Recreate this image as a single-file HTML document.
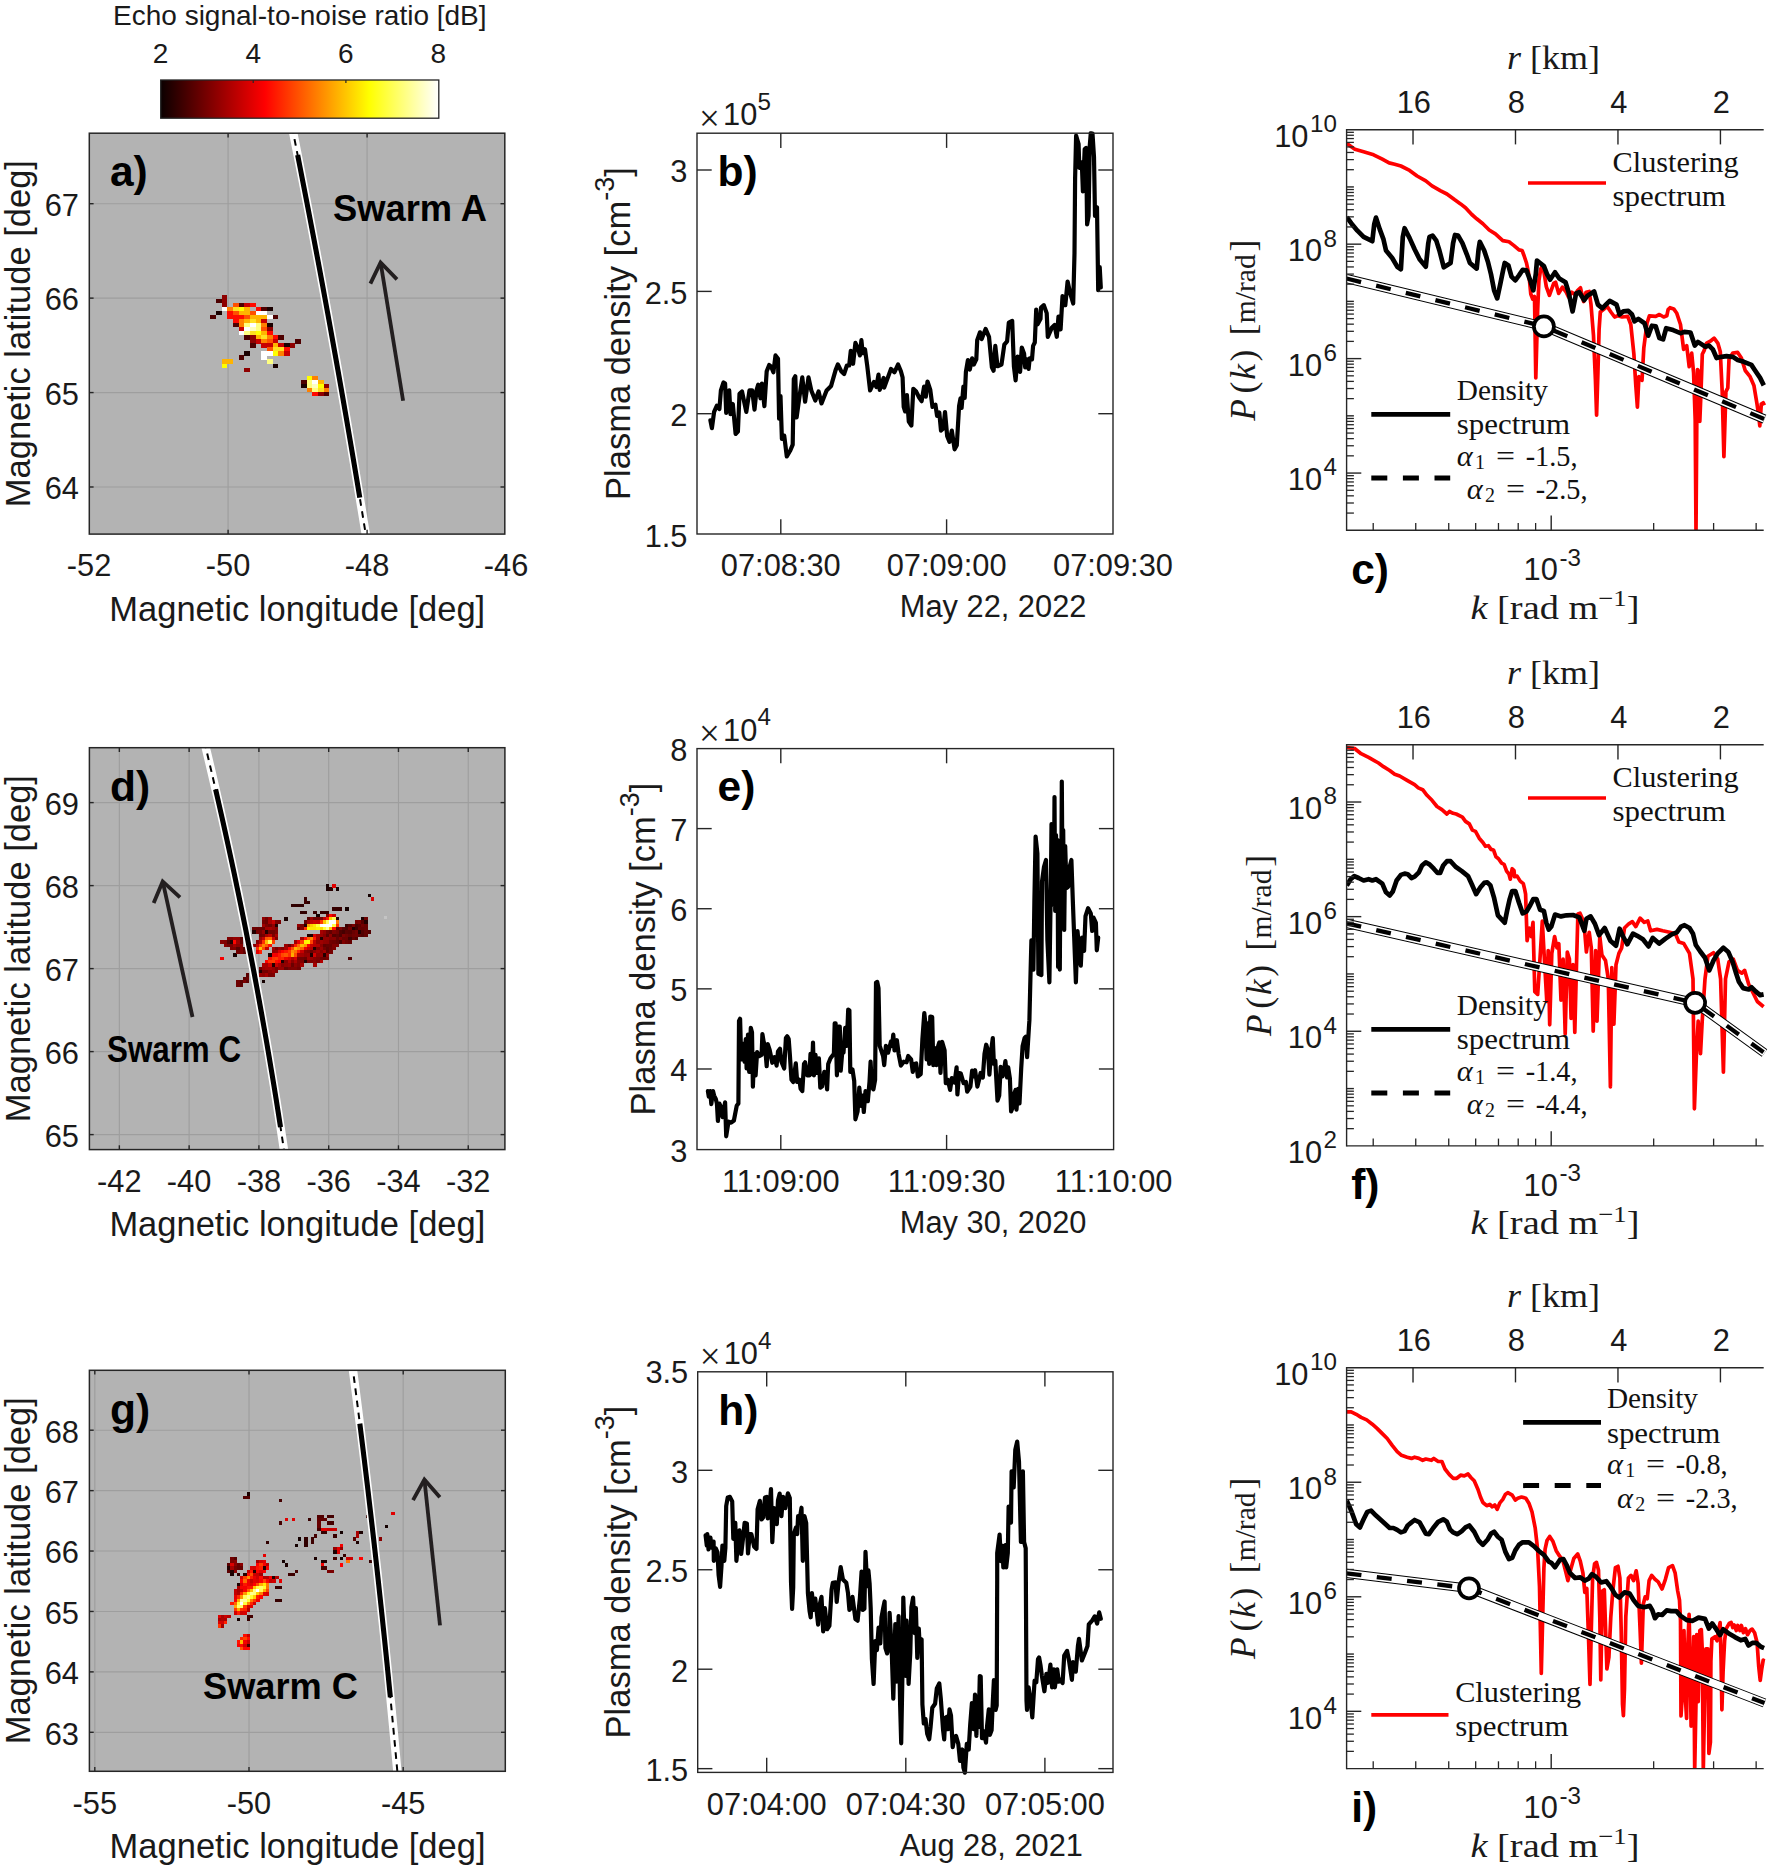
<!DOCTYPE html><html><head><meta charset="utf-8"><title>Figure</title><style>html,body{margin:0;padding:0;background:#fff}svg{display:block}</style></head><body>
<svg width="1770" height="1871" viewBox="0 0 1770 1871">
<rect width="1770" height="1871" fill="#fff"/>
<defs><linearGradient id="hot" x1="0" x2="1" y1="0" y2="0"><stop offset="0" stop-color="#0b0000"/><stop offset="0.375" stop-color="#ff0000"/><stop offset="0.75" stop-color="#ffff00"/><stop offset="1" stop-color="#ffffff"/></linearGradient></defs>
<rect x="160.7" y="80" width="278.1" height="38.2" fill="url(#hot)" stroke="#262626" stroke-width="1.3"/>
<text x="160.5" y="62.8" font-size="28" text-anchor="middle" font-family='"Liberation Sans", Arial, sans-serif' font-weight="normal" font-style="normal" fill="#1a1a1a" >2</text>
<text x="253.2" y="62.8" font-size="28" text-anchor="middle" font-family='"Liberation Sans", Arial, sans-serif' font-weight="normal" font-style="normal" fill="#1a1a1a" >4</text>
<line x1="253.2" y1="80" x2="253.2" y2="83" stroke="#262626" stroke-width="1.2" />
<text x="345.9" y="62.8" font-size="28" text-anchor="middle" font-family='"Liberation Sans", Arial, sans-serif' font-weight="normal" font-style="normal" fill="#1a1a1a" >6</text>
<line x1="345.9" y1="80" x2="345.9" y2="83" stroke="#262626" stroke-width="1.2" />
<text x="438.3" y="62.8" font-size="28" text-anchor="middle" font-family='"Liberation Sans", Arial, sans-serif' font-weight="normal" font-style="normal" fill="#1a1a1a" >8</text>
<text x="299.8" y="24.6" font-size="28" text-anchor="middle" font-family='"Liberation Sans", Arial, sans-serif' font-weight="normal" font-style="normal" fill="#1a1a1a" >Echo signal-to-noise ratio [dB]</text>
<rect x="89.3" y="133.2" width="415.5" height="400.9" fill="#b3b3b3"/>
<line x1="228.1" y1="133.2" x2="228.1" y2="534.1" stroke="#9e9e9e" stroke-width="1.15" />
<line x1="367.1" y1="133.2" x2="367.1" y2="534.1" stroke="#9e9e9e" stroke-width="1.15" />
<line x1="89.3" y1="486.99" x2="504.8" y2="486.99" stroke="#9e9e9e" stroke-width="1.15" />
<line x1="89.3" y1="392.56" x2="504.8" y2="392.56" stroke="#9e9e9e" stroke-width="1.15" />
<line x1="89.3" y1="298.13" x2="504.8" y2="298.13" stroke="#9e9e9e" stroke-width="1.15" />
<line x1="89.3" y1="203.7" x2="504.8" y2="203.7" stroke="#9e9e9e" stroke-width="1.15" />
<g shape-rendering="crispEdges">
<rect x="221.61" y="295.12" width="5.81" height="4.17" fill="#8f0000"/>
<rect x="215.95" y="299.15" width="5.81" height="4.17" fill="#4d0000"/>
<rect x="221.61" y="299.15" width="5.81" height="4.17" fill="#8f0000"/>
<rect x="221.61" y="303.17" width="5.81" height="4.17" fill="#8f0000"/>
<rect x="232.94" y="303.17" width="5.81" height="4.17" fill="#ff5000"/>
<rect x="238.6" y="303.17" width="5.81" height="4.17" fill="#4d0000"/>
<rect x="244.26" y="303.17" width="5.81" height="4.17" fill="#c80000"/>
<rect x="249.92" y="303.17" width="5.81" height="4.17" fill="#ff0a00"/>
<rect x="221.61" y="307.19" width="5.81" height="4.17" fill="#ffffff"/>
<rect x="227.27" y="307.19" width="5.81" height="4.17" fill="#ff8000"/>
<rect x="232.94" y="307.19" width="5.81" height="4.17" fill="#ffe020"/>
<rect x="238.6" y="307.19" width="5.81" height="4.17" fill="#ffff00"/>
<rect x="244.26" y="307.19" width="5.81" height="4.17" fill="#ffb400"/>
<rect x="255.59" y="307.19" width="5.81" height="4.17" fill="#ff0a00"/>
<rect x="261.25" y="307.19" width="5.81" height="4.17" fill="#4d0000"/>
<rect x="266.91" y="307.19" width="5.81" height="4.17" fill="#1a0000"/>
<rect x="215.95" y="311.21" width="5.81" height="4.17" fill="#1a0000"/>
<rect x="227.27" y="311.21" width="5.81" height="4.17" fill="#ff0a00"/>
<rect x="232.94" y="311.21" width="5.81" height="4.17" fill="#ff5000"/>
<rect x="238.6" y="311.21" width="5.81" height="4.17" fill="#ffb400"/>
<rect x="244.26" y="311.21" width="5.81" height="4.17" fill="#ffb400"/>
<rect x="249.92" y="311.21" width="5.81" height="4.17" fill="#ff5000"/>
<rect x="255.59" y="311.21" width="5.81" height="4.17" fill="#ffffff"/>
<rect x="261.25" y="311.21" width="5.81" height="4.17" fill="#ffffff"/>
<rect x="210.28" y="315.23" width="5.81" height="4.17" fill="#4d0000"/>
<rect x="227.27" y="315.23" width="5.81" height="4.17" fill="#ff0a00"/>
<rect x="232.94" y="315.23" width="5.81" height="4.17" fill="#ff0a00"/>
<rect x="238.6" y="315.23" width="5.81" height="4.17" fill="#ff0a00"/>
<rect x="244.26" y="315.23" width="5.81" height="4.17" fill="#ff5000"/>
<rect x="249.92" y="315.23" width="5.81" height="4.17" fill="#ffb400"/>
<rect x="255.59" y="315.23" width="5.81" height="4.17" fill="#ffb400"/>
<rect x="261.25" y="315.23" width="5.81" height="4.17" fill="#ffb400"/>
<rect x="266.91" y="315.23" width="5.81" height="4.17" fill="#ffffff"/>
<rect x="272.58" y="315.23" width="5.81" height="4.17" fill="#4d0000"/>
<rect x="232.94" y="319.26" width="5.81" height="4.17" fill="#ff0a00"/>
<rect x="238.6" y="319.26" width="5.81" height="4.17" fill="#ff8000"/>
<rect x="244.26" y="319.26" width="5.81" height="4.17" fill="#ffb400"/>
<rect x="249.92" y="319.26" width="5.81" height="4.17" fill="#ffe020"/>
<rect x="255.59" y="319.26" width="5.81" height="4.17" fill="#ffb400"/>
<rect x="261.25" y="319.26" width="5.81" height="4.17" fill="#c80000"/>
<rect x="232.94" y="323.28" width="5.81" height="4.17" fill="#4d0000"/>
<rect x="238.6" y="323.28" width="5.81" height="4.17" fill="#ff8000"/>
<rect x="244.26" y="323.28" width="5.81" height="4.17" fill="#ffff80"/>
<rect x="249.92" y="323.28" width="5.81" height="4.17" fill="#ffffff"/>
<rect x="255.59" y="323.28" width="5.81" height="4.17" fill="#ffff80"/>
<rect x="261.25" y="323.28" width="5.81" height="4.17" fill="#ff8000"/>
<rect x="266.91" y="323.28" width="5.81" height="4.17" fill="#1a0000"/>
<rect x="238.6" y="327.3" width="5.81" height="4.17" fill="#c80000"/>
<rect x="244.26" y="327.3" width="5.81" height="4.17" fill="#ffffff"/>
<rect x="249.92" y="327.3" width="5.81" height="4.17" fill="#ffffc0"/>
<rect x="255.59" y="327.3" width="5.81" height="4.17" fill="#ffff80"/>
<rect x="261.25" y="327.3" width="5.81" height="4.17" fill="#ff5000"/>
<rect x="266.91" y="327.3" width="5.81" height="4.17" fill="#8f0000"/>
<rect x="238.6" y="331.32" width="5.81" height="4.17" fill="#ffffff"/>
<rect x="244.26" y="331.32" width="5.81" height="4.17" fill="#ffff80"/>
<rect x="249.92" y="331.32" width="5.81" height="4.17" fill="#ffe020"/>
<rect x="255.59" y="331.32" width="5.81" height="4.17" fill="#ffff00"/>
<rect x="261.25" y="331.32" width="5.81" height="4.17" fill="#ffb400"/>
<rect x="266.91" y="331.32" width="5.81" height="4.17" fill="#ff0a00"/>
<rect x="244.26" y="335.34" width="5.81" height="4.17" fill="#4d0000"/>
<rect x="249.92" y="335.34" width="5.81" height="4.17" fill="#8f0000"/>
<rect x="255.59" y="335.34" width="5.81" height="4.17" fill="#ffb400"/>
<rect x="261.25" y="335.34" width="5.81" height="4.17" fill="#ffe020"/>
<rect x="266.91" y="335.34" width="5.81" height="4.17" fill="#ff8000"/>
<rect x="272.58" y="335.34" width="5.81" height="4.17" fill="#ff0a00"/>
<rect x="278.24" y="335.34" width="5.81" height="4.17" fill="#4d0000"/>
<rect x="249.92" y="339.37" width="5.81" height="4.17" fill="#8f0000"/>
<rect x="255.59" y="339.37" width="5.81" height="4.17" fill="#c80000"/>
<rect x="261.25" y="339.37" width="5.81" height="4.17" fill="#ff8000"/>
<rect x="266.91" y="339.37" width="5.81" height="4.17" fill="#ff5000"/>
<rect x="272.58" y="339.37" width="5.81" height="4.17" fill="#c80000"/>
<rect x="295.23" y="339.37" width="5.81" height="4.17" fill="#4d0000"/>
<rect x="249.92" y="343.39" width="5.81" height="4.17" fill="#4d0000"/>
<rect x="261.25" y="343.39" width="5.81" height="4.17" fill="#c80000"/>
<rect x="266.91" y="343.39" width="5.81" height="4.17" fill="#c80000"/>
<rect x="272.58" y="343.39" width="5.81" height="4.17" fill="#ffb400"/>
<rect x="278.24" y="343.39" width="5.81" height="4.17" fill="#c80000"/>
<rect x="283.9" y="343.39" width="5.81" height="4.17" fill="#1a0000"/>
<rect x="289.57" y="343.39" width="5.81" height="4.17" fill="#8f0000"/>
<rect x="266.91" y="347.41" width="5.81" height="4.17" fill="#ff5000"/>
<rect x="272.58" y="347.41" width="5.81" height="4.17" fill="#ffe020"/>
<rect x="278.24" y="347.41" width="5.81" height="4.17" fill="#ffe020"/>
<rect x="283.9" y="347.41" width="5.81" height="4.17" fill="#ff0a00"/>
<rect x="244.26" y="351.43" width="5.81" height="4.17" fill="#1a0000"/>
<rect x="261.25" y="351.43" width="5.81" height="4.17" fill="#ffffff"/>
<rect x="266.91" y="351.43" width="5.81" height="4.17" fill="#ffffff"/>
<rect x="272.58" y="351.43" width="5.81" height="4.17" fill="#ffff00"/>
<rect x="278.24" y="351.43" width="5.81" height="4.17" fill="#ff8000"/>
<rect x="283.9" y="351.43" width="5.81" height="4.17" fill="#c80000"/>
<rect x="238.6" y="355.45" width="5.81" height="4.17" fill="#4d0000"/>
<rect x="261.25" y="355.45" width="5.81" height="4.17" fill="#ffffff"/>
<rect x="221.61" y="359.48" width="5.81" height="4.17" fill="#ffb400"/>
<rect x="227.27" y="359.48" width="5.81" height="4.17" fill="#ffb400"/>
<rect x="266.91" y="359.48" width="5.81" height="4.17" fill="#ffff80"/>
<rect x="221.61" y="363.5" width="5.81" height="4.17" fill="#ffff00"/>
<rect x="272.58" y="363.5" width="5.81" height="4.17" fill="#1a0000"/>
<rect x="244.26" y="367.52" width="5.81" height="4.17" fill="#8f0000"/>
<rect x="306.56" y="375.56" width="5.81" height="4.17" fill="#ffff00"/>
<rect x="312.22" y="375.56" width="5.81" height="4.17" fill="#ff8000"/>
<rect x="300.89" y="379.59" width="5.81" height="4.17" fill="#4d0000"/>
<rect x="306.56" y="379.59" width="5.81" height="4.17" fill="#ffff80"/>
<rect x="312.22" y="379.59" width="5.81" height="4.17" fill="#ffffff"/>
<rect x="317.88" y="379.59" width="5.81" height="4.17" fill="#ffb400"/>
<rect x="300.89" y="383.61" width="5.81" height="4.17" fill="#1a0000"/>
<rect x="306.56" y="383.61" width="5.81" height="4.17" fill="#ffff80"/>
<rect x="312.22" y="383.61" width="5.81" height="4.17" fill="#ffffc0"/>
<rect x="317.88" y="383.61" width="5.81" height="4.17" fill="#ffff00"/>
<rect x="323.55" y="383.61" width="5.81" height="4.17" fill="#8f0000"/>
<rect x="306.56" y="387.63" width="5.81" height="4.17" fill="#ff8000"/>
<rect x="312.22" y="387.63" width="5.81" height="4.17" fill="#ffff80"/>
<rect x="317.88" y="387.63" width="5.81" height="4.17" fill="#ffe020"/>
<rect x="323.55" y="387.63" width="5.81" height="4.17" fill="#ff8000"/>
<rect x="312.22" y="391.65" width="5.81" height="4.17" fill="#ff0a00"/>
<rect x="317.88" y="391.65" width="5.81" height="4.17" fill="#8f0000"/>
<rect x="323.55" y="391.65" width="5.81" height="4.17" fill="#4d0000"/>
</g>
<clipPath id="clipa"><rect x="89.3" y="133.2" width="415.5" height="400.9"/></clipPath>
<g clip-path="url(#clipa)" fill="none">
<polyline points="292.1,127.2 295.53,144.4 298.93,161.61 302.3,178.81 305.65,196.02 308.97,213.22 312.26,230.43 315.52,247.63 318.75,264.83 321.96,282.04 325.14,299.24 328.29,316.45 331.41,333.65 334.5,350.85 337.57,368.06 340.61,385.26 343.62,402.47 346.6,419.67 349.55,436.88 352.48,454.08 355.38,471.28 358.25,488.49 361.1,505.69 363.91,522.9 366.7,540.1" stroke="#fff" stroke-width="8.4"/>
<polyline points="292.1,127.2 295.53,144.4 298.93,161.61 302.3,178.81 305.65,196.02 308.97,213.22 312.26,230.43 315.52,247.63 318.75,264.83 321.96,282.04 325.14,299.24 328.29,316.45 331.41,333.65 334.5,350.85 337.57,368.06 340.61,385.26 343.62,402.47 346.6,419.67 349.55,436.88 352.48,454.08 355.38,471.28 358.25,488.49 361.1,505.69 363.91,522.9 366.7,540.1" stroke="#000" stroke-width="2" stroke-dasharray="6.6 5.6"/>
<polyline points="297.65,155.1 300.46,169.38 303.25,183.65 306.02,197.93 308.77,212.2 311.5,226.47 314.22,240.75 316.91,255.03 319.59,269.3 322.24,283.57 324.88,297.85 327.5,312.12 330.09,326.4 332.67,340.68 335.23,354.95 337.77,369.23 340.3,383.5 342.8,397.78 345.28,412.05 347.75,426.33 350.19,440.6 352.62,454.88 355.02,469.15 357.41,483.42 359.78,497.7" stroke="#000" stroke-width="5.1"/>
</g>
<line x1="403.1" y1="400.7" x2="380.6" y2="262.5" stroke="#231f20" stroke-width="3.8" />
<polyline points="397,279.33 380.6,262.5 370.39,283.67" fill="none" stroke="#231f20" stroke-width="3.8" stroke-linejoin="miter"/>
<rect x="89.3" y="133.2" width="415.5" height="400.9" fill="none" stroke="#262626" stroke-width="1.5"/>
<text x="89.1" y="576.3" font-size="30.8" text-anchor="middle" font-family='"Liberation Sans", Arial, sans-serif' font-weight="normal" font-style="normal" fill="#1a1a1a" >-52</text>
<line x1="228.1" y1="534.1" x2="228.1" y2="529.8" stroke="#262626" stroke-width="1.4" />
<line x1="228.1" y1="133.2" x2="228.1" y2="137.5" stroke="#262626" stroke-width="1.4" />
<text x="228.1" y="576.3" font-size="30.8" text-anchor="middle" font-family='"Liberation Sans", Arial, sans-serif' font-weight="normal" font-style="normal" fill="#1a1a1a" >-50</text>
<line x1="367.1" y1="534.1" x2="367.1" y2="529.8" stroke="#262626" stroke-width="1.4" />
<line x1="367.1" y1="133.2" x2="367.1" y2="137.5" stroke="#262626" stroke-width="1.4" />
<text x="367.1" y="576.3" font-size="30.8" text-anchor="middle" font-family='"Liberation Sans", Arial, sans-serif' font-weight="normal" font-style="normal" fill="#1a1a1a" >-48</text>
<text x="506.1" y="576.3" font-size="30.8" text-anchor="middle" font-family='"Liberation Sans", Arial, sans-serif' font-weight="normal" font-style="normal" fill="#1a1a1a" >-46</text>
<line x1="89.3" y1="486.99" x2="93.6" y2="486.99" stroke="#262626" stroke-width="1.4" />
<line x1="504.8" y1="486.99" x2="500.5" y2="486.99" stroke="#262626" stroke-width="1.4" />
<text x="78.9" y="499.29" font-size="30.8" text-anchor="end" font-family='"Liberation Sans", Arial, sans-serif' font-weight="normal" font-style="normal" fill="#1a1a1a" >64</text>
<line x1="89.3" y1="392.56" x2="93.6" y2="392.56" stroke="#262626" stroke-width="1.4" />
<line x1="504.8" y1="392.56" x2="500.5" y2="392.56" stroke="#262626" stroke-width="1.4" />
<text x="78.9" y="404.86" font-size="30.8" text-anchor="end" font-family='"Liberation Sans", Arial, sans-serif' font-weight="normal" font-style="normal" fill="#1a1a1a" >65</text>
<line x1="89.3" y1="298.13" x2="93.6" y2="298.13" stroke="#262626" stroke-width="1.4" />
<line x1="504.8" y1="298.13" x2="500.5" y2="298.13" stroke="#262626" stroke-width="1.4" />
<text x="78.9" y="310.43" font-size="30.8" text-anchor="end" font-family='"Liberation Sans", Arial, sans-serif' font-weight="normal" font-style="normal" fill="#1a1a1a" >66</text>
<line x1="89.3" y1="203.7" x2="93.6" y2="203.7" stroke="#262626" stroke-width="1.4" />
<line x1="504.8" y1="203.7" x2="500.5" y2="203.7" stroke="#262626" stroke-width="1.4" />
<text x="78.9" y="216" font-size="30.8" text-anchor="end" font-family='"Liberation Sans", Arial, sans-serif' font-weight="normal" font-style="normal" fill="#1a1a1a" >67</text>
<text x="297.25" y="620.5" font-size="34.5" text-anchor="middle" font-family='"Liberation Sans", Arial, sans-serif' font-weight="normal" font-style="normal" fill="#1a1a1a" >Magnetic longitude [deg]</text>
<text transform="translate(30,333.65) rotate(-90)" font-size="34.5" text-anchor="middle" font-family='"Liberation Sans", Arial, sans-serif' fill="#1a1a1a">Magnetic latitude [deg]</text>
<text x="109.9" y="186.4" font-size="42.5" text-anchor="start" font-family='"Liberation Sans", Arial, sans-serif' font-weight="bold" font-style="normal" fill="#000" >a)</text>
<text x="333.1" y="221.4" font-size="37" text-anchor="start" font-family='"Liberation Sans", Arial, sans-serif' font-weight="bold" font-style="normal" fill="#000" textLength="154" lengthAdjust="spacingAndGlyphs">Swarm A</text>
<rect x="89.4" y="747.7" width="415.5" height="401.9" fill="#b3b3b3"/>
<line x1="119.35" y1="747.7" x2="119.35" y2="1149.6" stroke="#9e9e9e" stroke-width="1.15" />
<line x1="189.13" y1="747.7" x2="189.13" y2="1149.6" stroke="#9e9e9e" stroke-width="1.15" />
<line x1="258.91" y1="747.7" x2="258.91" y2="1149.6" stroke="#9e9e9e" stroke-width="1.15" />
<line x1="328.69" y1="747.7" x2="328.69" y2="1149.6" stroke="#9e9e9e" stroke-width="1.15" />
<line x1="398.47" y1="747.7" x2="398.47" y2="1149.6" stroke="#9e9e9e" stroke-width="1.15" />
<line x1="468.25" y1="747.7" x2="468.25" y2="1149.6" stroke="#9e9e9e" stroke-width="1.15" />
<line x1="89.4" y1="1134.6" x2="504.9" y2="1134.6" stroke="#9e9e9e" stroke-width="1.15" />
<line x1="89.4" y1="1051.6" x2="504.9" y2="1051.6" stroke="#9e9e9e" stroke-width="1.15" />
<line x1="89.4" y1="968.6" x2="504.9" y2="968.6" stroke="#9e9e9e" stroke-width="1.15" />
<line x1="89.4" y1="885.6" x2="504.9" y2="885.6" stroke="#9e9e9e" stroke-width="1.15" />
<line x1="89.4" y1="802.6" x2="504.9" y2="802.6" stroke="#9e9e9e" stroke-width="1.15" />
<g shape-rendering="crispEdges">
<rect x="220.4" y="940.2" width="3.32" height="3.42" fill="#870000"/>
<rect x="220.4" y="956.7" width="3.32" height="3.42" fill="#f50000"/>
<rect x="223.6" y="940.2" width="3.32" height="3.42" fill="#800000"/>
<rect x="223.6" y="943.5" width="3.32" height="3.42" fill="#890000"/>
<rect x="226.8" y="936.9" width="3.32" height="3.42" fill="#7f0000"/>
<rect x="226.8" y="940.2" width="3.32" height="3.42" fill="#530000"/>
<rect x="226.8" y="943.5" width="3.32" height="3.42" fill="#730000"/>
<rect x="230" y="936.9" width="3.32" height="3.42" fill="#820000"/>
<rect x="230" y="940.2" width="3.32" height="3.42" fill="#220000"/>
<rect x="230" y="943.5" width="3.32" height="3.42" fill="#7a0000"/>
<rect x="230" y="946.8" width="3.32" height="3.42" fill="#7d0000"/>
<rect x="233.2" y="936.9" width="3.32" height="3.42" fill="#950000"/>
<rect x="233.2" y="940.2" width="3.32" height="3.42" fill="#ff0500"/>
<rect x="233.2" y="943.5" width="3.32" height="3.42" fill="#a00000"/>
<rect x="233.2" y="946.8" width="3.32" height="3.42" fill="#830000"/>
<rect x="233.2" y="953.4" width="3.32" height="3.42" fill="#140000"/>
<rect x="236.4" y="936.9" width="3.32" height="3.42" fill="#930000"/>
<rect x="236.4" y="940.2" width="3.32" height="3.42" fill="#9e0000"/>
<rect x="236.4" y="943.5" width="3.32" height="3.42" fill="#8c0000"/>
<rect x="236.4" y="946.8" width="3.32" height="3.42" fill="#590000"/>
<rect x="236.4" y="950.1" width="3.32" height="3.42" fill="#700000"/>
<rect x="236.4" y="979.8" width="3.32" height="3.42" fill="#6d0000"/>
<rect x="236.4" y="983.1" width="3.32" height="3.42" fill="#6d0000"/>
<rect x="239.6" y="936.9" width="3.32" height="3.42" fill="#550000"/>
<rect x="239.6" y="940.2" width="3.32" height="3.42" fill="#5f0000"/>
<rect x="239.6" y="943.5" width="3.32" height="3.42" fill="#850000"/>
<rect x="239.6" y="946.8" width="3.32" height="3.42" fill="#810000"/>
<rect x="239.6" y="950.1" width="3.32" height="3.42" fill="#7e0000"/>
<rect x="239.6" y="979.8" width="3.32" height="3.42" fill="#580000"/>
<rect x="239.6" y="983.1" width="3.32" height="3.42" fill="#5c0000"/>
<rect x="242.8" y="946.8" width="3.32" height="3.42" fill="#570000"/>
<rect x="242.8" y="950.1" width="3.32" height="3.42" fill="#620000"/>
<rect x="242.8" y="976.5" width="3.32" height="3.42" fill="#590000"/>
<rect x="242.8" y="979.8" width="3.32" height="3.42" fill="#7a0000"/>
<rect x="246" y="973.2" width="3.32" height="3.42" fill="#5a0000"/>
<rect x="246" y="976.5" width="3.32" height="3.42" fill="#660000"/>
<rect x="246" y="979.8" width="3.32" height="3.42" fill="#590000"/>
<rect x="252.4" y="927" width="3.32" height="3.42" fill="#6c0000"/>
<rect x="252.4" y="930.3" width="3.32" height="3.42" fill="#220000"/>
<rect x="252.4" y="943.5" width="3.32" height="3.42" fill="#870000"/>
<rect x="255.6" y="927" width="3.32" height="3.42" fill="#690000"/>
<rect x="255.6" y="930.3" width="3.32" height="3.42" fill="#760000"/>
<rect x="255.6" y="940.2" width="3.32" height="3.42" fill="#8a0000"/>
<rect x="255.6" y="943.5" width="3.32" height="3.42" fill="#c50000"/>
<rect x="255.6" y="946.8" width="3.32" height="3.42" fill="#ff2c00"/>
<rect x="255.6" y="950.1" width="3.32" height="3.42" fill="#e40000"/>
<rect x="258.8" y="927" width="3.32" height="3.42" fill="#6d0000"/>
<rect x="258.8" y="930.3" width="3.32" height="3.42" fill="#740000"/>
<rect x="258.8" y="933.6" width="3.32" height="3.42" fill="#6b0000"/>
<rect x="258.8" y="936.9" width="3.32" height="3.42" fill="#980000"/>
<rect x="258.8" y="940.2" width="3.32" height="3.42" fill="#b20000"/>
<rect x="258.8" y="943.5" width="3.32" height="3.42" fill="#ff3a00"/>
<rect x="258.8" y="946.8" width="3.32" height="3.42" fill="#ffbd00"/>
<rect x="258.8" y="950.1" width="3.32" height="3.42" fill="#ff1e00"/>
<rect x="258.8" y="966.6" width="3.32" height="3.42" fill="#720000"/>
<rect x="258.8" y="969.9" width="3.32" height="3.42" fill="#220000"/>
<rect x="258.8" y="973.2" width="3.32" height="3.42" fill="#980000"/>
<rect x="262" y="917.1" width="3.32" height="3.42" fill="#930000"/>
<rect x="262" y="920.4" width="3.32" height="3.42" fill="#760000"/>
<rect x="262" y="923.7" width="3.32" height="3.42" fill="#a00000"/>
<rect x="262" y="927" width="3.32" height="3.42" fill="#6a0000"/>
<rect x="262" y="930.3" width="3.32" height="3.42" fill="#930000"/>
<rect x="262" y="933.6" width="3.32" height="3.42" fill="#750000"/>
<rect x="262" y="936.9" width="3.32" height="3.42" fill="#c20000"/>
<rect x="262" y="940.2" width="3.32" height="3.42" fill="#ff3100"/>
<rect x="262" y="943.5" width="3.32" height="3.42" fill="#ff8400"/>
<rect x="262" y="946.8" width="3.32" height="3.42" fill="#ff4f00"/>
<rect x="262" y="963.3" width="3.32" height="3.42" fill="#aa0000"/>
<rect x="262" y="966.6" width="3.32" height="3.42" fill="#9a0000"/>
<rect x="262" y="969.9" width="3.32" height="3.42" fill="#760000"/>
<rect x="262" y="973.2" width="3.32" height="3.42" fill="#8e0000"/>
<rect x="262" y="979.8" width="3.32" height="3.42" fill="#140000"/>
<rect x="265.2" y="917.1" width="3.32" height="3.42" fill="#730000"/>
<rect x="265.2" y="920.4" width="3.32" height="3.42" fill="#6b0000"/>
<rect x="265.2" y="923.7" width="3.32" height="3.42" fill="#7d0000"/>
<rect x="265.2" y="927" width="3.32" height="3.42" fill="#9f0000"/>
<rect x="265.2" y="930.3" width="3.32" height="3.42" fill="#220000"/>
<rect x="265.2" y="933.6" width="3.32" height="3.42" fill="#a50000"/>
<rect x="265.2" y="936.9" width="3.32" height="3.42" fill="#ff5700"/>
<rect x="265.2" y="940.2" width="3.32" height="3.42" fill="#ffba00"/>
<rect x="265.2" y="943.5" width="3.32" height="3.42" fill="#ff5d00"/>
<rect x="265.2" y="946.8" width="3.32" height="3.42" fill="#c30000"/>
<rect x="265.2" y="960" width="3.32" height="3.42" fill="#ff0100"/>
<rect x="265.2" y="963.3" width="3.32" height="3.42" fill="#a60000"/>
<rect x="265.2" y="966.6" width="3.32" height="3.42" fill="#a50000"/>
<rect x="265.2" y="969.9" width="3.32" height="3.42" fill="#730000"/>
<rect x="265.2" y="973.2" width="3.32" height="3.42" fill="#a50000"/>
<rect x="268.4" y="917.1" width="3.32" height="3.42" fill="#9a0000"/>
<rect x="268.4" y="920.4" width="3.32" height="3.42" fill="#a70000"/>
<rect x="268.4" y="923.7" width="3.32" height="3.42" fill="#700000"/>
<rect x="268.4" y="927" width="3.32" height="3.42" fill="#a60000"/>
<rect x="268.4" y="930.3" width="3.32" height="3.42" fill="#6f0000"/>
<rect x="268.4" y="933.6" width="3.32" height="3.42" fill="#be0000"/>
<rect x="268.4" y="936.9" width="3.32" height="3.42" fill="#ff6400"/>
<rect x="268.4" y="940.2" width="3.32" height="3.42" fill="#ffff5b"/>
<rect x="268.4" y="943.5" width="3.32" height="3.42" fill="#ff1400"/>
<rect x="268.4" y="953.4" width="3.32" height="3.42" fill="#220000"/>
<rect x="268.4" y="956.7" width="3.32" height="3.42" fill="#ff0e00"/>
<rect x="268.4" y="960" width="3.32" height="3.42" fill="#ff3600"/>
<rect x="268.4" y="963.3" width="3.32" height="3.42" fill="#cf0000"/>
<rect x="268.4" y="966.6" width="3.32" height="3.42" fill="#a40000"/>
<rect x="268.4" y="969.9" width="3.32" height="3.42" fill="#8b0000"/>
<rect x="268.4" y="973.2" width="3.32" height="3.42" fill="#7b0000"/>
<rect x="271.6" y="920.4" width="3.32" height="3.42" fill="#c70000"/>
<rect x="271.6" y="923.7" width="3.32" height="3.42" fill="#930000"/>
<rect x="271.6" y="927" width="3.32" height="3.42" fill="#980000"/>
<rect x="271.6" y="930.3" width="3.32" height="3.42" fill="#700000"/>
<rect x="271.6" y="933.6" width="3.32" height="3.42" fill="#7a0000"/>
<rect x="271.6" y="936.9" width="3.32" height="3.42" fill="#ce0000"/>
<rect x="271.6" y="940.2" width="3.32" height="3.42" fill="#ff4100"/>
<rect x="271.6" y="946.8" width="3.32" height="3.42" fill="#a20000"/>
<rect x="271.6" y="950.1" width="3.32" height="3.42" fill="#960000"/>
<rect x="271.6" y="953.4" width="3.32" height="3.42" fill="#f60000"/>
<rect x="271.6" y="956.7" width="3.32" height="3.42" fill="#ff3400"/>
<rect x="271.6" y="960" width="3.32" height="3.42" fill="#ff3f00"/>
<rect x="271.6" y="963.3" width="3.32" height="3.42" fill="#220000"/>
<rect x="271.6" y="966.6" width="3.32" height="3.42" fill="#940000"/>
<rect x="271.6" y="969.9" width="3.32" height="3.42" fill="#9a0000"/>
<rect x="271.6" y="973.2" width="3.32" height="3.42" fill="#800000"/>
<rect x="274.8" y="920.4" width="3.32" height="3.42" fill="#7d0000"/>
<rect x="274.8" y="923.7" width="3.32" height="3.42" fill="#220000"/>
<rect x="274.8" y="927" width="3.32" height="3.42" fill="#830000"/>
<rect x="274.8" y="930.3" width="3.32" height="3.42" fill="#7f0000"/>
<rect x="274.8" y="933.6" width="3.32" height="3.42" fill="#a60000"/>
<rect x="274.8" y="936.9" width="3.32" height="3.42" fill="#810000"/>
<rect x="274.8" y="946.8" width="3.32" height="3.42" fill="#780000"/>
<rect x="274.8" y="950.1" width="3.32" height="3.42" fill="#a00000"/>
<rect x="274.8" y="953.4" width="3.32" height="3.42" fill="#f20000"/>
<rect x="274.8" y="956.7" width="3.32" height="3.42" fill="#ff3d00"/>
<rect x="274.8" y="960" width="3.32" height="3.42" fill="#ff0b00"/>
<rect x="274.8" y="963.3" width="3.32" height="3.42" fill="#cc0000"/>
<rect x="274.8" y="966.6" width="3.32" height="3.42" fill="#7a0000"/>
<rect x="274.8" y="969.9" width="3.32" height="3.42" fill="#820000"/>
<rect x="278" y="920.4" width="3.32" height="3.42" fill="#780000"/>
<rect x="278" y="946.8" width="3.32" height="3.42" fill="#980000"/>
<rect x="278" y="950.1" width="3.32" height="3.42" fill="#da0000"/>
<rect x="278" y="953.4" width="3.32" height="3.42" fill="#ff1700"/>
<rect x="278" y="956.7" width="3.32" height="3.42" fill="#ff1800"/>
<rect x="278" y="960" width="3.32" height="3.42" fill="#fd0000"/>
<rect x="278" y="963.3" width="3.32" height="3.42" fill="#a90000"/>
<rect x="278" y="966.6" width="3.32" height="3.42" fill="#990000"/>
<rect x="281.2" y="946.8" width="3.32" height="3.42" fill="#850000"/>
<rect x="281.2" y="950.1" width="3.32" height="3.42" fill="#ff0100"/>
<rect x="281.2" y="953.4" width="3.32" height="3.42" fill="#ff4800"/>
<rect x="281.2" y="956.7" width="3.32" height="3.42" fill="#ff2400"/>
<rect x="281.2" y="960" width="3.32" height="3.42" fill="#220000"/>
<rect x="281.2" y="963.3" width="3.32" height="3.42" fill="#860000"/>
<rect x="281.2" y="966.6" width="3.32" height="3.42" fill="#9a0000"/>
<rect x="284.4" y="917.1" width="3.32" height="3.42" fill="#1b0000"/>
<rect x="284.4" y="943.5" width="3.32" height="3.42" fill="#990000"/>
<rect x="284.4" y="946.8" width="3.32" height="3.42" fill="#a90000"/>
<rect x="284.4" y="950.1" width="3.32" height="3.42" fill="#ff1700"/>
<rect x="284.4" y="953.4" width="3.32" height="3.42" fill="#ff5700"/>
<rect x="284.4" y="956.7" width="3.32" height="3.42" fill="#ef0000"/>
<rect x="284.4" y="960" width="3.32" height="3.42" fill="#880000"/>
<rect x="284.4" y="963.3" width="3.32" height="3.42" fill="#930000"/>
<rect x="284.4" y="966.6" width="3.32" height="3.42" fill="#680000"/>
<rect x="287.6" y="943.5" width="3.32" height="3.42" fill="#700000"/>
<rect x="287.6" y="946.8" width="3.32" height="3.42" fill="#fc0000"/>
<rect x="287.6" y="950.1" width="3.32" height="3.42" fill="#ff3a00"/>
<rect x="287.6" y="953.4" width="3.32" height="3.42" fill="#ff2f00"/>
<rect x="287.6" y="956.7" width="3.32" height="3.42" fill="#d90000"/>
<rect x="287.6" y="960" width="3.32" height="3.42" fill="#b80000"/>
<rect x="287.6" y="963.3" width="3.32" height="3.42" fill="#9d0000"/>
<rect x="287.6" y="966.6" width="3.32" height="3.42" fill="#7b0000"/>
<rect x="290.8" y="903.9" width="3.32" height="3.42" fill="#300000"/>
<rect x="290.8" y="943.5" width="3.32" height="3.42" fill="#ab0000"/>
<rect x="290.8" y="946.8" width="3.32" height="3.42" fill="#ff4b00"/>
<rect x="290.8" y="950.1" width="3.32" height="3.42" fill="#ff9200"/>
<rect x="290.8" y="953.4" width="3.32" height="3.42" fill="#ffad00"/>
<rect x="290.8" y="956.7" width="3.32" height="3.42" fill="#b30000"/>
<rect x="290.8" y="960" width="3.32" height="3.42" fill="#8a0000"/>
<rect x="290.8" y="963.3" width="3.32" height="3.42" fill="#6b0000"/>
<rect x="290.8" y="966.6" width="3.32" height="3.42" fill="#7f0000"/>
<rect x="294" y="903.9" width="3.32" height="3.42" fill="#300000"/>
<rect x="294" y="940.2" width="3.32" height="3.42" fill="#9e0000"/>
<rect x="294" y="943.5" width="3.32" height="3.42" fill="#ff1c00"/>
<rect x="294" y="946.8" width="3.32" height="3.42" fill="#ffb500"/>
<rect x="294" y="950.1" width="3.32" height="3.42" fill="#ff7000"/>
<rect x="294" y="953.4" width="3.32" height="3.42" fill="#ff4b00"/>
<rect x="294" y="956.7" width="3.32" height="3.42" fill="#d30000"/>
<rect x="294" y="960" width="3.32" height="3.42" fill="#ac0000"/>
<rect x="294" y="963.3" width="3.32" height="3.42" fill="#8d0000"/>
<rect x="294" y="966.6" width="3.32" height="3.42" fill="#7f0000"/>
<rect x="297.2" y="903.9" width="3.32" height="3.42" fill="#300000"/>
<rect x="297.2" y="923.7" width="3.32" height="3.42" fill="#940000"/>
<rect x="297.2" y="927" width="3.32" height="3.42" fill="#630000"/>
<rect x="297.2" y="940.2" width="3.32" height="3.42" fill="#e70000"/>
<rect x="297.2" y="943.5" width="3.32" height="3.42" fill="#ff6b00"/>
<rect x="297.2" y="946.8" width="3.32" height="3.42" fill="#ff9100"/>
<rect x="297.2" y="950.1" width="3.32" height="3.42" fill="#ff1f00"/>
<rect x="297.2" y="953.4" width="3.32" height="3.42" fill="#ae0000"/>
<rect x="297.2" y="956.7" width="3.32" height="3.42" fill="#780000"/>
<rect x="297.2" y="960" width="3.32" height="3.42" fill="#810000"/>
<rect x="297.2" y="963.3" width="3.32" height="3.42" fill="#7d0000"/>
<rect x="297.2" y="966.6" width="3.32" height="3.42" fill="#720000"/>
<rect x="300.4" y="903.9" width="3.32" height="3.42" fill="#300000"/>
<rect x="300.4" y="910.5" width="3.32" height="3.42" fill="#300000"/>
<rect x="300.4" y="923.7" width="3.32" height="3.42" fill="#7b0000"/>
<rect x="300.4" y="927" width="3.32" height="3.42" fill="#850000"/>
<rect x="300.4" y="936.9" width="3.32" height="3.42" fill="#a00000"/>
<rect x="300.4" y="940.2" width="3.32" height="3.42" fill="#ff3e00"/>
<rect x="300.4" y="943.5" width="3.32" height="3.42" fill="#ffbd00"/>
<rect x="300.4" y="946.8" width="3.32" height="3.42" fill="#ff6100"/>
<rect x="300.4" y="950.1" width="3.32" height="3.42" fill="#c70000"/>
<rect x="300.4" y="953.4" width="3.32" height="3.42" fill="#a30000"/>
<rect x="300.4" y="956.7" width="3.32" height="3.42" fill="#720000"/>
<rect x="300.4" y="960" width="3.32" height="3.42" fill="#800000"/>
<rect x="300.4" y="963.3" width="3.32" height="3.42" fill="#a30000"/>
<rect x="303.6" y="897.3" width="3.32" height="3.42" fill="#3d0000"/>
<rect x="303.6" y="900.6" width="3.32" height="3.42" fill="#3d0000"/>
<rect x="303.6" y="910.5" width="3.32" height="3.42" fill="#300000"/>
<rect x="303.6" y="920.4" width="3.32" height="3.42" fill="#680000"/>
<rect x="303.6" y="923.7" width="3.32" height="3.42" fill="#220000"/>
<rect x="303.6" y="927" width="3.32" height="3.42" fill="#ff2c00"/>
<rect x="303.6" y="936.9" width="3.32" height="3.42" fill="#ff0a00"/>
<rect x="303.6" y="940.2" width="3.32" height="3.42" fill="#fff500"/>
<rect x="303.6" y="943.5" width="3.32" height="3.42" fill="#ff9200"/>
<rect x="303.6" y="946.8" width="3.32" height="3.42" fill="#f00000"/>
<rect x="303.6" y="950.1" width="3.32" height="3.42" fill="#8a0000"/>
<rect x="303.6" y="953.4" width="3.32" height="3.42" fill="#920000"/>
<rect x="303.6" y="956.7" width="3.32" height="3.42" fill="#6a0000"/>
<rect x="303.6" y="960" width="3.32" height="3.42" fill="#220000"/>
<rect x="306.8" y="900.6" width="3.32" height="3.42" fill="#300000"/>
<rect x="306.8" y="917.1" width="3.32" height="3.42" fill="#560000"/>
<rect x="306.8" y="920.4" width="3.32" height="3.42" fill="#a10000"/>
<rect x="306.8" y="923.7" width="3.32" height="3.42" fill="#ffa100"/>
<rect x="306.8" y="927" width="3.32" height="3.42" fill="#fff600"/>
<rect x="306.8" y="933.6" width="3.32" height="3.42" fill="#220000"/>
<rect x="306.8" y="936.9" width="3.32" height="3.42" fill="#ff6200"/>
<rect x="306.8" y="940.2" width="3.32" height="3.42" fill="#ffff01"/>
<rect x="306.8" y="943.5" width="3.32" height="3.42" fill="#fc0000"/>
<rect x="306.8" y="946.8" width="3.32" height="3.42" fill="#c40000"/>
<rect x="306.8" y="950.1" width="3.32" height="3.42" fill="#800000"/>
<rect x="306.8" y="953.4" width="3.32" height="3.42" fill="#980000"/>
<rect x="306.8" y="956.7" width="3.32" height="3.42" fill="#9f0000"/>
<rect x="306.8" y="960" width="3.32" height="3.42" fill="#7e0000"/>
<rect x="310" y="917.1" width="3.32" height="3.42" fill="#950000"/>
<rect x="310" y="920.4" width="3.32" height="3.42" fill="#bd0000"/>
<rect x="310" y="923.7" width="3.32" height="3.42" fill="#ffcd00"/>
<rect x="310" y="927" width="3.32" height="3.42" fill="#ffe700"/>
<rect x="310" y="933.6" width="3.32" height="3.42" fill="#220000"/>
<rect x="310" y="936.9" width="3.32" height="3.42" fill="#ff8800"/>
<rect x="310" y="940.2" width="3.32" height="3.42" fill="#ff4500"/>
<rect x="310" y="943.5" width="3.32" height="3.42" fill="#c60000"/>
<rect x="310" y="946.8" width="3.32" height="3.42" fill="#b40000"/>
<rect x="310" y="950.1" width="3.32" height="3.42" fill="#6c0000"/>
<rect x="310" y="953.4" width="3.32" height="3.42" fill="#220000"/>
<rect x="310" y="956.7" width="3.32" height="3.42" fill="#970000"/>
<rect x="310" y="960" width="3.32" height="3.42" fill="#7c0000"/>
<rect x="313.2" y="910.5" width="3.32" height="3.42" fill="#360000"/>
<rect x="313.2" y="917.1" width="3.32" height="3.42" fill="#6b0000"/>
<rect x="313.2" y="920.4" width="3.32" height="3.42" fill="#cb0000"/>
<rect x="313.2" y="923.7" width="3.32" height="3.42" fill="#ffe700"/>
<rect x="313.2" y="927" width="3.32" height="3.42" fill="#ffe500"/>
<rect x="313.2" y="933.6" width="3.32" height="3.42" fill="#da0000"/>
<rect x="313.2" y="936.9" width="3.32" height="3.42" fill="#ff1500"/>
<rect x="313.2" y="940.2" width="3.32" height="3.42" fill="#bd0000"/>
<rect x="313.2" y="943.5" width="3.32" height="3.42" fill="#b70000"/>
<rect x="313.2" y="946.8" width="3.32" height="3.42" fill="#220000"/>
<rect x="313.2" y="950.1" width="3.32" height="3.42" fill="#8a0000"/>
<rect x="313.2" y="953.4" width="3.32" height="3.42" fill="#d40000"/>
<rect x="313.2" y="956.7" width="3.32" height="3.42" fill="#850000"/>
<rect x="313.2" y="960" width="3.32" height="3.42" fill="#8a0000"/>
<rect x="313.2" y="963.3" width="3.32" height="3.42" fill="#a50000"/>
<rect x="316.4" y="913.8" width="3.32" height="3.42" fill="#140000"/>
<rect x="316.4" y="917.1" width="3.32" height="3.42" fill="#6e0000"/>
<rect x="316.4" y="920.4" width="3.32" height="3.42" fill="#c50000"/>
<rect x="316.4" y="923.7" width="3.32" height="3.42" fill="#ffff40"/>
<rect x="316.4" y="927" width="3.32" height="3.42" fill="#fff400"/>
<rect x="316.4" y="933.6" width="3.32" height="3.42" fill="#a80000"/>
<rect x="316.4" y="936.9" width="3.32" height="3.42" fill="#a30000"/>
<rect x="316.4" y="940.2" width="3.32" height="3.42" fill="#8c0000"/>
<rect x="316.4" y="943.5" width="3.32" height="3.42" fill="#af0000"/>
<rect x="316.4" y="946.8" width="3.32" height="3.42" fill="#7e0000"/>
<rect x="316.4" y="950.1" width="3.32" height="3.42" fill="#9f0000"/>
<rect x="316.4" y="953.4" width="3.32" height="3.42" fill="#8d0000"/>
<rect x="316.4" y="956.7" width="3.32" height="3.42" fill="#7d0000"/>
<rect x="316.4" y="960" width="3.32" height="3.42" fill="#780000"/>
<rect x="319.6" y="910.5" width="3.32" height="3.42" fill="#360000"/>
<rect x="319.6" y="917.1" width="3.32" height="3.42" fill="#770000"/>
<rect x="319.6" y="920.4" width="3.32" height="3.42" fill="#ff3600"/>
<rect x="319.6" y="923.7" width="3.32" height="3.42" fill="#fffff8"/>
<rect x="319.6" y="927" width="3.32" height="3.42" fill="#ffdd00"/>
<rect x="319.6" y="930.3" width="3.32" height="3.42" fill="#a40000"/>
<rect x="319.6" y="933.6" width="3.32" height="3.42" fill="#9b0000"/>
<rect x="319.6" y="936.9" width="3.32" height="3.42" fill="#220000"/>
<rect x="319.6" y="940.2" width="3.32" height="3.42" fill="#9e0000"/>
<rect x="319.6" y="943.5" width="3.32" height="3.42" fill="#890000"/>
<rect x="319.6" y="946.8" width="3.32" height="3.42" fill="#990000"/>
<rect x="319.6" y="950.1" width="3.32" height="3.42" fill="#860000"/>
<rect x="319.6" y="953.4" width="3.32" height="3.42" fill="#940000"/>
<rect x="319.6" y="956.7" width="3.32" height="3.42" fill="#6e0000"/>
<rect x="319.6" y="960" width="3.32" height="3.42" fill="#b10000"/>
<rect x="322.8" y="910.5" width="3.32" height="3.42" fill="#360000"/>
<rect x="322.8" y="917.1" width="3.32" height="3.42" fill="#c00000"/>
<rect x="322.8" y="920.4" width="3.32" height="3.42" fill="#ffc400"/>
<rect x="322.8" y="923.7" width="3.32" height="3.42" fill="#ffffff"/>
<rect x="322.8" y="927" width="3.32" height="3.42" fill="#ffff3c"/>
<rect x="322.8" y="930.3" width="3.32" height="3.42" fill="#940000"/>
<rect x="322.8" y="933.6" width="3.32" height="3.42" fill="#860000"/>
<rect x="322.8" y="936.9" width="3.32" height="3.42" fill="#900000"/>
<rect x="322.8" y="940.2" width="3.32" height="3.42" fill="#910000"/>
<rect x="322.8" y="943.5" width="3.32" height="3.42" fill="#600000"/>
<rect x="322.8" y="946.8" width="3.32" height="3.42" fill="#730000"/>
<rect x="322.8" y="950.1" width="3.32" height="3.42" fill="#a00000"/>
<rect x="322.8" y="953.4" width="3.32" height="3.42" fill="#220000"/>
<rect x="322.8" y="956.7" width="3.32" height="3.42" fill="#670000"/>
<rect x="326" y="884.1" width="3.32" height="3.42" fill="#1b0000"/>
<rect x="326" y="887.4" width="3.32" height="3.42" fill="#1b0000"/>
<rect x="326" y="910.5" width="3.32" height="3.42" fill="#360000"/>
<rect x="326" y="913.8" width="3.32" height="3.42" fill="#810000"/>
<rect x="326" y="917.1" width="3.32" height="3.42" fill="#ff1500"/>
<rect x="326" y="920.4" width="3.32" height="3.42" fill="#ffff63"/>
<rect x="326" y="923.7" width="3.32" height="3.42" fill="#ffffff"/>
<rect x="326" y="927" width="3.32" height="3.42" fill="#ffff9b"/>
<rect x="326" y="930.3" width="3.32" height="3.42" fill="#700000"/>
<rect x="326" y="933.6" width="3.32" height="3.42" fill="#5a0000"/>
<rect x="326" y="936.9" width="3.32" height="3.42" fill="#950000"/>
<rect x="326" y="940.2" width="3.32" height="3.42" fill="#8e0000"/>
<rect x="326" y="943.5" width="3.32" height="3.42" fill="#670000"/>
<rect x="326" y="946.8" width="3.32" height="3.42" fill="#5f0000"/>
<rect x="326" y="950.1" width="3.32" height="3.42" fill="#5b0000"/>
<rect x="326" y="953.4" width="3.32" height="3.42" fill="#8f0000"/>
<rect x="326" y="956.7" width="3.32" height="3.42" fill="#750000"/>
<rect x="329.2" y="887.4" width="3.32" height="3.42" fill="#290000"/>
<rect x="329.2" y="913.8" width="3.32" height="3.42" fill="#ff0700"/>
<rect x="329.2" y="917.1" width="3.32" height="3.42" fill="#ffdb00"/>
<rect x="329.2" y="920.4" width="3.32" height="3.42" fill="#ffffff"/>
<rect x="329.2" y="923.7" width="3.32" height="3.42" fill="#ffffff"/>
<rect x="329.2" y="927" width="3.32" height="3.42" fill="#ffc700"/>
<rect x="329.2" y="930.3" width="3.32" height="3.42" fill="#610000"/>
<rect x="329.2" y="933.6" width="3.32" height="3.42" fill="#900000"/>
<rect x="329.2" y="936.9" width="3.32" height="3.42" fill="#840000"/>
<rect x="329.2" y="940.2" width="3.32" height="3.42" fill="#720000"/>
<rect x="329.2" y="943.5" width="3.32" height="3.42" fill="#690000"/>
<rect x="329.2" y="946.8" width="3.32" height="3.42" fill="#6f0000"/>
<rect x="329.2" y="950.1" width="3.32" height="3.42" fill="#780000"/>
<rect x="332.4" y="884.1" width="3.32" height="3.42" fill="#e00000"/>
<rect x="332.4" y="907.2" width="3.32" height="3.42" fill="#360000"/>
<rect x="332.4" y="913.8" width="3.32" height="3.42" fill="#cc0000"/>
<rect x="332.4" y="917.1" width="3.32" height="3.42" fill="#ffff53"/>
<rect x="332.4" y="920.4" width="3.32" height="3.42" fill="#ffffff"/>
<rect x="332.4" y="923.7" width="3.32" height="3.42" fill="#ffff45"/>
<rect x="332.4" y="927" width="3.32" height="3.42" fill="#ff0800"/>
<rect x="332.4" y="930.3" width="3.32" height="3.42" fill="#810000"/>
<rect x="332.4" y="933.6" width="3.32" height="3.42" fill="#530000"/>
<rect x="332.4" y="936.9" width="3.32" height="3.42" fill="#890000"/>
<rect x="332.4" y="940.2" width="3.32" height="3.42" fill="#6e0000"/>
<rect x="332.4" y="943.5" width="3.32" height="3.42" fill="#810000"/>
<rect x="332.4" y="946.8" width="3.32" height="3.42" fill="#7d0000"/>
<rect x="335.6" y="887.4" width="3.32" height="3.42" fill="#140000"/>
<rect x="335.6" y="907.2" width="3.32" height="3.42" fill="#360000"/>
<rect x="335.6" y="917.1" width="3.32" height="3.42" fill="#220000"/>
<rect x="335.6" y="920.4" width="3.32" height="3.42" fill="#ff7800"/>
<rect x="335.6" y="923.7" width="3.32" height="3.42" fill="#ff2b00"/>
<rect x="335.6" y="927" width="3.32" height="3.42" fill="#5a0000"/>
<rect x="335.6" y="930.3" width="3.32" height="3.42" fill="#750000"/>
<rect x="335.6" y="933.6" width="3.32" height="3.42" fill="#610000"/>
<rect x="335.6" y="936.9" width="3.32" height="3.42" fill="#660000"/>
<rect x="335.6" y="940.2" width="3.32" height="3.42" fill="#640000"/>
<rect x="335.6" y="943.5" width="3.32" height="3.42" fill="#7f0000"/>
<rect x="338.8" y="907.2" width="3.32" height="3.42" fill="#360000"/>
<rect x="338.8" y="927" width="3.32" height="3.42" fill="#7c0000"/>
<rect x="338.8" y="930.3" width="3.32" height="3.42" fill="#510000"/>
<rect x="338.8" y="933.6" width="3.32" height="3.42" fill="#4d0000"/>
<rect x="338.8" y="936.9" width="3.32" height="3.42" fill="#810000"/>
<rect x="338.8" y="940.2" width="3.32" height="3.42" fill="#4a0000"/>
<rect x="342" y="927" width="3.32" height="3.42" fill="#580000"/>
<rect x="342" y="930.3" width="3.32" height="3.42" fill="#460000"/>
<rect x="342" y="933.6" width="3.32" height="3.42" fill="#7e0000"/>
<rect x="342" y="936.9" width="3.32" height="3.42" fill="#6b0000"/>
<rect x="342" y="940.2" width="3.32" height="3.42" fill="#800000"/>
<rect x="345.2" y="907.2" width="3.32" height="3.42" fill="#140000"/>
<rect x="345.2" y="923.7" width="3.32" height="3.42" fill="#3b0000"/>
<rect x="345.2" y="927" width="3.32" height="3.42" fill="#4e0000"/>
<rect x="345.2" y="930.3" width="3.32" height="3.42" fill="#5b0000"/>
<rect x="345.2" y="933.6" width="3.32" height="3.42" fill="#720000"/>
<rect x="345.2" y="936.9" width="3.32" height="3.42" fill="#6d0000"/>
<rect x="345.2" y="940.2" width="3.32" height="3.42" fill="#6e0000"/>
<rect x="348.4" y="923.7" width="3.32" height="3.42" fill="#550000"/>
<rect x="348.4" y="927" width="3.32" height="3.42" fill="#730000"/>
<rect x="348.4" y="930.3" width="3.32" height="3.42" fill="#570000"/>
<rect x="348.4" y="933.6" width="3.32" height="3.42" fill="#660000"/>
<rect x="348.4" y="936.9" width="3.32" height="3.42" fill="#420000"/>
<rect x="348.4" y="940.2" width="3.32" height="3.42" fill="#640000"/>
<rect x="348.4" y="956.7" width="3.32" height="3.42" fill="#520000"/>
<rect x="351.6" y="923.7" width="3.32" height="3.42" fill="#790000"/>
<rect x="351.6" y="927" width="3.32" height="3.42" fill="#220000"/>
<rect x="351.6" y="930.3" width="3.32" height="3.42" fill="#6a0000"/>
<rect x="351.6" y="933.6" width="3.32" height="3.42" fill="#710000"/>
<rect x="351.6" y="936.9" width="3.32" height="3.42" fill="#640000"/>
<rect x="354.8" y="920.4" width="3.32" height="3.42" fill="#730000"/>
<rect x="354.8" y="923.7" width="3.32" height="3.42" fill="#4b0000"/>
<rect x="354.8" y="927" width="3.32" height="3.42" fill="#410000"/>
<rect x="354.8" y="930.3" width="3.32" height="3.42" fill="#760000"/>
<rect x="354.8" y="933.6" width="3.32" height="3.42" fill="#750000"/>
<rect x="354.8" y="936.9" width="3.32" height="3.42" fill="#530000"/>
<rect x="358" y="920.4" width="3.32" height="3.42" fill="#7a0000"/>
<rect x="358" y="923.7" width="3.32" height="3.42" fill="#5a0000"/>
<rect x="358" y="927" width="3.32" height="3.42" fill="#650000"/>
<rect x="358" y="930.3" width="3.32" height="3.42" fill="#220000"/>
<rect x="358" y="933.6" width="3.32" height="3.42" fill="#5e0000"/>
<rect x="361.2" y="917.1" width="3.32" height="3.42" fill="#1b0000"/>
<rect x="361.2" y="920.4" width="3.32" height="3.42" fill="#550000"/>
<rect x="361.2" y="923.7" width="3.32" height="3.42" fill="#720000"/>
<rect x="361.2" y="927" width="3.32" height="3.42" fill="#630000"/>
<rect x="361.2" y="930.3" width="3.32" height="3.42" fill="#520000"/>
<rect x="361.2" y="933.6" width="3.32" height="3.42" fill="#510000"/>
<rect x="364.4" y="917.1" width="3.32" height="3.42" fill="#6a0000"/>
<rect x="364.4" y="920.4" width="3.32" height="3.42" fill="#220000"/>
<rect x="364.4" y="923.7" width="3.32" height="3.42" fill="#660000"/>
<rect x="364.4" y="927" width="3.32" height="3.42" fill="#670000"/>
<rect x="364.4" y="930.3" width="3.32" height="3.42" fill="#620000"/>
<rect x="364.4" y="933.6" width="3.32" height="3.42" fill="#620000"/>
<rect x="367.6" y="894" width="3.32" height="3.42" fill="#140000"/>
<rect x="367.6" y="930.3" width="3.32" height="3.42" fill="#520000"/>
<rect x="370.8" y="897.3" width="3.32" height="3.42" fill="#da0000"/>
<rect x="384.1" y="916" width="3.3" height="3.4" fill="#c4c4c4"/>
</g>
<clipPath id="clipd"><rect x="89.4" y="747.7" width="415.5" height="401.9"/></clipPath>
<g clip-path="url(#clipd)" fill="none">
<polyline points="204.36,741.7 208.48,758.95 212.54,776.19 216.54,793.44 220.46,810.68 224.32,827.93 228.11,845.17 231.83,862.42 235.49,879.67 239.08,896.91 242.6,914.16 246.05,931.4 249.44,948.65 252.76,965.9 256.01,983.14 259.19,1000.39 262.31,1017.63 265.36,1034.88 268.34,1052.12 271.25,1069.37 274.1,1086.62 276.88,1103.86 279.59,1121.11 282.23,1138.35 284.81,1155.6" stroke="#fff" stroke-width="8.4"/>
<polyline points="204.36,741.7 208.48,758.95 212.54,776.19 216.54,793.44 220.46,810.68 224.32,827.93 228.11,845.17 231.83,862.42 235.49,879.67 239.08,896.91 242.6,914.16 246.05,931.4 249.44,948.65 252.76,965.9 256.01,983.14 259.19,1000.39 262.31,1017.63 265.36,1034.88 268.34,1052.12 271.25,1069.37 274.1,1086.62 276.88,1103.86 279.59,1121.11 282.23,1138.35 284.81,1155.6" stroke="#000" stroke-width="2" stroke-dasharray="6.6 5.6"/>
<polyline points="215.61,789.4 218.83,803.47 222.01,817.54 225.14,831.61 228.22,845.68 231.26,859.75 234.26,873.82 237.21,887.9 240.12,901.97 242.98,916.04 245.8,930.11 248.57,944.18 251.29,958.25 253.98,972.32 256.61,986.39 259.21,1000.46 261.75,1014.53 264.25,1028.6 266.71,1042.67 269.12,1056.75 271.49,1070.82 273.82,1084.89 276.09,1098.96 278.33,1113.03 280.51,1127.1" stroke="#000" stroke-width="5.1"/>
</g>
<line x1="192.5" y1="1017" x2="162.7" y2="881.4" stroke="#231f20" stroke-width="3.8" />
<polyline points="180,897.31 162.7,881.4 153.67,903.09" fill="none" stroke="#231f20" stroke-width="3.8" stroke-linejoin="miter"/>
<rect x="89.4" y="747.7" width="415.5" height="401.9" fill="none" stroke="#262626" stroke-width="1.5"/>
<line x1="119.35" y1="1149.6" x2="119.35" y2="1145.3" stroke="#262626" stroke-width="1.4" />
<line x1="119.35" y1="747.7" x2="119.35" y2="752" stroke="#262626" stroke-width="1.4" />
<text x="119.35" y="1191.8" font-size="30.8" text-anchor="middle" font-family='"Liberation Sans", Arial, sans-serif' font-weight="normal" font-style="normal" fill="#1a1a1a" >-42</text>
<line x1="189.13" y1="1149.6" x2="189.13" y2="1145.3" stroke="#262626" stroke-width="1.4" />
<line x1="189.13" y1="747.7" x2="189.13" y2="752" stroke="#262626" stroke-width="1.4" />
<text x="189.13" y="1191.8" font-size="30.8" text-anchor="middle" font-family='"Liberation Sans", Arial, sans-serif' font-weight="normal" font-style="normal" fill="#1a1a1a" >-40</text>
<line x1="258.91" y1="1149.6" x2="258.91" y2="1145.3" stroke="#262626" stroke-width="1.4" />
<line x1="258.91" y1="747.7" x2="258.91" y2="752" stroke="#262626" stroke-width="1.4" />
<text x="258.91" y="1191.8" font-size="30.8" text-anchor="middle" font-family='"Liberation Sans", Arial, sans-serif' font-weight="normal" font-style="normal" fill="#1a1a1a" >-38</text>
<line x1="328.69" y1="1149.6" x2="328.69" y2="1145.3" stroke="#262626" stroke-width="1.4" />
<line x1="328.69" y1="747.7" x2="328.69" y2="752" stroke="#262626" stroke-width="1.4" />
<text x="328.69" y="1191.8" font-size="30.8" text-anchor="middle" font-family='"Liberation Sans", Arial, sans-serif' font-weight="normal" font-style="normal" fill="#1a1a1a" >-36</text>
<line x1="398.47" y1="1149.6" x2="398.47" y2="1145.3" stroke="#262626" stroke-width="1.4" />
<line x1="398.47" y1="747.7" x2="398.47" y2="752" stroke="#262626" stroke-width="1.4" />
<text x="398.47" y="1191.8" font-size="30.8" text-anchor="middle" font-family='"Liberation Sans", Arial, sans-serif' font-weight="normal" font-style="normal" fill="#1a1a1a" >-34</text>
<line x1="468.25" y1="1149.6" x2="468.25" y2="1145.3" stroke="#262626" stroke-width="1.4" />
<line x1="468.25" y1="747.7" x2="468.25" y2="752" stroke="#262626" stroke-width="1.4" />
<text x="468.25" y="1191.8" font-size="30.8" text-anchor="middle" font-family='"Liberation Sans", Arial, sans-serif' font-weight="normal" font-style="normal" fill="#1a1a1a" >-32</text>
<line x1="89.4" y1="1134.6" x2="93.7" y2="1134.6" stroke="#262626" stroke-width="1.4" />
<line x1="504.9" y1="1134.6" x2="500.6" y2="1134.6" stroke="#262626" stroke-width="1.4" />
<text x="79" y="1146.9" font-size="30.8" text-anchor="end" font-family='"Liberation Sans", Arial, sans-serif' font-weight="normal" font-style="normal" fill="#1a1a1a" >65</text>
<line x1="89.4" y1="1051.6" x2="93.7" y2="1051.6" stroke="#262626" stroke-width="1.4" />
<line x1="504.9" y1="1051.6" x2="500.6" y2="1051.6" stroke="#262626" stroke-width="1.4" />
<text x="79" y="1063.9" font-size="30.8" text-anchor="end" font-family='"Liberation Sans", Arial, sans-serif' font-weight="normal" font-style="normal" fill="#1a1a1a" >66</text>
<line x1="89.4" y1="968.6" x2="93.7" y2="968.6" stroke="#262626" stroke-width="1.4" />
<line x1="504.9" y1="968.6" x2="500.6" y2="968.6" stroke="#262626" stroke-width="1.4" />
<text x="79" y="980.9" font-size="30.8" text-anchor="end" font-family='"Liberation Sans", Arial, sans-serif' font-weight="normal" font-style="normal" fill="#1a1a1a" >67</text>
<line x1="89.4" y1="885.6" x2="93.7" y2="885.6" stroke="#262626" stroke-width="1.4" />
<line x1="504.9" y1="885.6" x2="500.6" y2="885.6" stroke="#262626" stroke-width="1.4" />
<text x="79" y="897.9" font-size="30.8" text-anchor="end" font-family='"Liberation Sans", Arial, sans-serif' font-weight="normal" font-style="normal" fill="#1a1a1a" >68</text>
<line x1="89.4" y1="802.6" x2="93.7" y2="802.6" stroke="#262626" stroke-width="1.4" />
<line x1="504.9" y1="802.6" x2="500.6" y2="802.6" stroke="#262626" stroke-width="1.4" />
<text x="79" y="814.9" font-size="30.8" text-anchor="end" font-family='"Liberation Sans", Arial, sans-serif' font-weight="normal" font-style="normal" fill="#1a1a1a" >69</text>
<text x="297.35" y="1236" font-size="34.5" text-anchor="middle" font-family='"Liberation Sans", Arial, sans-serif' font-weight="normal" font-style="normal" fill="#1a1a1a" >Magnetic longitude [deg]</text>
<text transform="translate(30,948.65) rotate(-90)" font-size="34.5" text-anchor="middle" font-family='"Liberation Sans", Arial, sans-serif' fill="#1a1a1a">Magnetic latitude [deg]</text>
<text x="110" y="800.9" font-size="42.5" text-anchor="start" font-family='"Liberation Sans", Arial, sans-serif' font-weight="bold" font-style="normal" fill="#000" >d)</text>
<text x="107" y="1062" font-size="37" text-anchor="start" font-family='"Liberation Sans", Arial, sans-serif' font-weight="bold" font-style="normal" fill="#000" textLength="134" lengthAdjust="spacingAndGlyphs">Swarm C</text>
<rect x="89.4" y="1370.3" width="415.9" height="401" fill="#b3b3b3"/>
<line x1="94.8" y1="1370.3" x2="94.8" y2="1771.3" stroke="#9e9e9e" stroke-width="1.15" />
<line x1="249" y1="1370.3" x2="249" y2="1771.3" stroke="#9e9e9e" stroke-width="1.15" />
<line x1="403.2" y1="1370.3" x2="403.2" y2="1771.3" stroke="#9e9e9e" stroke-width="1.15" />
<line x1="89.4" y1="1732.3" x2="505.3" y2="1732.3" stroke="#9e9e9e" stroke-width="1.15" />
<line x1="89.4" y1="1671.88" x2="505.3" y2="1671.88" stroke="#9e9e9e" stroke-width="1.15" />
<line x1="89.4" y1="1611.46" x2="505.3" y2="1611.46" stroke="#9e9e9e" stroke-width="1.15" />
<line x1="89.4" y1="1551.04" x2="505.3" y2="1551.04" stroke="#9e9e9e" stroke-width="1.15" />
<line x1="89.4" y1="1490.62" x2="505.3" y2="1490.62" stroke="#9e9e9e" stroke-width="1.15" />
<line x1="89.4" y1="1430.2" x2="505.3" y2="1430.2" stroke="#9e9e9e" stroke-width="1.15" />
<g shape-rendering="crispEdges">
<rect x="217.52" y="1614.71" width="3.34" height="3.34" fill="#de0000"/>
<rect x="217.52" y="1617.93" width="3.34" height="3.34" fill="#a50000"/>
<rect x="217.52" y="1621.15" width="3.34" height="3.34" fill="#da0000"/>
<rect x="217.52" y="1624.37" width="3.34" height="3.34" fill="#ff3400"/>
<rect x="220.74" y="1614.71" width="3.34" height="3.34" fill="#a90000"/>
<rect x="220.74" y="1617.93" width="3.34" height="3.34" fill="#b00000"/>
<rect x="220.74" y="1621.15" width="3.34" height="3.34" fill="#d20000"/>
<rect x="220.74" y="1624.37" width="3.34" height="3.34" fill="#a20000"/>
<rect x="223.96" y="1614.71" width="3.34" height="3.34" fill="#c90000"/>
<rect x="223.96" y="1617.93" width="3.34" height="3.34" fill="#ad0000"/>
<rect x="223.96" y="1621.15" width="3.34" height="3.34" fill="#ff1f00"/>
<rect x="227.18" y="1563.19" width="3.34" height="3.34" fill="#5a0000"/>
<rect x="227.18" y="1566.41" width="3.34" height="3.34" fill="#220000"/>
<rect x="227.18" y="1569.63" width="3.34" height="3.34" fill="#5c0000"/>
<rect x="227.18" y="1614.71" width="3.34" height="3.34" fill="#b80000"/>
<rect x="230.4" y="1556.75" width="3.34" height="3.34" fill="#700000"/>
<rect x="230.4" y="1559.97" width="3.34" height="3.34" fill="#7e0000"/>
<rect x="230.4" y="1563.19" width="3.34" height="3.34" fill="#db0000"/>
<rect x="230.4" y="1566.41" width="3.34" height="3.34" fill="#a60000"/>
<rect x="230.4" y="1569.63" width="3.34" height="3.34" fill="#220000"/>
<rect x="230.4" y="1572.85" width="3.34" height="3.34" fill="#1b0000"/>
<rect x="230.4" y="1601.83" width="3.34" height="3.34" fill="#ff1900"/>
<rect x="233.62" y="1556.75" width="3.34" height="3.34" fill="#550000"/>
<rect x="233.62" y="1559.97" width="3.34" height="3.34" fill="#8b0000"/>
<rect x="233.62" y="1563.19" width="3.34" height="3.34" fill="#8a0000"/>
<rect x="233.62" y="1566.41" width="3.34" height="3.34" fill="#740000"/>
<rect x="233.62" y="1569.63" width="3.34" height="3.34" fill="#880000"/>
<rect x="233.62" y="1588.95" width="3.34" height="3.34" fill="#c40000"/>
<rect x="233.62" y="1592.17" width="3.34" height="3.34" fill="#c30000"/>
<rect x="233.62" y="1595.39" width="3.34" height="3.34" fill="#e60000"/>
<rect x="233.62" y="1598.61" width="3.34" height="3.34" fill="#f60000"/>
<rect x="233.62" y="1601.83" width="3.34" height="3.34" fill="#ff6800"/>
<rect x="233.62" y="1605.05" width="3.34" height="3.34" fill="#ffab00"/>
<rect x="233.62" y="1608.27" width="3.34" height="3.34" fill="#ff3900"/>
<rect x="233.62" y="1611.49" width="3.34" height="3.34" fill="#d20000"/>
<rect x="236.84" y="1563.19" width="3.34" height="3.34" fill="#660000"/>
<rect x="236.84" y="1566.41" width="3.34" height="3.34" fill="#640000"/>
<rect x="236.84" y="1572.85" width="3.34" height="3.34" fill="#290000"/>
<rect x="236.84" y="1582.51" width="3.34" height="3.34" fill="#220000"/>
<rect x="236.84" y="1585.73" width="3.34" height="3.34" fill="#a90000"/>
<rect x="236.84" y="1588.95" width="3.34" height="3.34" fill="#a60000"/>
<rect x="236.84" y="1592.17" width="3.34" height="3.34" fill="#af0000"/>
<rect x="236.84" y="1595.39" width="3.34" height="3.34" fill="#ff2800"/>
<rect x="236.84" y="1598.61" width="3.34" height="3.34" fill="#ffa600"/>
<rect x="236.84" y="1601.83" width="3.34" height="3.34" fill="#ffff3a"/>
<rect x="236.84" y="1605.05" width="3.34" height="3.34" fill="#ffff76"/>
<rect x="236.84" y="1608.27" width="3.34" height="3.34" fill="#ffaa00"/>
<rect x="236.84" y="1611.49" width="3.34" height="3.34" fill="#ff1900"/>
<rect x="236.84" y="1617.93" width="3.34" height="3.34" fill="#140000"/>
<rect x="236.84" y="1640.47" width="3.34" height="3.34" fill="#ff1300"/>
<rect x="236.84" y="1643.69" width="3.34" height="3.34" fill="#fd0000"/>
<rect x="240.06" y="1563.19" width="3.34" height="3.34" fill="#8a0000"/>
<rect x="240.06" y="1566.41" width="3.34" height="3.34" fill="#650000"/>
<rect x="240.06" y="1576.07" width="3.34" height="3.34" fill="#d20000"/>
<rect x="240.06" y="1579.29" width="3.34" height="3.34" fill="#fd0000"/>
<rect x="240.06" y="1582.51" width="3.34" height="3.34" fill="#d90000"/>
<rect x="240.06" y="1585.73" width="3.34" height="3.34" fill="#f60000"/>
<rect x="240.06" y="1588.95" width="3.34" height="3.34" fill="#c80000"/>
<rect x="240.06" y="1592.17" width="3.34" height="3.34" fill="#ff2100"/>
<rect x="240.06" y="1595.39" width="3.34" height="3.34" fill="#ff9300"/>
<rect x="240.06" y="1598.61" width="3.34" height="3.34" fill="#ffffa9"/>
<rect x="240.06" y="1601.83" width="3.34" height="3.34" fill="#ffffff"/>
<rect x="240.06" y="1605.05" width="3.34" height="3.34" fill="#ffff65"/>
<rect x="240.06" y="1608.27" width="3.34" height="3.34" fill="#ff3500"/>
<rect x="240.06" y="1611.49" width="3.34" height="3.34" fill="#d00000"/>
<rect x="240.06" y="1637.25" width="3.34" height="3.34" fill="#ff2500"/>
<rect x="240.06" y="1640.47" width="3.34" height="3.34" fill="#ffb700"/>
<rect x="240.06" y="1643.69" width="3.34" height="3.34" fill="#ff0900"/>
<rect x="240.06" y="1646.91" width="3.34" height="3.34" fill="#ff5200"/>
<rect x="243.28" y="1495.57" width="3.34" height="3.34" fill="#520000"/>
<rect x="243.28" y="1572.85" width="3.34" height="3.34" fill="#220000"/>
<rect x="243.28" y="1576.07" width="3.34" height="3.34" fill="#ff3b00"/>
<rect x="243.28" y="1579.29" width="3.34" height="3.34" fill="#ff6b00"/>
<rect x="243.28" y="1582.51" width="3.34" height="3.34" fill="#ff1200"/>
<rect x="243.28" y="1585.73" width="3.34" height="3.34" fill="#f40000"/>
<rect x="243.28" y="1588.95" width="3.34" height="3.34" fill="#f80000"/>
<rect x="243.28" y="1592.17" width="3.34" height="3.34" fill="#ff9700"/>
<rect x="243.28" y="1595.39" width="3.34" height="3.34" fill="#ffff5a"/>
<rect x="243.28" y="1598.61" width="3.34" height="3.34" fill="#ffff9b"/>
<rect x="243.28" y="1601.83" width="3.34" height="3.34" fill="#ffff3d"/>
<rect x="243.28" y="1605.05" width="3.34" height="3.34" fill="#ff3b00"/>
<rect x="243.28" y="1608.27" width="3.34" height="3.34" fill="#ff2200"/>
<rect x="243.28" y="1611.49" width="3.34" height="3.34" fill="#d70000"/>
<rect x="243.28" y="1634.03" width="3.34" height="3.34" fill="#ff0a00"/>
<rect x="243.28" y="1637.25" width="3.34" height="3.34" fill="#ff4000"/>
<rect x="243.28" y="1640.47" width="3.34" height="3.34" fill="#f40000"/>
<rect x="243.28" y="1643.69" width="3.34" height="3.34" fill="#cf0000"/>
<rect x="243.28" y="1646.91" width="3.34" height="3.34" fill="#ff0200"/>
<rect x="246.5" y="1492.35" width="3.34" height="3.34" fill="#1b0000"/>
<rect x="246.5" y="1495.57" width="3.34" height="3.34" fill="#520000"/>
<rect x="246.5" y="1569.63" width="3.34" height="3.34" fill="#c30000"/>
<rect x="246.5" y="1572.85" width="3.34" height="3.34" fill="#ff0800"/>
<rect x="246.5" y="1576.07" width="3.34" height="3.34" fill="#ff8b00"/>
<rect x="246.5" y="1579.29" width="3.34" height="3.34" fill="#f00000"/>
<rect x="246.5" y="1582.51" width="3.34" height="3.34" fill="#f20000"/>
<rect x="246.5" y="1585.73" width="3.34" height="3.34" fill="#ff1100"/>
<rect x="246.5" y="1588.95" width="3.34" height="3.34" fill="#ff5d00"/>
<rect x="246.5" y="1592.17" width="3.34" height="3.34" fill="#ffff25"/>
<rect x="246.5" y="1595.39" width="3.34" height="3.34" fill="#ffff95"/>
<rect x="246.5" y="1598.61" width="3.34" height="3.34" fill="#ffff37"/>
<rect x="246.5" y="1601.83" width="3.34" height="3.34" fill="#ff8800"/>
<rect x="246.5" y="1605.05" width="3.34" height="3.34" fill="#d20000"/>
<rect x="246.5" y="1608.27" width="3.34" height="3.34" fill="#b20000"/>
<rect x="246.5" y="1614.71" width="3.34" height="3.34" fill="#440000"/>
<rect x="246.5" y="1617.93" width="3.34" height="3.34" fill="#360000"/>
<rect x="246.5" y="1634.03" width="3.34" height="3.34" fill="#c90000"/>
<rect x="246.5" y="1637.25" width="3.34" height="3.34" fill="#ff0a00"/>
<rect x="246.5" y="1640.47" width="3.34" height="3.34" fill="#cb0000"/>
<rect x="246.5" y="1643.69" width="3.34" height="3.34" fill="#4a0000"/>
<rect x="246.5" y="1646.91" width="3.34" height="3.34" fill="#ff0800"/>
<rect x="249.72" y="1566.41" width="3.34" height="3.34" fill="#dd0000"/>
<rect x="249.72" y="1569.63" width="3.34" height="3.34" fill="#ff1600"/>
<rect x="249.72" y="1572.85" width="3.34" height="3.34" fill="#ff4e00"/>
<rect x="249.72" y="1576.07" width="3.34" height="3.34" fill="#ff1a00"/>
<rect x="249.72" y="1579.29" width="3.34" height="3.34" fill="#c30000"/>
<rect x="249.72" y="1582.51" width="3.34" height="3.34" fill="#da0000"/>
<rect x="249.72" y="1585.73" width="3.34" height="3.34" fill="#ff1400"/>
<rect x="249.72" y="1588.95" width="3.34" height="3.34" fill="#ffc200"/>
<rect x="249.72" y="1592.17" width="3.34" height="3.34" fill="#ffff94"/>
<rect x="249.72" y="1595.39" width="3.34" height="3.34" fill="#ffff32"/>
<rect x="249.72" y="1598.61" width="3.34" height="3.34" fill="#ff8000"/>
<rect x="249.72" y="1601.83" width="3.34" height="3.34" fill="#ff2500"/>
<rect x="249.72" y="1605.05" width="3.34" height="3.34" fill="#e40000"/>
<rect x="249.72" y="1614.71" width="3.34" height="3.34" fill="#440000"/>
<rect x="252.94" y="1566.41" width="3.34" height="3.34" fill="#d30000"/>
<rect x="252.94" y="1569.63" width="3.34" height="3.34" fill="#220000"/>
<rect x="252.94" y="1572.85" width="3.34" height="3.34" fill="#cc0000"/>
<rect x="252.94" y="1576.07" width="3.34" height="3.34" fill="#e90000"/>
<rect x="252.94" y="1579.29" width="3.34" height="3.34" fill="#e20000"/>
<rect x="252.94" y="1582.51" width="3.34" height="3.34" fill="#ff0000"/>
<rect x="252.94" y="1585.73" width="3.34" height="3.34" fill="#ffc700"/>
<rect x="252.94" y="1588.95" width="3.34" height="3.34" fill="#ffff88"/>
<rect x="252.94" y="1592.17" width="3.34" height="3.34" fill="#ffff81"/>
<rect x="252.94" y="1595.39" width="3.34" height="3.34" fill="#ffd000"/>
<rect x="252.94" y="1598.61" width="3.34" height="3.34" fill="#ff3800"/>
<rect x="252.94" y="1601.83" width="3.34" height="3.34" fill="#d40000"/>
<rect x="256.16" y="1559.97" width="3.34" height="3.34" fill="#a40000"/>
<rect x="256.16" y="1563.19" width="3.34" height="3.34" fill="#ff0100"/>
<rect x="256.16" y="1566.41" width="3.34" height="3.34" fill="#ff0f00"/>
<rect x="256.16" y="1569.63" width="3.34" height="3.34" fill="#fb0000"/>
<rect x="256.16" y="1572.85" width="3.34" height="3.34" fill="#c50000"/>
<rect x="256.16" y="1576.07" width="3.34" height="3.34" fill="#cf0000"/>
<rect x="256.16" y="1579.29" width="3.34" height="3.34" fill="#da0000"/>
<rect x="256.16" y="1582.51" width="3.34" height="3.34" fill="#ff4900"/>
<rect x="256.16" y="1585.73" width="3.34" height="3.34" fill="#ffff48"/>
<rect x="256.16" y="1588.95" width="3.34" height="3.34" fill="#ffffff"/>
<rect x="256.16" y="1592.17" width="3.34" height="3.34" fill="#ffd100"/>
<rect x="256.16" y="1595.39" width="3.34" height="3.34" fill="#ff1d00"/>
<rect x="256.16" y="1598.61" width="3.34" height="3.34" fill="#f20000"/>
<rect x="259.38" y="1559.97" width="3.34" height="3.34" fill="#d00000"/>
<rect x="259.38" y="1563.19" width="3.34" height="3.34" fill="#ff3a00"/>
<rect x="259.38" y="1566.41" width="3.34" height="3.34" fill="#ff1d00"/>
<rect x="259.38" y="1569.63" width="3.34" height="3.34" fill="#e00000"/>
<rect x="259.38" y="1572.85" width="3.34" height="3.34" fill="#a20000"/>
<rect x="259.38" y="1576.07" width="3.34" height="3.34" fill="#ff0900"/>
<rect x="259.38" y="1579.29" width="3.34" height="3.34" fill="#fb0000"/>
<rect x="259.38" y="1582.51" width="3.34" height="3.34" fill="#ffb000"/>
<rect x="259.38" y="1585.73" width="3.34" height="3.34" fill="#ffff65"/>
<rect x="259.38" y="1588.95" width="3.34" height="3.34" fill="#ffff54"/>
<rect x="259.38" y="1592.17" width="3.34" height="3.34" fill="#ff7e00"/>
<rect x="259.38" y="1595.39" width="3.34" height="3.34" fill="#ff0400"/>
<rect x="262.6" y="1553.53" width="3.34" height="3.34" fill="#e70000"/>
<rect x="262.6" y="1559.97" width="3.34" height="3.34" fill="#e10000"/>
<rect x="262.6" y="1563.19" width="3.34" height="3.34" fill="#f50000"/>
<rect x="262.6" y="1566.41" width="3.34" height="3.34" fill="#220000"/>
<rect x="262.6" y="1569.63" width="3.34" height="3.34" fill="#f70000"/>
<rect x="262.6" y="1576.07" width="3.34" height="3.34" fill="#b40000"/>
<rect x="262.6" y="1579.29" width="3.34" height="3.34" fill="#ff4100"/>
<rect x="262.6" y="1582.51" width="3.34" height="3.34" fill="#ffeb00"/>
<rect x="262.6" y="1585.73" width="3.34" height="3.34" fill="#ffff2f"/>
<rect x="262.6" y="1588.95" width="3.34" height="3.34" fill="#ffad00"/>
<rect x="262.6" y="1592.17" width="3.34" height="3.34" fill="#e20000"/>
<rect x="265.82" y="1540.65" width="3.34" height="3.34" fill="#300000"/>
<rect x="265.82" y="1563.19" width="3.34" height="3.34" fill="#b80000"/>
<rect x="265.82" y="1566.41" width="3.34" height="3.34" fill="#f60000"/>
<rect x="265.82" y="1576.07" width="3.34" height="3.34" fill="#b50000"/>
<rect x="265.82" y="1579.29" width="3.34" height="3.34" fill="#fa0000"/>
<rect x="265.82" y="1582.51" width="3.34" height="3.34" fill="#ff7d00"/>
<rect x="265.82" y="1585.73" width="3.34" height="3.34" fill="#ff7600"/>
<rect x="265.82" y="1588.95" width="3.34" height="3.34" fill="#ff4600"/>
<rect x="265.82" y="1592.17" width="3.34" height="3.34" fill="#d60000"/>
<rect x="269.04" y="1576.07" width="3.34" height="3.34" fill="#f70000"/>
<rect x="269.04" y="1579.29" width="3.34" height="3.34" fill="#c60000"/>
<rect x="272.26" y="1576.07" width="3.34" height="3.34" fill="#220000"/>
<rect x="272.26" y="1579.29" width="3.34" height="3.34" fill="#d20000"/>
<rect x="275.48" y="1576.07" width="3.34" height="3.34" fill="#b50000"/>
<rect x="275.48" y="1585.73" width="3.34" height="3.34" fill="#360000"/>
<rect x="275.48" y="1598.61" width="3.34" height="3.34" fill="#360000"/>
<rect x="278.7" y="1498.79" width="3.34" height="3.34" fill="#440000"/>
<rect x="278.7" y="1521.33" width="3.34" height="3.34" fill="#440000"/>
<rect x="278.7" y="1579.29" width="3.34" height="3.34" fill="#e70000"/>
<rect x="278.7" y="1585.73" width="3.34" height="3.34" fill="#360000"/>
<rect x="278.7" y="1598.61" width="3.34" height="3.34" fill="#360000"/>
<rect x="281.92" y="1559.97" width="3.34" height="3.34" fill="#140000"/>
<rect x="285.14" y="1518.11" width="3.34" height="3.34" fill="#e00000"/>
<rect x="285.14" y="1563.19" width="3.34" height="3.34" fill="#1b0000"/>
<rect x="288.36" y="1572.85" width="3.34" height="3.34" fill="#3d0000"/>
<rect x="291.58" y="1518.11" width="3.34" height="3.34" fill="#e00000"/>
<rect x="291.58" y="1572.85" width="3.34" height="3.34" fill="#3d0000"/>
<rect x="294.8" y="1543.87" width="3.34" height="3.34" fill="#140000"/>
<rect x="294.8" y="1569.63" width="3.34" height="3.34" fill="#440000"/>
<rect x="298.02" y="1537.43" width="3.34" height="3.34" fill="#140000"/>
<rect x="304.46" y="1537.43" width="3.34" height="3.34" fill="#300000"/>
<rect x="304.46" y="1540.65" width="3.34" height="3.34" fill="#300000"/>
<rect x="304.46" y="1543.87" width="3.34" height="3.34" fill="#300000"/>
<rect x="307.68" y="1518.11" width="3.34" height="3.34" fill="#360000"/>
<rect x="310.9" y="1537.43" width="3.34" height="3.34" fill="#3d0000"/>
<rect x="310.9" y="1540.65" width="3.34" height="3.34" fill="#3d0000"/>
<rect x="314.12" y="1534.21" width="3.34" height="3.34" fill="#440000"/>
<rect x="314.12" y="1556.75" width="3.34" height="3.34" fill="#1b0000"/>
<rect x="317.34" y="1514.89" width="3.34" height="3.34" fill="#520000"/>
<rect x="317.34" y="1518.11" width="3.34" height="3.34" fill="#5f0000"/>
<rect x="317.34" y="1521.33" width="3.34" height="3.34" fill="#660000"/>
<rect x="317.34" y="1524.55" width="3.34" height="3.34" fill="#660000"/>
<rect x="317.34" y="1527.77" width="3.34" height="3.34" fill="#440000"/>
<rect x="320.56" y="1514.89" width="3.34" height="3.34" fill="#520000"/>
<rect x="320.56" y="1518.11" width="3.34" height="3.34" fill="#5f0000"/>
<rect x="320.56" y="1527.77" width="3.34" height="3.34" fill="#e00000"/>
<rect x="320.56" y="1530.99" width="3.34" height="3.34" fill="#360000"/>
<rect x="320.56" y="1559.97" width="3.34" height="3.34" fill="#1b0000"/>
<rect x="320.56" y="1563.19" width="3.34" height="3.34" fill="#f50000"/>
<rect x="320.56" y="1566.41" width="3.34" height="3.34" fill="#440000"/>
<rect x="323.78" y="1518.11" width="3.34" height="3.34" fill="#5f0000"/>
<rect x="323.78" y="1527.77" width="3.34" height="3.34" fill="#e00000"/>
<rect x="323.78" y="1530.99" width="3.34" height="3.34" fill="#360000"/>
<rect x="323.78" y="1559.97" width="3.34" height="3.34" fill="#1b0000"/>
<rect x="323.78" y="1566.41" width="3.34" height="3.34" fill="#440000"/>
<rect x="327" y="1514.89" width="3.34" height="3.34" fill="#440000"/>
<rect x="327" y="1521.33" width="3.34" height="3.34" fill="#440000"/>
<rect x="327" y="1527.77" width="3.34" height="3.34" fill="#cc0000"/>
<rect x="327" y="1569.63" width="3.34" height="3.34" fill="#7a0000"/>
<rect x="330.22" y="1514.89" width="3.34" height="3.34" fill="#440000"/>
<rect x="330.22" y="1521.33" width="3.34" height="3.34" fill="#440000"/>
<rect x="330.22" y="1527.77" width="3.34" height="3.34" fill="#cc0000"/>
<rect x="330.22" y="1569.63" width="3.34" height="3.34" fill="#7a0000"/>
<rect x="333.44" y="1527.77" width="3.34" height="3.34" fill="#cc0000"/>
<rect x="333.44" y="1534.21" width="3.34" height="3.34" fill="#360000"/>
<rect x="333.44" y="1547.09" width="3.34" height="3.34" fill="#960000"/>
<rect x="333.44" y="1550.31" width="3.34" height="3.34" fill="#1b0000"/>
<rect x="333.44" y="1556.75" width="3.34" height="3.34" fill="#440000"/>
<rect x="336.66" y="1547.09" width="3.34" height="3.34" fill="#e70000"/>
<rect x="336.66" y="1550.31" width="3.34" height="3.34" fill="#e00000"/>
<rect x="339.88" y="1530.99" width="3.34" height="3.34" fill="#140000"/>
<rect x="339.88" y="1543.87" width="3.34" height="3.34" fill="#f50000"/>
<rect x="339.88" y="1547.09" width="3.34" height="3.34" fill="#960000"/>
<rect x="339.88" y="1556.75" width="3.34" height="3.34" fill="#140000"/>
<rect x="339.88" y="1563.19" width="3.34" height="3.34" fill="#ff0300"/>
<rect x="343.1" y="1553.53" width="3.34" height="3.34" fill="#360000"/>
<rect x="346.32" y="1556.75" width="3.34" height="3.34" fill="#cc0000"/>
<rect x="346.32" y="1559.97" width="3.34" height="3.34" fill="#ff7700"/>
<rect x="349.54" y="1556.75" width="3.34" height="3.34" fill="#cc0000"/>
<rect x="352.76" y="1537.43" width="3.34" height="3.34" fill="#520000"/>
<rect x="355.98" y="1530.99" width="3.34" height="3.34" fill="#aa0000"/>
<rect x="355.98" y="1534.21" width="3.34" height="3.34" fill="#aa0000"/>
<rect x="355.98" y="1540.65" width="3.34" height="3.34" fill="#1b0000"/>
<rect x="359.2" y="1530.99" width="3.34" height="3.34" fill="#1b0000"/>
<rect x="359.2" y="1556.75" width="3.34" height="3.34" fill="#ff0300"/>
<rect x="365.64" y="1514.89" width="3.34" height="3.34" fill="#360000"/>
<rect x="368.86" y="1559.97" width="3.34" height="3.34" fill="#360000"/>
<rect x="378.52" y="1537.43" width="3.34" height="3.34" fill="#880000"/>
<rect x="384.96" y="1524.55" width="3.34" height="3.34" fill="#140000"/>
<rect x="391.4" y="1511.67" width="3.34" height="3.34" fill="#e00000"/>
</g>
<clipPath id="clipg"><rect x="89.4" y="1370.3" width="415.9" height="401"/></clipPath>
<g clip-path="url(#clipg)" fill="none">
<polyline points="352.21,1364.3 354.46,1381.51 356.67,1398.72 358.86,1415.92 361.02,1433.13 363.14,1450.34 365.24,1467.55 367.31,1484.76 369.34,1501.97 371.35,1519.17 373.33,1536.38 375.27,1553.59 377.19,1570.8 379.08,1588.01 380.93,1605.22 382.76,1622.42 384.56,1639.63 386.33,1656.84 388.07,1674.05 389.77,1691.26 391.45,1708.47 393.1,1725.67 394.72,1742.88 396.31,1760.09 397.87,1777.3" stroke="#fff" stroke-width="8.4"/>
<polyline points="352.21,1364.3 354.46,1381.51 356.67,1398.72 358.86,1415.92 361.02,1433.13 363.14,1450.34 365.24,1467.55 367.31,1484.76 369.34,1501.97 371.35,1519.17 373.33,1536.38 375.27,1553.59 377.19,1570.8 379.08,1588.01 380.93,1605.22 382.76,1622.42 384.56,1639.63 386.33,1656.84 388.07,1674.05 389.77,1691.26 391.45,1708.47 393.1,1725.67 394.72,1742.88 396.31,1760.09 397.87,1777.3" stroke="#000" stroke-width="2" stroke-dasharray="6.6 5.6"/>
<polyline points="359.83,1423.6 361.25,1435 362.66,1446.41 364.06,1457.81 365.44,1469.22 366.81,1480.62 368.17,1492.02 369.51,1503.43 370.84,1514.83 372.16,1526.24 373.47,1537.64 374.76,1549.05 376.04,1560.45 377.31,1571.85 378.56,1583.26 379.8,1594.66 381.02,1606.07 382.24,1617.47 383.44,1628.88 384.63,1640.28 385.8,1651.68 386.96,1663.09 388.11,1674.49 389.24,1685.9 390.37,1697.3" stroke="#000" stroke-width="5.1"/>
</g>
<line x1="440" y1="1625.4" x2="424.4" y2="1479.5" stroke="#231f20" stroke-width="3.8" />
<polyline points="439.85,1497.21 424.4,1479.5 413.04,1500.07" fill="none" stroke="#231f20" stroke-width="3.8" stroke-linejoin="miter"/>
<rect x="89.4" y="1370.3" width="415.9" height="401" fill="none" stroke="#262626" stroke-width="1.5"/>
<line x1="94.8" y1="1771.3" x2="94.8" y2="1767" stroke="#262626" stroke-width="1.4" />
<line x1="94.8" y1="1370.3" x2="94.8" y2="1374.6" stroke="#262626" stroke-width="1.4" />
<text x="94.8" y="1813.5" font-size="30.8" text-anchor="middle" font-family='"Liberation Sans", Arial, sans-serif' font-weight="normal" font-style="normal" fill="#1a1a1a" >-55</text>
<line x1="249" y1="1771.3" x2="249" y2="1767" stroke="#262626" stroke-width="1.4" />
<line x1="249" y1="1370.3" x2="249" y2="1374.6" stroke="#262626" stroke-width="1.4" />
<text x="249" y="1813.5" font-size="30.8" text-anchor="middle" font-family='"Liberation Sans", Arial, sans-serif' font-weight="normal" font-style="normal" fill="#1a1a1a" >-50</text>
<line x1="403.2" y1="1771.3" x2="403.2" y2="1767" stroke="#262626" stroke-width="1.4" />
<line x1="403.2" y1="1370.3" x2="403.2" y2="1374.6" stroke="#262626" stroke-width="1.4" />
<text x="403.2" y="1813.5" font-size="30.8" text-anchor="middle" font-family='"Liberation Sans", Arial, sans-serif' font-weight="normal" font-style="normal" fill="#1a1a1a" >-45</text>
<line x1="89.4" y1="1732.3" x2="93.7" y2="1732.3" stroke="#262626" stroke-width="1.4" />
<line x1="505.3" y1="1732.3" x2="501" y2="1732.3" stroke="#262626" stroke-width="1.4" />
<text x="79" y="1744.6" font-size="30.8" text-anchor="end" font-family='"Liberation Sans", Arial, sans-serif' font-weight="normal" font-style="normal" fill="#1a1a1a" >63</text>
<line x1="89.4" y1="1671.88" x2="93.7" y2="1671.88" stroke="#262626" stroke-width="1.4" />
<line x1="505.3" y1="1671.88" x2="501" y2="1671.88" stroke="#262626" stroke-width="1.4" />
<text x="79" y="1684.18" font-size="30.8" text-anchor="end" font-family='"Liberation Sans", Arial, sans-serif' font-weight="normal" font-style="normal" fill="#1a1a1a" >64</text>
<line x1="89.4" y1="1611.46" x2="93.7" y2="1611.46" stroke="#262626" stroke-width="1.4" />
<line x1="505.3" y1="1611.46" x2="501" y2="1611.46" stroke="#262626" stroke-width="1.4" />
<text x="79" y="1623.76" font-size="30.8" text-anchor="end" font-family='"Liberation Sans", Arial, sans-serif' font-weight="normal" font-style="normal" fill="#1a1a1a" >65</text>
<line x1="89.4" y1="1551.04" x2="93.7" y2="1551.04" stroke="#262626" stroke-width="1.4" />
<line x1="505.3" y1="1551.04" x2="501" y2="1551.04" stroke="#262626" stroke-width="1.4" />
<text x="79" y="1563.34" font-size="30.8" text-anchor="end" font-family='"Liberation Sans", Arial, sans-serif' font-weight="normal" font-style="normal" fill="#1a1a1a" >66</text>
<line x1="89.4" y1="1490.62" x2="93.7" y2="1490.62" stroke="#262626" stroke-width="1.4" />
<line x1="505.3" y1="1490.62" x2="501" y2="1490.62" stroke="#262626" stroke-width="1.4" />
<text x="79" y="1502.92" font-size="30.8" text-anchor="end" font-family='"Liberation Sans", Arial, sans-serif' font-weight="normal" font-style="normal" fill="#1a1a1a" >67</text>
<line x1="89.4" y1="1430.2" x2="93.7" y2="1430.2" stroke="#262626" stroke-width="1.4" />
<line x1="505.3" y1="1430.2" x2="501" y2="1430.2" stroke="#262626" stroke-width="1.4" />
<text x="79" y="1442.5" font-size="30.8" text-anchor="end" font-family='"Liberation Sans", Arial, sans-serif' font-weight="normal" font-style="normal" fill="#1a1a1a" >68</text>
<text x="297.55" y="1857.7" font-size="34.5" text-anchor="middle" font-family='"Liberation Sans", Arial, sans-serif' font-weight="normal" font-style="normal" fill="#1a1a1a" >Magnetic longitude [deg]</text>
<text transform="translate(30,1570.8) rotate(-90)" font-size="34.5" text-anchor="middle" font-family='"Liberation Sans", Arial, sans-serif' fill="#1a1a1a">Magnetic latitude [deg]</text>
<text x="110" y="1423.5" font-size="42.5" text-anchor="start" font-family='"Liberation Sans", Arial, sans-serif' font-weight="bold" font-style="normal" fill="#000" >g)</text>
<text x="203" y="1699" font-size="37" text-anchor="start" font-family='"Liberation Sans", Arial, sans-serif' font-weight="bold" font-style="normal" fill="#000" textLength="155" lengthAdjust="spacingAndGlyphs">Swarm C</text>
<clipPath id="clipb"><rect x="697" y="131.2" width="416" height="406.8"/></clipPath>
<g clip-path="url(#clipb)">
<polyline points="710.4,420.3 711.9,428.2 714.1,411.9 716.9,405.6 719.4,409 720.9,390.4 723.5,382.5 725.1,383.6 726.2,413 729.2,390.4 730.5,414.1 732.8,404 735.6,433.9 737.9,431.6 739.5,393.8 742,391.5 746.3,411.9 749.5,390.4 752.2,390.4 754.5,409.6 756.5,390.4 758.2,384.7 760.5,398.3 761.9,383.6 764.4,406.2 766.7,371.2 769.2,365 771.2,366.7 773.4,372.3 775.5,355.4 778,358.8 779.1,418.6 780.5,396 781.9,439 784.2,435.6 786.8,456.5 790.4,450.3 792.7,444.6 793.8,379.1 795.3,376.3 796.6,417.5 799.4,397.2 802.3,377.4 805.1,401.7 808.5,377.4 811.3,390.4 815.3,400.6 818.6,391.5 821.5,403.4 826.6,390.4 831.1,385.9 835.6,370.1 837.9,364.4 841.2,371.2 844.1,374 846.9,365.5 849.2,365.5 850.8,350.8 853.1,363.8 855.4,342.9 857.6,347.5 859.9,355.4 861.4,340.1 862.7,353.1 865,349.2 867.2,365.5 870.1,390.4 874,381.9 876.3,387 878.5,374.6 879.7,389.8 883.6,378 884.2,387.6 891,368.9 894.4,372.3 898.1,364.5 900.9,371.3 902.6,377.5 903.7,406.9 905.1,411.4 906.9,395 908.8,421.6 911.4,425.5 913.3,388.8 916.2,391.6 919,397.3 921.6,401.2 924.1,386.6 925.8,396.7 927.5,381.5 930.3,389.9 932.5,406.9 935.4,404.6 937.1,415.9 939.3,412.5 941,430.6 943.3,428.4 945,412 947.2,436.3 949.5,441.9 951.8,430.6 954.6,449.3 956.8,445.3 959.1,405.8 960.5,398.4 961.6,408 963.4,386.6 964.7,397.9 965.9,371.9 967.9,360 969.8,369.6 972.1,358.3 973.8,364.5 976.3,359.4 977.2,340.2 980,332.3 981.7,339.1 983.4,334.6 985.6,328.9 989,336.8 991.9,367.3 993.6,370.7 995.3,345.9 997.5,366.2 1001.5,364.5 1004.3,344.7 1007.1,341.4 1008.8,322.7 1012.2,321 1013.9,366.2 1015.6,380.3 1017.6,356.6 1020.1,371.9 1021.8,347.6 1024.1,353.8 1025.2,367.3 1026.9,359.4 1028.6,369 1029.7,358.3 1032,359.4 1033.1,345.9 1034.8,342.5 1036.2,309.7 1037.6,324.4 1040.5,318.8 1041,307.5 1043.8,305.2 1046.7,313.1 1047.8,336.8 1051.8,327.8 1054.6,325 1056.8,336.8 1058.5,316.5 1060.6,329.5 1062.5,296.2 1065.3,305.2 1067.6,281.5 1070.4,293.9 1073.2,303.5 1074.5,253.3 1075.1,178.4 1076.1,135.7 1078.6,144.2 1079.3,167.8 1081.8,162.4 1082.9,191.3 1084.7,149.1 1086.1,148 1087.1,224.4 1088.6,215.9 1089.7,146.4 1090.8,133 1092.5,133.6 1094,157.1 1095,215.9 1097,207.3 1098.2,290.2 1099.7,267.2 1100.8,287.5" fill="none" stroke="#000" stroke-width="4.2" stroke-linejoin="round" stroke-linecap="round" />
</g>
<rect x="697" y="133.2" width="416" height="400.8" fill="none" stroke="#262626" stroke-width="1.4"/>
<line x1="780.8" y1="534" x2="780.8" y2="519.3" stroke="#262626" stroke-width="1.4" />
<line x1="780.8" y1="133.2" x2="780.8" y2="147.9" stroke="#262626" stroke-width="1.4" />
<text x="780.8" y="576.2" font-size="30.8" text-anchor="middle" font-family='"Liberation Sans", Arial, sans-serif' font-weight="normal" font-style="normal" fill="#1a1a1a" >07:08:30</text>
<line x1="946.6" y1="534" x2="946.6" y2="519.3" stroke="#262626" stroke-width="1.4" />
<line x1="946.6" y1="133.2" x2="946.6" y2="147.9" stroke="#262626" stroke-width="1.4" />
<text x="946.6" y="576.2" font-size="30.8" text-anchor="middle" font-family='"Liberation Sans", Arial, sans-serif' font-weight="normal" font-style="normal" fill="#1a1a1a" >07:09:00</text>
<text x="1113" y="576.2" font-size="30.8" text-anchor="middle" font-family='"Liberation Sans", Arial, sans-serif' font-weight="normal" font-style="normal" fill="#1a1a1a" >07:09:30</text>
<text x="687.5" y="547.4" font-size="30.8" text-anchor="end" font-family='"Liberation Sans", Arial, sans-serif' font-weight="normal" font-style="normal" fill="#1a1a1a" >1.5</text>
<line x1="697" y1="413.7" x2="711.7" y2="413.7" stroke="#262626" stroke-width="1.4" />
<line x1="1113" y1="413.7" x2="1098.3" y2="413.7" stroke="#262626" stroke-width="1.4" />
<text x="687.5" y="426.1" font-size="30.8" text-anchor="end" font-family='"Liberation Sans", Arial, sans-serif' font-weight="normal" font-style="normal" fill="#1a1a1a" >2</text>
<line x1="697" y1="291.4" x2="711.7" y2="291.4" stroke="#262626" stroke-width="1.4" />
<line x1="1113" y1="291.4" x2="1098.3" y2="291.4" stroke="#262626" stroke-width="1.4" />
<text x="687.5" y="303.8" font-size="30.8" text-anchor="end" font-family='"Liberation Sans", Arial, sans-serif' font-weight="normal" font-style="normal" fill="#1a1a1a" >2.5</text>
<line x1="697" y1="170" x2="711.7" y2="170" stroke="#262626" stroke-width="1.4" />
<line x1="1113" y1="170" x2="1098.3" y2="170" stroke="#262626" stroke-width="1.4" />
<text x="687.5" y="182.4" font-size="30.8" text-anchor="end" font-family='"Liberation Sans", Arial, sans-serif' font-weight="normal" font-style="normal" fill="#1a1a1a" >3</text>
<text x="1086.4" y="617.2" font-size="30.8" text-anchor="end" font-family='"Liberation Sans", Arial, sans-serif' font-weight="normal" font-style="normal" fill="#1a1a1a" >May 22, 2022</text>
<text x="699.1" y="130.7" font-size="37" font-family='"Liberation Serif", "Times New Roman", serif' fill="#1a1a1a">×</text>
<text x="723" y="125.2" font-size="30.8" font-family='"Liberation Sans", Arial, sans-serif' fill="#1a1a1a">10</text>
<text x="757.4" y="110" font-size="24.2" font-family='"Liberation Sans", Arial, sans-serif' fill="#1a1a1a">5</text>
<text transform="translate(630,333.6) rotate(-90)" font-size="34.5" text-anchor="middle" font-family='"Liberation Sans", Arial, sans-serif' fill="#1a1a1a">Plasma density [cm<tspan dy="-16.5" font-size="27">-3</tspan><tspan dy="16.5">]</tspan></text>
<text x="717.5" y="186" font-size="42.5" text-anchor="start" font-family='"Liberation Sans", Arial, sans-serif' font-weight="bold" font-style="normal" fill="#000" >b)</text>
<clipPath id="clipe"><rect x="697" y="746.6" width="416.6" height="407"/></clipPath>
<g clip-path="url(#clipe)">
<polyline points="707.9,1091.1 708.8,1096.7 710.2,1091.1 711.3,1104.1 713,1091.1 714.1,1095.6 715.8,1099 716.9,1103.5 717.9,1121 719.4,1103.5 720.9,1106.9 722.6,1117.1 725.1,1102.4 726.2,1136.3 728.5,1121.6 731.1,1122.7 733.9,1120.5 736.7,1105.8 738.4,1103.5 739,1021 740.1,1018.8 741.2,1059.4 742.4,1043.6 744.6,1061.7 745.8,1039.1 746.6,1068.5 748,1034.6 749.2,1071.9 750.8,1027.8 752,1032.3 752.9,1086.6 754.2,1053.8 755.6,1075.3 757.1,1052.1 759.3,1056 761.6,1054.9 762.4,1034 763.8,1042.5 765,1045.9 766.7,1066.2 767.8,1044.2 769.5,1049.3 772.3,1062.8 774.6,1057.2 776.6,1065.6 778,1051.5 780,1048.7 781.4,1061.7 784.2,1068.5 785.9,1038 787.2,1036.3 788.7,1039.1 789.8,1053.8 791.5,1079.8 793.2,1082 795.8,1063.4 797.2,1082 799.4,1079.8 800.6,1088.8 802.3,1091.1 804,1064 805.1,1062.3 807.3,1075.3 809.4,1075.3 810.5,1053.8 811.9,1074.1 813,1042.5 813.9,1075.3 815.5,1054.9 816.9,1073 818.9,1058.3 820.3,1087.7 822,1086.6 824.3,1071.9 825.6,1074.1 827.1,1089.4 828.2,1064 830.5,1058.3 833.9,1053.8 834.7,1023.3 835.6,1023.3 836.9,1075.3 838.4,1026.7 839.8,1026.7 840.7,1070.7 842.4,1050.4 843.5,1052.7 845.2,1027.8 846.7,1045.9 848.2,1009.7 849.4,1010.3 850.3,1071.9 852.5,1069.6 854.2,1080.9 855.4,1119.3 857.6,1111.4 859.3,1087.7 861,1105.8 862.7,1095.6 863.8,1112 865.5,1091.1 867.8,1101.2 869.5,1082 870.6,1061.7 871.8,1086.6 873.4,1089.4 875.1,1079.8 876,982.6 877.2,982 878.5,988.2 879.7,1045.9 883.1,1056 884.2,1065.1 885.9,1045.9 888.1,1052.7 891,1041.4 892.1,1045.9 893.2,1035.1 893.3,1034.6 894.5,1050.4 896.9,1040.2 898.6,1053.8 900.9,1065.6 903.7,1061.7 906.6,1062.3 908.2,1056 911.1,1059.4 912.8,1071.9 914.5,1064 916.2,1063.4 917.9,1076.4 920.7,1074.1 922.4,1039.1 924.3,1013.1 925.4,1023.3 926.6,1059.4 928,1023.3 929.2,1064 930.3,1016.5 932.2,1017.1 933.3,1065.1 934.8,1048.1 936.5,1065.1 938.2,1045.9 939.3,1042.5 940.5,1073 942.1,1041.9 944.6,1050.4 945.8,1083.2 947.8,1079.8 950.1,1089.9 951.8,1078.1 954.6,1082.6 956.6,1067.3 957.4,1094.5 959.1,1073 960.8,1073.6 963.6,1083.2 965.9,1082 967.2,1091.6 970.4,1086.6 972.1,1070.7 973.8,1076.4 975.1,1070.2 977.4,1086.6 979.4,1078.6 980.6,1073 982.8,1077.5 984.5,1053.8 986.2,1044.7 987.9,1050.4 989.4,1074.7 991.3,1049.3 992.8,1038 993.9,1064 995.3,1060.6 997.5,1100.7 999.2,1095.6 1000.7,1066.8 1002.6,1076.4 1004.3,1068.5 1005.4,1061.1 1007.1,1077.5 1008.2,1067.3 1009.9,1078.6 1011.1,1111.4 1012.8,1106.9 1013.9,1094.5 1015.6,1089.9 1016.5,1109.7 1018.1,1088.8 1019.5,1103.5 1021.2,1068.5 1022.6,1045.9 1024.6,1038 1025.8,1036.8 1027.1,1057.2 1028.9,1027.8 1029.4,1020.4 1030.7,967 1031.4,940.3 1033.4,969.7 1034.4,900 1035.6,836.5 1037.4,853.4 1038.4,973.7 1041.4,975 1042,881.5 1044,866.8 1046,860 1047.4,940.3 1049.4,982.3 1051,873 1051.5,824 1052.3,900 1053,830 1053.8,905 1054.5,797 1055.2,911 1056,835 1056.8,900 1057.5,840 1058.1,967 1059,870 1059.8,969.6 1060.5,860 1061.2,900 1061.8,781.5 1062.5,880 1063.2,830 1064.2,930 1065.2,846 1066.5,888 1068.1,886.8 1069.4,868 1071.4,860 1072.8,900 1074.8,953.6 1075.9,982.3 1077.5,931 1079.5,953.6 1080.8,965.6 1082.1,937.6 1084.1,951 1085.5,916.2 1088.1,908.2 1090.8,913.5 1092.2,931 1093.5,917.5 1095.9,922.9 1096.8,950.3 1098.2,937.6" fill="none" stroke="#000" stroke-width="4.2" stroke-linejoin="round" stroke-linecap="round" />
</g>
<rect x="697" y="748.6" width="416.6" height="401" fill="none" stroke="#262626" stroke-width="1.4"/>
<line x1="780.8" y1="1149.6" x2="780.8" y2="1134.9" stroke="#262626" stroke-width="1.4" />
<line x1="780.8" y1="748.6" x2="780.8" y2="763.3" stroke="#262626" stroke-width="1.4" />
<text x="780.8" y="1191.8" font-size="30.8" text-anchor="middle" font-family='"Liberation Sans", Arial, sans-serif' font-weight="normal" font-style="normal" fill="#1a1a1a" >11:09:00</text>
<line x1="946.6" y1="1149.6" x2="946.6" y2="1134.9" stroke="#262626" stroke-width="1.4" />
<line x1="946.6" y1="748.6" x2="946.6" y2="763.3" stroke="#262626" stroke-width="1.4" />
<text x="946.6" y="1191.8" font-size="30.8" text-anchor="middle" font-family='"Liberation Sans", Arial, sans-serif' font-weight="normal" font-style="normal" fill="#1a1a1a" >11:09:30</text>
<text x="1113.6" y="1191.8" font-size="30.8" text-anchor="middle" font-family='"Liberation Sans", Arial, sans-serif' font-weight="normal" font-style="normal" fill="#1a1a1a" >11:10:00</text>
<text x="687.5" y="1161.52" font-size="30.8" text-anchor="end" font-family='"Liberation Sans", Arial, sans-serif' font-weight="normal" font-style="normal" fill="#1a1a1a" >3</text>
<line x1="697" y1="1068.99" x2="711.7" y2="1068.99" stroke="#262626" stroke-width="1.4" />
<line x1="1113.6" y1="1068.99" x2="1098.9" y2="1068.99" stroke="#262626" stroke-width="1.4" />
<text x="687.5" y="1081.39" font-size="30.8" text-anchor="end" font-family='"Liberation Sans", Arial, sans-serif' font-weight="normal" font-style="normal" fill="#1a1a1a" >4</text>
<line x1="697" y1="988.86" x2="711.7" y2="988.86" stroke="#262626" stroke-width="1.4" />
<line x1="1113.6" y1="988.86" x2="1098.9" y2="988.86" stroke="#262626" stroke-width="1.4" />
<text x="687.5" y="1001.26" font-size="30.8" text-anchor="end" font-family='"Liberation Sans", Arial, sans-serif' font-weight="normal" font-style="normal" fill="#1a1a1a" >5</text>
<line x1="697" y1="908.73" x2="711.7" y2="908.73" stroke="#262626" stroke-width="1.4" />
<line x1="1113.6" y1="908.73" x2="1098.9" y2="908.73" stroke="#262626" stroke-width="1.4" />
<text x="687.5" y="921.13" font-size="30.8" text-anchor="end" font-family='"Liberation Sans", Arial, sans-serif' font-weight="normal" font-style="normal" fill="#1a1a1a" >6</text>
<line x1="697" y1="828.6" x2="711.7" y2="828.6" stroke="#262626" stroke-width="1.4" />
<line x1="1113.6" y1="828.6" x2="1098.9" y2="828.6" stroke="#262626" stroke-width="1.4" />
<text x="687.5" y="841" font-size="30.8" text-anchor="end" font-family='"Liberation Sans", Arial, sans-serif' font-weight="normal" font-style="normal" fill="#1a1a1a" >7</text>
<text x="687.5" y="760.87" font-size="30.8" text-anchor="end" font-family='"Liberation Sans", Arial, sans-serif' font-weight="normal" font-style="normal" fill="#1a1a1a" >8</text>
<text x="1086.4" y="1232.8" font-size="30.8" text-anchor="end" font-family='"Liberation Sans", Arial, sans-serif' font-weight="normal" font-style="normal" fill="#1a1a1a" >May 30, 2020</text>
<text x="699.1" y="746.1" font-size="37" font-family='"Liberation Serif", "Times New Roman", serif' fill="#1a1a1a">×</text>
<text x="723" y="740.6" font-size="30.8" font-family='"Liberation Sans", Arial, sans-serif' fill="#1a1a1a">10</text>
<text x="757.4" y="725.4" font-size="24.2" font-family='"Liberation Sans", Arial, sans-serif' fill="#1a1a1a">4</text>
<text transform="translate(655.4,949.1) rotate(-90)" font-size="34.5" text-anchor="middle" font-family='"Liberation Sans", Arial, sans-serif' fill="#1a1a1a">Plasma density [cm<tspan dy="-16.5" font-size="27">-3</tspan><tspan dy="16.5">]</tspan></text>
<text x="717.5" y="801.4" font-size="42.5" text-anchor="start" font-family='"Liberation Sans", Arial, sans-serif' font-weight="bold" font-style="normal" fill="#000" >e)</text>
<clipPath id="cliph"><rect x="697.7" y="1369.8" width="415.3" height="406.6"/></clipPath>
<g clip-path="url(#cliph)">
<polyline points="705.6,1535.4 706.8,1545.5 707.3,1534.2 708.5,1549.5 710.4,1537.6 711.9,1547.8 713.6,1541.6 713.8,1560.8 715.8,1548.4 717.5,1552.3 718.6,1574.9 720.1,1586.8 721.5,1565.9 722.4,1545.5 724.3,1560.8 725.4,1547.8 726.2,1506 727.7,1497.5 729.9,1496.9 732.2,1501.5 733.3,1538.8 735.3,1522.9 736.4,1560.8 738.4,1538.8 739.5,1530.3 741.2,1554 743.5,1534.2 744.6,1522.9 746.9,1523.5 748,1553.4 749.7,1534.2 751.4,1534.2 754.2,1546.7 756.5,1548.9 757.6,1509.4 759.9,1500.9 761.6,1519.5 763.3,1517.3 765,1497.5 766.7,1496.9 767.8,1518.4 770.1,1500.3 771,1489 772.3,1542.1 774,1508.2 776.8,1524.1 778,1500.3 779.7,1493.6 781.4,1516.2 783.1,1496.9 785.3,1508.2 786.8,1499.2 787.9,1493.3 789.8,1498.1 791,1581.7 792.1,1608.8 793.2,1587.3 793.8,1534.2 796,1527.5 797.2,1534.2 798.1,1516.2 800,1517.3 801.5,1507.7 802.8,1560.8 804.5,1516.2 806.2,1522.9 807.9,1593 809.6,1611.1 810.7,1617.3 811.9,1593 813.6,1609.9 815.3,1598.6 818.1,1624.6 819.8,1604.3 821.5,1596.9 823.2,1631.4 824.9,1608.2 827.1,1629.2 829.4,1625.8 831.6,1589.6 832.8,1582.8 835.6,1582.3 836.7,1602 838.4,1584 840.7,1567 842.9,1579.4 846.3,1582.8 848,1593 849.4,1609.9 851.4,1607.7 852.5,1596.9 855.4,1619 857.6,1620.7 859.9,1598.1 861.6,1571.5 862.7,1609.9 864.4,1608.8 865.5,1551.8 867.2,1586.2 868.4,1570.4 869.6,1583.4 870.7,1608.2 871.9,1659.1 873.6,1684 875.3,1641 876.9,1650.1 878.6,1627.5 880.3,1643.3 881.5,1617.3 883.2,1608.2 884.6,1601.5 885.4,1647.8 887.1,1653.4 888.8,1647.8 889.6,1612.8 891.6,1647.8 893.3,1698.6 895.3,1624.1 896.7,1681.7 898.6,1616.2 900.1,1704.3 901.2,1743.3 902.7,1659.1 903.3,1597.5 904.6,1636.5 905.8,1676 906.6,1620.7 908.6,1684 910.3,1652.3 911.4,1607.1 913.1,1597.5 914.8,1633.1 915.9,1608.2 917.3,1658 918.8,1628.6 919.9,1650.1 921.6,1639.3 922.4,1704.3 923.8,1723.5 925.5,1719 927.2,1733.7 929.2,1739.3 930.6,1726.9 932.3,1707.7 935.1,1703.7 936.8,1688.5 939.3,1683.4 940.8,1698.6 943.1,1730.3 944.2,1739.3 945.3,1717.9 947,1716.7 948.1,1729.2 949.5,1709.4 951,1715.6 952.7,1747.2 954.4,1737.1 956,1735.9 958.3,1743.8 960,1760.8 962.3,1749.5 963.4,1767.6 964.9,1772.7 966.8,1743.8 968.7,1749.5 970.2,1724.6 971.9,1703.2 973.6,1729.2 975,1694.7 976.4,1735.9 977.5,1696.4 978.6,1726.9 979.8,1676 980.7,1676.6 982,1738.2 983.7,1731.4 986,1742.7 987.1,1725.8 988.8,1709.4 989.9,1734.8 991.6,1730.3 992.8,1702 993.9,1680 995.6,1709.9 996.7,1705.4 997.2,1580.3 997.2,1553.1 999.6,1534.6 1000.9,1561.1 1002.5,1545.9 1003.3,1567.5 1005.4,1545.1 1006.2,1567.5 1007.8,1553.1 1008.6,1506.6 1011,1522.6 1011.6,1471.3 1013.7,1487.3 1015.3,1449.7 1017.2,1441.6 1019,1461.7 1020.9,1541.9 1022.9,1471.3 1024.1,1541.9 1025.7,1548.3 1026.5,1700.6 1027,1709.9 1028.6,1687.3 1030.6,1700.9 1032.3,1717.3 1034.6,1680.6 1036.3,1682.3 1038,1659.1 1039.1,1657.4 1040.6,1665.9 1041.9,1676 1044.4,1691.3 1046.4,1673.8 1048.1,1682.8 1050.4,1664.7 1052.1,1687.3 1053.8,1669.3 1054.9,1687.3 1057.2,1669.3 1058.9,1681.7 1060,1679.4 1062.6,1683 1064.2,1655.7 1067.1,1650.9 1069,1660.5 1071.9,1679.8 1073,1662.1 1075.8,1671.7 1077.9,1646.1 1079,1638.9 1081.9,1660.5 1085.1,1652.5 1087.5,1646.1 1088.8,1624.4 1092.3,1620.4 1094.7,1616.4 1097.1,1623.6 1099.2,1612.4 1100.8,1618.8" fill="none" stroke="#000" stroke-width="4.2" stroke-linejoin="round" stroke-linecap="round" />
</g>
<rect x="697.7" y="1371.8" width="415.3" height="400.6" fill="none" stroke="#262626" stroke-width="1.4"/>
<line x1="766.7" y1="1772.4" x2="766.7" y2="1757.7" stroke="#262626" stroke-width="1.4" />
<line x1="766.7" y1="1371.8" x2="766.7" y2="1386.5" stroke="#262626" stroke-width="1.4" />
<text x="766.7" y="1814.6" font-size="30.8" text-anchor="middle" font-family='"Liberation Sans", Arial, sans-serif' font-weight="normal" font-style="normal" fill="#1a1a1a" >07:04:00</text>
<line x1="905.8" y1="1772.4" x2="905.8" y2="1757.7" stroke="#262626" stroke-width="1.4" />
<line x1="905.8" y1="1371.8" x2="905.8" y2="1386.5" stroke="#262626" stroke-width="1.4" />
<text x="905.8" y="1814.6" font-size="30.8" text-anchor="middle" font-family='"Liberation Sans", Arial, sans-serif' font-weight="normal" font-style="normal" fill="#1a1a1a" >07:04:30</text>
<line x1="1044.9" y1="1772.4" x2="1044.9" y2="1757.7" stroke="#262626" stroke-width="1.4" />
<line x1="1044.9" y1="1371.8" x2="1044.9" y2="1386.5" stroke="#262626" stroke-width="1.4" />
<text x="1044.9" y="1814.6" font-size="30.8" text-anchor="middle" font-family='"Liberation Sans", Arial, sans-serif' font-weight="normal" font-style="normal" fill="#1a1a1a" >07:05:00</text>
<line x1="697.7" y1="1768.65" x2="712.4" y2="1768.65" stroke="#262626" stroke-width="1.4" />
<line x1="1113" y1="1768.65" x2="1098.3" y2="1768.65" stroke="#262626" stroke-width="1.4" />
<text x="688.2" y="1781.05" font-size="30.8" text-anchor="end" font-family='"Liberation Sans", Arial, sans-serif' font-weight="normal" font-style="normal" fill="#1a1a1a" >1.5</text>
<line x1="697.7" y1="1669.2" x2="712.4" y2="1669.2" stroke="#262626" stroke-width="1.4" />
<line x1="1113" y1="1669.2" x2="1098.3" y2="1669.2" stroke="#262626" stroke-width="1.4" />
<text x="688.2" y="1681.6" font-size="30.8" text-anchor="end" font-family='"Liberation Sans", Arial, sans-serif' font-weight="normal" font-style="normal" fill="#1a1a1a" >2</text>
<line x1="697.7" y1="1569.75" x2="712.4" y2="1569.75" stroke="#262626" stroke-width="1.4" />
<line x1="1113" y1="1569.75" x2="1098.3" y2="1569.75" stroke="#262626" stroke-width="1.4" />
<text x="688.2" y="1582.15" font-size="30.8" text-anchor="end" font-family='"Liberation Sans", Arial, sans-serif' font-weight="normal" font-style="normal" fill="#1a1a1a" >2.5</text>
<line x1="697.7" y1="1470.3" x2="712.4" y2="1470.3" stroke="#262626" stroke-width="1.4" />
<line x1="1113" y1="1470.3" x2="1098.3" y2="1470.3" stroke="#262626" stroke-width="1.4" />
<text x="688.2" y="1482.7" font-size="30.8" text-anchor="end" font-family='"Liberation Sans", Arial, sans-serif' font-weight="normal" font-style="normal" fill="#1a1a1a" >3</text>
<text x="688.2" y="1383.25" font-size="30.8" text-anchor="end" font-family='"Liberation Sans", Arial, sans-serif' font-weight="normal" font-style="normal" fill="#1a1a1a" >3.5</text>
<text x="1083" y="1855.6" font-size="30.8" text-anchor="end" font-family='"Liberation Sans", Arial, sans-serif' font-weight="normal" font-style="normal" fill="#1a1a1a" >Aug 28, 2021</text>
<text x="699.8" y="1369.3" font-size="37" font-family='"Liberation Serif", "Times New Roman", serif' fill="#1a1a1a">×</text>
<text x="723.7" y="1363.8" font-size="30.8" font-family='"Liberation Sans", Arial, sans-serif' fill="#1a1a1a">10</text>
<text x="758.1" y="1348.6" font-size="24.2" font-family='"Liberation Sans", Arial, sans-serif' fill="#1a1a1a">4</text>
<text transform="translate(630,1572.1) rotate(-90)" font-size="34.5" text-anchor="middle" font-family='"Liberation Sans", Arial, sans-serif' fill="#1a1a1a">Plasma density [cm<tspan dy="-16.5" font-size="27">-3</tspan><tspan dy="16.5">]</tspan></text>
<text x="718.2" y="1424.6" font-size="42.5" text-anchor="start" font-family='"Liberation Sans", Arial, sans-serif' font-weight="bold" font-style="normal" fill="#000" >h)</text>
<clipPath id="clipc"><rect x="1346.6" y="129.7" width="425.1" height="400.6"/></clipPath>
<g clip-path="url(#clipc)">
<polyline points="1346.8,143.6 1354.9,149.2 1363.6,151.7 1373.6,154.8 1382.3,159.2 1389.1,162.9 1394.7,164.2 1400.9,166 1409.6,170.4 1417.1,176 1425.8,180.9 1432,185.9 1440.7,190.9 1446.9,194 1454.4,199.6 1460.6,203.9 1465.5,207.7 1471.8,214.5 1476.7,218.8 1482.9,223.8 1489.2,230 1495.4,233.8 1502.8,240.6 1509,241.8 1514,245.6 1519,249.9 1522.1,250.5 1524,255.5 1526.5,263 1528.3,271.7 1529.6,281.6 1530.8,294 1532.7,299 1534.5,296.5 1535.8,378 1537.6,311.5 1538.9,280.4 1540.7,269.2 1542,266.7 1543.9,271.7 1546.3,286.6 1549.4,295.3 1553.7,283.4 1555.6,282.2 1558.7,293.4 1562.4,287.2 1566.2,292.2 1568.6,297.1 1571.8,292.2 1574.9,294.6 1577.3,290.9 1580.5,287.8 1583.6,301.5 1586,292.2 1589.2,291.5 1591,304.6 1593.5,335.7 1595.4,379.2 1596.6,415.2 1597.9,372.9 1599.1,329.4 1600.3,312 1603.4,309.6 1607.2,306.4 1610.9,312 1614.6,317 1617.7,315.8 1622.1,317 1627.7,316.4 1630.8,324.5 1633.9,354.3 1635.8,385.4 1637.4,407.1 1638.9,376.7 1642,380.4 1643.8,348.1 1647,323.2 1649.4,315.8 1655.7,316.4 1659.4,314.5 1663.7,317 1666.8,315.8 1668.1,309.6 1670,307.7 1673.7,308.9 1676.8,313.3 1680.5,324.5 1683.6,349.3 1686.7,345.6 1689.2,366.7 1691.7,353.1 1693.6,372.9 1695.2,420 1696,532 1696.8,420 1697.5,369.5 1699,372 1699.8,421.5 1701,391.6 1702.3,354.3 1704.1,350.6 1706.6,343.1 1710.3,341.2 1714.1,338.1 1717.8,343.1 1720.3,351.8 1722.2,391.6 1723.9,456.6 1725.9,391.6 1727.8,387.9 1729,359.3 1732.7,353.1 1737.7,352.4 1741.4,358 1745.2,370.5 1750.1,376.7 1753.9,385.4 1757,404 1758.8,416.5 1759.8,425.8 1761.3,404 1763.2,402.8 1764.4,405.3" fill="none" stroke="#f00" stroke-width="3.7" stroke-linejoin="round" stroke-linecap="butt" />
<polyline points="1346.8,217 1351.2,223.2 1357.4,230.7 1363.6,236.9 1372.3,241.2 1374.2,224.4 1376,217.6 1379.8,229.4 1383.5,239.4 1386,250.5 1392.2,258 1397.2,266.7 1400.9,269.2 1402.8,236.9 1404.6,228.2 1409.6,238.1 1414.6,249.3 1419.6,259.2 1425.8,266.7 1428.3,243.1 1429.5,236.9 1432.6,235.6 1436.3,240.6 1439.4,250.5 1443.8,267.3 1450.6,263 1453.1,243.1 1455,235 1458.1,235.6 1462.4,243.1 1466.8,254.3 1469.9,263 1476.7,268.6 1478.6,249.3 1479.8,241.8 1484.2,250.5 1487.9,261.7 1491,274.2 1494.1,290.3 1497.2,298.4 1500.3,284.1 1502.8,271.7 1504.7,263 1508.4,265.5 1511.5,276.6 1515.3,280.4 1519,275.4 1522.7,269.8 1526.5,270.4 1530.2,280.4 1533.3,290.3 1535.8,274.2 1537,260.5 1540.1,263 1543.9,266.1 1547,274.2 1550,279.7 1555,272.3 1559.3,278.5 1565.5,282.2 1568.6,292.2 1572.6,311.4 1576.1,293.4 1579.2,292.2 1584.2,300.2 1587.3,295.9 1594.1,291.5 1597.9,304.6 1602.2,308.3 1605.9,304.6 1609.7,300.9 1616.5,304.6 1619.6,314.5 1623.3,311.4 1628.3,310.8 1632,314.5 1634.5,321.4 1638.3,318.9 1644.5,323.2 1648.2,335.7 1651.9,325.7 1655.7,326.3 1659.4,338.1 1663.1,339.4 1666.2,328.2 1673.1,330.1 1680.5,333.2 1684.2,331.9 1690.5,332.5 1694.8,345.6 1697.9,341.9 1705.4,346.8 1709.1,345.6 1712.8,349.3 1716.6,358 1721.5,356.8 1726.5,356.2 1732.7,356.8 1737.7,359.9 1743.9,361.8 1751.4,364.9 1755.1,370.5 1760.1,377.9 1763.8,385.4" fill="none" stroke="#000" stroke-width="4.7" stroke-linejoin="round" stroke-linecap="butt" />
<polyline points="1346.5,278.5 1543.9,326.4 1764.5,419.1" fill="none" stroke="#000" stroke-width="9.3" stroke-linejoin="round" stroke-linecap="butt" />
<polyline points="1346.5,278.5 1543.9,326.4 1764.5,419.1" fill="none" stroke="#fff" stroke-width="7.3" stroke-linejoin="round" stroke-linecap="butt" />
<polyline points="1346.5,278.5 1543.9,326.4 1764.5,419.1" fill="none" stroke="#000" stroke-width="4.3" stroke-linejoin="round" stroke-linecap="butt" stroke-dasharray="15 15.5"/>
</g>
<circle cx="1543.9" cy="326.4" r="10" fill="#fff" stroke="#000" stroke-width="3.7"/>
<line x1="1346.6" y1="129" x2="1346.6" y2="531" stroke="#262626" stroke-width="1.4" />
<line x1="1346.6" y1="129.7" x2="1763.7" y2="129.7" stroke="#262626" stroke-width="1.4" />
<line x1="1346.6" y1="530.3" x2="1763.7" y2="530.3" stroke="#262626" stroke-width="1.4" />
<text x="1308.4" y="146.9" font-size="30.8" text-anchor="end" font-family='"Liberation Sans", Arial, sans-serif' fill="#1a1a1a">10</text>
<text x="1337" y="132.1" font-size="24.2" text-anchor="end" font-family='"Liberation Sans", Arial, sans-serif' fill="#1a1a1a">10</text>
<line x1="1346.6" y1="169.7" x2="1353.9" y2="169.7" stroke="#262626" stroke-width="1.3" />
<line x1="1346.6" y1="159.62" x2="1353.9" y2="159.62" stroke="#262626" stroke-width="1.3" />
<line x1="1346.6" y1="152.47" x2="1353.9" y2="152.47" stroke="#262626" stroke-width="1.3" />
<line x1="1346.6" y1="146.93" x2="1353.9" y2="146.93" stroke="#262626" stroke-width="1.3" />
<line x1="1346.6" y1="142.4" x2="1353.9" y2="142.4" stroke="#262626" stroke-width="1.3" />
<line x1="1346.6" y1="138.56" x2="1353.9" y2="138.56" stroke="#262626" stroke-width="1.3" />
<line x1="1346.6" y1="135.25" x2="1353.9" y2="135.25" stroke="#262626" stroke-width="1.3" />
<line x1="1346.6" y1="132.32" x2="1353.9" y2="132.32" stroke="#262626" stroke-width="1.3" />
<line x1="1346.6" y1="186.93" x2="1353.9" y2="186.93" stroke="#262626" stroke-width="1.4" />
<line x1="1346.6" y1="226.93" x2="1353.9" y2="226.93" stroke="#262626" stroke-width="1.3" />
<line x1="1346.6" y1="216.85" x2="1353.9" y2="216.85" stroke="#262626" stroke-width="1.3" />
<line x1="1346.6" y1="209.7" x2="1353.9" y2="209.7" stroke="#262626" stroke-width="1.3" />
<line x1="1346.6" y1="204.16" x2="1353.9" y2="204.16" stroke="#262626" stroke-width="1.3" />
<line x1="1346.6" y1="199.62" x2="1353.9" y2="199.62" stroke="#262626" stroke-width="1.3" />
<line x1="1346.6" y1="195.79" x2="1353.9" y2="195.79" stroke="#262626" stroke-width="1.3" />
<line x1="1346.6" y1="192.47" x2="1353.9" y2="192.47" stroke="#262626" stroke-width="1.3" />
<line x1="1346.6" y1="189.55" x2="1353.9" y2="189.55" stroke="#262626" stroke-width="1.3" />
<line x1="1346.6" y1="244.16" x2="1361.3" y2="244.16" stroke="#262626" stroke-width="1.4" />
<text x="1322.1" y="261.36" font-size="30.8" text-anchor="end" font-family='"Liberation Sans", Arial, sans-serif' fill="#1a1a1a">10</text>
<text x="1337" y="246.56" font-size="24.2" text-anchor="end" font-family='"Liberation Sans", Arial, sans-serif' fill="#1a1a1a">8</text>
<line x1="1346.6" y1="284.16" x2="1353.9" y2="284.16" stroke="#262626" stroke-width="1.3" />
<line x1="1346.6" y1="274.08" x2="1353.9" y2="274.08" stroke="#262626" stroke-width="1.3" />
<line x1="1346.6" y1="266.93" x2="1353.9" y2="266.93" stroke="#262626" stroke-width="1.3" />
<line x1="1346.6" y1="261.38" x2="1353.9" y2="261.38" stroke="#262626" stroke-width="1.3" />
<line x1="1346.6" y1="256.85" x2="1353.9" y2="256.85" stroke="#262626" stroke-width="1.3" />
<line x1="1346.6" y1="253.02" x2="1353.9" y2="253.02" stroke="#262626" stroke-width="1.3" />
<line x1="1346.6" y1="249.7" x2="1353.9" y2="249.7" stroke="#262626" stroke-width="1.3" />
<line x1="1346.6" y1="246.78" x2="1353.9" y2="246.78" stroke="#262626" stroke-width="1.3" />
<line x1="1346.6" y1="301.39" x2="1353.9" y2="301.39" stroke="#262626" stroke-width="1.4" />
<line x1="1346.6" y1="341.39" x2="1353.9" y2="341.39" stroke="#262626" stroke-width="1.3" />
<line x1="1346.6" y1="331.31" x2="1353.9" y2="331.31" stroke="#262626" stroke-width="1.3" />
<line x1="1346.6" y1="324.16" x2="1353.9" y2="324.16" stroke="#262626" stroke-width="1.3" />
<line x1="1346.6" y1="318.61" x2="1353.9" y2="318.61" stroke="#262626" stroke-width="1.3" />
<line x1="1346.6" y1="314.08" x2="1353.9" y2="314.08" stroke="#262626" stroke-width="1.3" />
<line x1="1346.6" y1="310.25" x2="1353.9" y2="310.25" stroke="#262626" stroke-width="1.3" />
<line x1="1346.6" y1="306.93" x2="1353.9" y2="306.93" stroke="#262626" stroke-width="1.3" />
<line x1="1346.6" y1="304" x2="1353.9" y2="304" stroke="#262626" stroke-width="1.3" />
<line x1="1346.6" y1="358.61" x2="1361.3" y2="358.61" stroke="#262626" stroke-width="1.4" />
<text x="1322.1" y="375.81" font-size="30.8" text-anchor="end" font-family='"Liberation Sans", Arial, sans-serif' fill="#1a1a1a">10</text>
<text x="1337" y="361.01" font-size="24.2" text-anchor="end" font-family='"Liberation Sans", Arial, sans-serif' fill="#1a1a1a">6</text>
<line x1="1346.6" y1="398.62" x2="1353.9" y2="398.62" stroke="#262626" stroke-width="1.3" />
<line x1="1346.6" y1="388.54" x2="1353.9" y2="388.54" stroke="#262626" stroke-width="1.3" />
<line x1="1346.6" y1="381.39" x2="1353.9" y2="381.39" stroke="#262626" stroke-width="1.3" />
<line x1="1346.6" y1="375.84" x2="1353.9" y2="375.84" stroke="#262626" stroke-width="1.3" />
<line x1="1346.6" y1="371.31" x2="1353.9" y2="371.31" stroke="#262626" stroke-width="1.3" />
<line x1="1346.6" y1="367.48" x2="1353.9" y2="367.48" stroke="#262626" stroke-width="1.3" />
<line x1="1346.6" y1="364.16" x2="1353.9" y2="364.16" stroke="#262626" stroke-width="1.3" />
<line x1="1346.6" y1="361.23" x2="1353.9" y2="361.23" stroke="#262626" stroke-width="1.3" />
<line x1="1346.6" y1="415.84" x2="1353.9" y2="415.84" stroke="#262626" stroke-width="1.4" />
<line x1="1346.6" y1="455.84" x2="1353.9" y2="455.84" stroke="#262626" stroke-width="1.3" />
<line x1="1346.6" y1="445.77" x2="1353.9" y2="445.77" stroke="#262626" stroke-width="1.3" />
<line x1="1346.6" y1="438.62" x2="1353.9" y2="438.62" stroke="#262626" stroke-width="1.3" />
<line x1="1346.6" y1="433.07" x2="1353.9" y2="433.07" stroke="#262626" stroke-width="1.3" />
<line x1="1346.6" y1="428.54" x2="1353.9" y2="428.54" stroke="#262626" stroke-width="1.3" />
<line x1="1346.6" y1="424.71" x2="1353.9" y2="424.71" stroke="#262626" stroke-width="1.3" />
<line x1="1346.6" y1="421.39" x2="1353.9" y2="421.39" stroke="#262626" stroke-width="1.3" />
<line x1="1346.6" y1="418.46" x2="1353.9" y2="418.46" stroke="#262626" stroke-width="1.3" />
<line x1="1346.6" y1="473.07" x2="1361.3" y2="473.07" stroke="#262626" stroke-width="1.4" />
<text x="1322.1" y="490.27" font-size="30.8" text-anchor="end" font-family='"Liberation Sans", Arial, sans-serif' fill="#1a1a1a">10</text>
<text x="1337" y="475.47" font-size="24.2" text-anchor="end" font-family='"Liberation Sans", Arial, sans-serif' fill="#1a1a1a">4</text>
<line x1="1346.6" y1="513.07" x2="1353.9" y2="513.07" stroke="#262626" stroke-width="1.3" />
<line x1="1346.6" y1="503" x2="1353.9" y2="503" stroke="#262626" stroke-width="1.3" />
<line x1="1346.6" y1="495.84" x2="1353.9" y2="495.84" stroke="#262626" stroke-width="1.3" />
<line x1="1346.6" y1="490.3" x2="1353.9" y2="490.3" stroke="#262626" stroke-width="1.3" />
<line x1="1346.6" y1="485.77" x2="1353.9" y2="485.77" stroke="#262626" stroke-width="1.3" />
<line x1="1346.6" y1="481.94" x2="1353.9" y2="481.94" stroke="#262626" stroke-width="1.3" />
<line x1="1346.6" y1="478.62" x2="1353.9" y2="478.62" stroke="#262626" stroke-width="1.3" />
<line x1="1346.6" y1="475.69" x2="1353.9" y2="475.69" stroke="#262626" stroke-width="1.3" />
<line x1="1373.21" y1="530.3" x2="1373.21" y2="523" stroke="#262626" stroke-width="1.3" />
<line x1="1415.74" y1="530.3" x2="1415.74" y2="523" stroke="#262626" stroke-width="1.3" />
<line x1="1448.73" y1="530.3" x2="1448.73" y2="523" stroke="#262626" stroke-width="1.3" />
<line x1="1475.68" y1="530.3" x2="1475.68" y2="523" stroke="#262626" stroke-width="1.3" />
<line x1="1498.47" y1="530.3" x2="1498.47" y2="523" stroke="#262626" stroke-width="1.3" />
<line x1="1518.21" y1="530.3" x2="1518.21" y2="523" stroke="#262626" stroke-width="1.3" />
<line x1="1535.62" y1="530.3" x2="1535.62" y2="523" stroke="#262626" stroke-width="1.3" />
<line x1="1653.67" y1="530.3" x2="1653.67" y2="523" stroke="#262626" stroke-width="1.3" />
<line x1="1713.61" y1="530.3" x2="1713.61" y2="523" stroke="#262626" stroke-width="1.3" />
<line x1="1756.14" y1="530.3" x2="1756.14" y2="523" stroke="#262626" stroke-width="1.3" />
<line x1="1551.2" y1="530.3" x2="1551.2" y2="515.6" stroke="#262626" stroke-width="1.4" />
<line x1="1413.02" y1="129.7" x2="1413.02" y2="144.4" stroke="#262626" stroke-width="1.4" />
<text x="1413.82" y="112.6" font-size="30.8" text-anchor="middle" font-family='"Liberation Sans", Arial, sans-serif' font-weight="normal" font-style="normal" fill="#1a1a1a" >16</text>
<line x1="1515.49" y1="129.7" x2="1515.49" y2="144.4" stroke="#262626" stroke-width="1.4" />
<text x="1516.29" y="112.6" font-size="30.8" text-anchor="middle" font-family='"Liberation Sans", Arial, sans-serif' font-weight="normal" font-style="normal" fill="#1a1a1a" >8</text>
<line x1="1617.96" y1="129.7" x2="1617.96" y2="144.4" stroke="#262626" stroke-width="1.4" />
<text x="1618.76" y="112.6" font-size="30.8" text-anchor="middle" font-family='"Liberation Sans", Arial, sans-serif' font-weight="normal" font-style="normal" fill="#1a1a1a" >4</text>
<line x1="1720.43" y1="129.7" x2="1720.43" y2="144.4" stroke="#262626" stroke-width="1.4" />
<text x="1721.23" y="112.6" font-size="30.8" text-anchor="middle" font-family='"Liberation Sans", Arial, sans-serif' font-weight="normal" font-style="normal" fill="#1a1a1a" >2</text>
<text x="1523.6" y="580" font-size="30.8" font-family='"Liberation Sans", Arial, sans-serif' fill="#1a1a1a">10<tspan dy="-14.2" dx="1.6" font-size="24.2">-3</tspan></text>
<text x="1351.2" y="583.7" font-size="42.5" text-anchor="start" font-family='"Liberation Sans", Arial, sans-serif' font-weight="bold" font-style="normal" fill="#000" >c)</text>
<text x="1470.5" y="618.5" font-size="33" font-family='"Liberation Serif", "Times New Roman", serif' fill="#1a1a1a" textLength="169" lengthAdjust="spacingAndGlyphs"><tspan font-style="italic">k</tspan> [rad m<tspan dy="-12.5" font-size="23">−1</tspan><tspan dy="12.5">]</tspan></text>
<text x="1507.1" y="69" font-size="33" font-family='"Liberation Serif", "Times New Roman", serif' fill="#1a1a1a" textLength="93" lengthAdjust="spacingAndGlyphs"><tspan font-style="italic">r</tspan> [km]</text>
<text transform="translate(1254.8,331.9) rotate(-90)" font-size="35.5" font-family='"Liberation Serif", "Times New Roman", serif' fill="#1a1a1a"><tspan x="-88.9" font-style="italic">P</tspan><tspan x="-61.5">(</tspan><tspan x="-47.9" font-style="italic">k</tspan><tspan x="-29.5">)</tspan><tspan x="-3.5">[</tspan><tspan x="8.7" font-size="30" textLength="69" lengthAdjust="spacingAndGlyphs">m/rad</tspan><tspan x="80.5">]</tspan></text>
<line x1="1528" y1="183" x2="1606" y2="183" stroke="#f00" stroke-width="3.7" />
<text x="1612.6" y="171.9" font-size="28.5" font-family='"Liberation Serif", "Times New Roman", serif' fill="#111" textLength="126" lengthAdjust="spacingAndGlyphs">Clustering</text>
<text x="1612.6" y="206.3" font-size="28.5" font-family='"Liberation Serif", "Times New Roman", serif' fill="#111" textLength="113.3" lengthAdjust="spacingAndGlyphs">spectrum</text>
<line x1="1371.3" y1="414.3" x2="1450.2" y2="414.3" stroke="#000" stroke-width="4.7" />
<text x="1456.8" y="400.4" font-size="28.5" font-family='"Liberation Serif", "Times New Roman", serif' fill="#111" textLength="91.1" lengthAdjust="spacingAndGlyphs">Density</text>
<text x="1456.8" y="434.2" font-size="28.5" font-family='"Liberation Serif", "Times New Roman", serif' fill="#111" textLength="113.3" lengthAdjust="spacingAndGlyphs">spectrum</text>
<text x="1456.8" y="465.7" font-size="30" font-style="italic" font-family='"Liberation Serif", "Times New Roman", serif' fill="#111" textLength="16" lengthAdjust="spacingAndGlyphs">α</text>
<text x="1475.1" y="469.3" font-size="20" font-family='"Liberation Serif", "Times New Roman", serif' fill="#111">1</text>
<text x="1495.9" y="465.7" font-size="28.5" font-family='"Liberation Serif", "Times New Roman", serif' fill="#111" textLength="19" lengthAdjust="spacingAndGlyphs">=</text>
<text x="1525.7" y="465.7" font-size="28.5" font-family='"Liberation Serif", "Times New Roman", serif' fill="#111" textLength="51.8" lengthAdjust="spacingAndGlyphs">-1.5,</text>
<line x1="1371.3" y1="478" x2="1450.2" y2="478" stroke="#000" stroke-width="5" stroke-dasharray="16 15.6"/>
<text x="1466.8" y="498.8" font-size="30" font-style="italic" font-family='"Liberation Serif", "Times New Roman", serif' fill="#111" textLength="16" lengthAdjust="spacingAndGlyphs">α</text>
<text x="1485.1" y="502.4" font-size="20" font-family='"Liberation Serif", "Times New Roman", serif' fill="#111">2</text>
<text x="1505.9" y="498.8" font-size="28.5" font-family='"Liberation Serif", "Times New Roman", serif' fill="#111" textLength="19" lengthAdjust="spacingAndGlyphs">=</text>
<text x="1535.7" y="498.8" font-size="28.5" font-family='"Liberation Serif", "Times New Roman", serif' fill="#111" textLength="51.8" lengthAdjust="spacingAndGlyphs">-2.5,</text>
<clipPath id="clipf"><rect x="1346.6" y="744.7" width="425.1" height="401.2"/></clipPath>
<g clip-path="url(#clipf)">
<polyline points="1346.8,747.5 1354.9,748.7 1361.1,753.7 1368.6,757.4 1378.5,763 1383.5,766.7 1389.7,770.5 1394.7,774.2 1399.7,776 1407.1,780.4 1414.6,784.7 1418.3,787.9 1422.7,789.7 1427,795.3 1432,800.3 1437,806.5 1441.9,809.6 1446.9,814 1449.4,811.5 1453.1,813.3 1456.2,814 1462.4,817.1 1465.5,821.4 1469.3,823.9 1472.4,830.1 1475.5,831.4 1479.2,838.2 1482.9,842.5 1485.4,846.3 1488.5,845.7 1491,849.4 1493.5,850 1496,856.8 1498.5,858.7 1501.6,863.1 1504.1,864.3 1506.6,871.1 1509,874.2 1510.3,879.2 1512.2,868.7 1514,870.5 1514.6,876.7 1517.1,876.1 1520.2,881.1 1523.3,883.6 1524.6,889.2 1525.6,894.1 1527.1,940.7 1529.2,928 1531.3,936.5 1533,922.4 1534.8,991.6 1537.7,994.4 1540.5,950.6 1542.3,921 1544.7,964.7 1546.8,1001.5 1548.2,950.6 1549.7,1024.8 1551.8,953.4 1554.6,936.5 1557,947.8 1558.8,943.6 1561,1000.1 1563.1,959.1 1565.2,1034 1567.3,952 1569.4,959.1 1571.1,1018.4 1573,964.7 1574.8,1032.5 1576.5,964.7 1577.9,913.9 1580,913.2 1582.1,918.1 1584.3,926.6 1586.4,952 1589.2,932.3 1591.3,947.8 1593.2,1031.1 1595.6,950.6 1597,1021.2 1599.8,936.5 1601.9,954.9 1605.5,960.5 1608.3,978.9 1610.4,1086.9 1611.8,967.6 1613.9,1024.1 1616,964.7 1618.9,953.4 1621.7,947.8 1624.5,928 1628.8,923.8 1632.3,921.7 1635.8,926.6 1640.1,918.1 1644.3,922.4 1647.8,921 1650.6,930.8 1657,929.4 1662.7,930.8 1669.7,932.3 1675.4,933.7 1678.9,942.1 1683.8,943.6 1689.5,953.4 1693,978.9 1694.4,1108.8 1696.6,1049.5 1698.2,1021.2 1700.5,1053.7 1702.2,1021.2 1705,978.9 1707.9,956.3 1713.5,952.7 1717.7,959.1 1720.6,978.9 1723.4,1072.1 1725.5,978.9 1729,961.9 1733.3,959.1 1737.5,970.4 1741.8,973.2 1744.6,970.4 1748.8,984.5 1753.1,993 1757.3,1001.5 1763.6,1006.7" fill="none" stroke="#f00" stroke-width="3.7" stroke-linejoin="round" stroke-linecap="butt" />
<polyline points="1346.8,885.4 1350.6,879.2 1354.3,876.1 1358.6,878 1363.6,880.5 1368.6,879.2 1372.3,880.5 1376,879.2 1382.3,883.6 1386,892.3 1389.7,895.4 1392.8,891.6 1396.6,880.5 1400.9,874.9 1404.6,873.6 1407.7,874.2 1411.5,878 1414.6,876.7 1418.9,872.4 1422,865.5 1425.8,862.4 1429.5,864.3 1433.8,868.7 1437.6,873 1440.1,873 1443.2,865.5 1446.9,861.2 1450.6,861.2 1455.6,866.8 1461.8,871.1 1468,876.1 1471.8,884.2 1476.1,894.1 1480.5,887.3 1484.2,882.9 1487.3,882.3 1490.4,885.4 1494.1,897.9 1497.9,915.3 1504.7,922.7 1507.2,910.3 1509.7,899.1 1512.2,891 1515.3,891 1519,902.8 1522.7,913.4 1526.5,911.5 1530.2,905.3 1533.3,899.1 1536.4,899.1 1540.1,909.7 1543.9,910.9 1546.3,922.7 1548.8,929.6 1551.3,926.5 1555,914.6 1561,916.4 1566.6,915.3 1573,915 1579.3,917.4 1584.3,930.8 1586.4,918.8 1590.6,916.4 1594.9,923.8 1599.1,935.1 1604.7,928 1610.4,940.7 1616,945.7 1619.6,928.7 1623.1,936.5 1627.3,944.3 1633,933.7 1637.2,935.8 1642.9,939.3 1648.5,946.4 1652.8,937.9 1659.1,943.6 1665.5,938.6 1671.8,934.4 1676.8,932.3 1681,926.6 1684.5,925.2 1689.5,928 1693,933.7 1695.8,945 1700.1,951.3 1705,957.7 1709.3,970.4 1713.5,960.5 1717.7,953.4 1723.4,947.8 1728.3,952 1732.6,961.9 1736.1,973.2 1738.9,981.7 1743.2,988.1 1748.8,989.5 1751.6,987.3 1755.9,991.6 1760.1,995.1 1763.6,994.4" fill="none" stroke="#000" stroke-width="4.7" stroke-linejoin="round" stroke-linecap="butt" />
<polyline points="1346.5,923.3 1695.1,1002.8 1764.5,1053" fill="none" stroke="#000" stroke-width="9.3" stroke-linejoin="round" stroke-linecap="butt" />
<polyline points="1346.5,923.3 1695.1,1002.8 1764.5,1053" fill="none" stroke="#fff" stroke-width="7.3" stroke-linejoin="round" stroke-linecap="butt" />
<polyline points="1346.5,923.3 1695.1,1002.8 1764.5,1053" fill="none" stroke="#000" stroke-width="4.3" stroke-linejoin="round" stroke-linecap="butt" stroke-dasharray="15 15.5"/>
</g>
<circle cx="1695.1" cy="1002.8" r="10" fill="#fff" stroke="#000" stroke-width="3.7"/>
<line x1="1346.6" y1="744" x2="1346.6" y2="1146.6" stroke="#262626" stroke-width="1.4" />
<line x1="1346.6" y1="744.7" x2="1763.7" y2="744.7" stroke="#262626" stroke-width="1.4" />
<line x1="1346.6" y1="1145.9" x2="1763.7" y2="1145.9" stroke="#262626" stroke-width="1.4" />
<line x1="1346.6" y1="784.76" x2="1353.9" y2="784.76" stroke="#262626" stroke-width="1.3" />
<line x1="1346.6" y1="774.67" x2="1353.9" y2="774.67" stroke="#262626" stroke-width="1.3" />
<line x1="1346.6" y1="767.51" x2="1353.9" y2="767.51" stroke="#262626" stroke-width="1.3" />
<line x1="1346.6" y1="761.95" x2="1353.9" y2="761.95" stroke="#262626" stroke-width="1.3" />
<line x1="1346.6" y1="757.42" x2="1353.9" y2="757.42" stroke="#262626" stroke-width="1.3" />
<line x1="1346.6" y1="753.58" x2="1353.9" y2="753.58" stroke="#262626" stroke-width="1.3" />
<line x1="1346.6" y1="750.25" x2="1353.9" y2="750.25" stroke="#262626" stroke-width="1.3" />
<line x1="1346.6" y1="747.32" x2="1353.9" y2="747.32" stroke="#262626" stroke-width="1.3" />
<line x1="1346.6" y1="802.01" x2="1361.3" y2="802.01" stroke="#262626" stroke-width="1.4" />
<text x="1322.1" y="819.21" font-size="30.8" text-anchor="end" font-family='"Liberation Sans", Arial, sans-serif' fill="#1a1a1a">10</text>
<text x="1337" y="804.41" font-size="24.2" text-anchor="end" font-family='"Liberation Sans", Arial, sans-serif' fill="#1a1a1a">8</text>
<line x1="1346.6" y1="842.08" x2="1353.9" y2="842.08" stroke="#262626" stroke-width="1.3" />
<line x1="1346.6" y1="831.98" x2="1353.9" y2="831.98" stroke="#262626" stroke-width="1.3" />
<line x1="1346.6" y1="824.82" x2="1353.9" y2="824.82" stroke="#262626" stroke-width="1.3" />
<line x1="1346.6" y1="819.27" x2="1353.9" y2="819.27" stroke="#262626" stroke-width="1.3" />
<line x1="1346.6" y1="814.73" x2="1353.9" y2="814.73" stroke="#262626" stroke-width="1.3" />
<line x1="1346.6" y1="810.89" x2="1353.9" y2="810.89" stroke="#262626" stroke-width="1.3" />
<line x1="1346.6" y1="807.57" x2="1353.9" y2="807.57" stroke="#262626" stroke-width="1.3" />
<line x1="1346.6" y1="804.64" x2="1353.9" y2="804.64" stroke="#262626" stroke-width="1.3" />
<line x1="1346.6" y1="859.33" x2="1353.9" y2="859.33" stroke="#262626" stroke-width="1.4" />
<line x1="1346.6" y1="899.39" x2="1353.9" y2="899.39" stroke="#262626" stroke-width="1.3" />
<line x1="1346.6" y1="889.3" x2="1353.9" y2="889.3" stroke="#262626" stroke-width="1.3" />
<line x1="1346.6" y1="882.14" x2="1353.9" y2="882.14" stroke="#262626" stroke-width="1.3" />
<line x1="1346.6" y1="876.58" x2="1353.9" y2="876.58" stroke="#262626" stroke-width="1.3" />
<line x1="1346.6" y1="872.04" x2="1353.9" y2="872.04" stroke="#262626" stroke-width="1.3" />
<line x1="1346.6" y1="868.21" x2="1353.9" y2="868.21" stroke="#262626" stroke-width="1.3" />
<line x1="1346.6" y1="864.88" x2="1353.9" y2="864.88" stroke="#262626" stroke-width="1.3" />
<line x1="1346.6" y1="861.95" x2="1353.9" y2="861.95" stroke="#262626" stroke-width="1.3" />
<line x1="1346.6" y1="916.64" x2="1361.3" y2="916.64" stroke="#262626" stroke-width="1.4" />
<text x="1322.1" y="933.84" font-size="30.8" text-anchor="end" font-family='"Liberation Sans", Arial, sans-serif' fill="#1a1a1a">10</text>
<text x="1337" y="919.04" font-size="24.2" text-anchor="end" font-family='"Liberation Sans", Arial, sans-serif' fill="#1a1a1a">6</text>
<line x1="1346.6" y1="956.7" x2="1353.9" y2="956.7" stroke="#262626" stroke-width="1.3" />
<line x1="1346.6" y1="946.61" x2="1353.9" y2="946.61" stroke="#262626" stroke-width="1.3" />
<line x1="1346.6" y1="939.45" x2="1353.9" y2="939.45" stroke="#262626" stroke-width="1.3" />
<line x1="1346.6" y1="933.9" x2="1353.9" y2="933.9" stroke="#262626" stroke-width="1.3" />
<line x1="1346.6" y1="929.36" x2="1353.9" y2="929.36" stroke="#262626" stroke-width="1.3" />
<line x1="1346.6" y1="925.52" x2="1353.9" y2="925.52" stroke="#262626" stroke-width="1.3" />
<line x1="1346.6" y1="922.2" x2="1353.9" y2="922.2" stroke="#262626" stroke-width="1.3" />
<line x1="1346.6" y1="919.27" x2="1353.9" y2="919.27" stroke="#262626" stroke-width="1.3" />
<line x1="1346.6" y1="973.96" x2="1353.9" y2="973.96" stroke="#262626" stroke-width="1.4" />
<line x1="1346.6" y1="1014.02" x2="1353.9" y2="1014.02" stroke="#262626" stroke-width="1.3" />
<line x1="1346.6" y1="1003.93" x2="1353.9" y2="1003.93" stroke="#262626" stroke-width="1.3" />
<line x1="1346.6" y1="996.76" x2="1353.9" y2="996.76" stroke="#262626" stroke-width="1.3" />
<line x1="1346.6" y1="991.21" x2="1353.9" y2="991.21" stroke="#262626" stroke-width="1.3" />
<line x1="1346.6" y1="986.67" x2="1353.9" y2="986.67" stroke="#262626" stroke-width="1.3" />
<line x1="1346.6" y1="982.84" x2="1353.9" y2="982.84" stroke="#262626" stroke-width="1.3" />
<line x1="1346.6" y1="979.51" x2="1353.9" y2="979.51" stroke="#262626" stroke-width="1.3" />
<line x1="1346.6" y1="976.58" x2="1353.9" y2="976.58" stroke="#262626" stroke-width="1.3" />
<line x1="1346.6" y1="1031.27" x2="1361.3" y2="1031.27" stroke="#262626" stroke-width="1.4" />
<text x="1322.1" y="1048.47" font-size="30.8" text-anchor="end" font-family='"Liberation Sans", Arial, sans-serif' fill="#1a1a1a">10</text>
<text x="1337" y="1033.67" font-size="24.2" text-anchor="end" font-family='"Liberation Sans", Arial, sans-serif' fill="#1a1a1a">4</text>
<line x1="1346.6" y1="1071.33" x2="1353.9" y2="1071.33" stroke="#262626" stroke-width="1.3" />
<line x1="1346.6" y1="1061.24" x2="1353.9" y2="1061.24" stroke="#262626" stroke-width="1.3" />
<line x1="1346.6" y1="1054.08" x2="1353.9" y2="1054.08" stroke="#262626" stroke-width="1.3" />
<line x1="1346.6" y1="1048.52" x2="1353.9" y2="1048.52" stroke="#262626" stroke-width="1.3" />
<line x1="1346.6" y1="1043.99" x2="1353.9" y2="1043.99" stroke="#262626" stroke-width="1.3" />
<line x1="1346.6" y1="1040.15" x2="1353.9" y2="1040.15" stroke="#262626" stroke-width="1.3" />
<line x1="1346.6" y1="1036.83" x2="1353.9" y2="1036.83" stroke="#262626" stroke-width="1.3" />
<line x1="1346.6" y1="1033.89" x2="1353.9" y2="1033.89" stroke="#262626" stroke-width="1.3" />
<line x1="1346.6" y1="1088.59" x2="1353.9" y2="1088.59" stroke="#262626" stroke-width="1.4" />
<line x1="1346.6" y1="1128.65" x2="1353.9" y2="1128.65" stroke="#262626" stroke-width="1.3" />
<line x1="1346.6" y1="1118.55" x2="1353.9" y2="1118.55" stroke="#262626" stroke-width="1.3" />
<line x1="1346.6" y1="1111.39" x2="1353.9" y2="1111.39" stroke="#262626" stroke-width="1.3" />
<line x1="1346.6" y1="1105.84" x2="1353.9" y2="1105.84" stroke="#262626" stroke-width="1.3" />
<line x1="1346.6" y1="1101.3" x2="1353.9" y2="1101.3" stroke="#262626" stroke-width="1.3" />
<line x1="1346.6" y1="1097.46" x2="1353.9" y2="1097.46" stroke="#262626" stroke-width="1.3" />
<line x1="1346.6" y1="1094.14" x2="1353.9" y2="1094.14" stroke="#262626" stroke-width="1.3" />
<line x1="1346.6" y1="1091.21" x2="1353.9" y2="1091.21" stroke="#262626" stroke-width="1.3" />
<text x="1322.1" y="1163.1" font-size="30.8" text-anchor="end" font-family='"Liberation Sans", Arial, sans-serif' fill="#1a1a1a">10</text>
<text x="1337" y="1148.3" font-size="24.2" text-anchor="end" font-family='"Liberation Sans", Arial, sans-serif' fill="#1a1a1a">2</text>
<line x1="1373.21" y1="1145.9" x2="1373.21" y2="1138.6" stroke="#262626" stroke-width="1.3" />
<line x1="1415.74" y1="1145.9" x2="1415.74" y2="1138.6" stroke="#262626" stroke-width="1.3" />
<line x1="1448.73" y1="1145.9" x2="1448.73" y2="1138.6" stroke="#262626" stroke-width="1.3" />
<line x1="1475.68" y1="1145.9" x2="1475.68" y2="1138.6" stroke="#262626" stroke-width="1.3" />
<line x1="1498.47" y1="1145.9" x2="1498.47" y2="1138.6" stroke="#262626" stroke-width="1.3" />
<line x1="1518.21" y1="1145.9" x2="1518.21" y2="1138.6" stroke="#262626" stroke-width="1.3" />
<line x1="1535.62" y1="1145.9" x2="1535.62" y2="1138.6" stroke="#262626" stroke-width="1.3" />
<line x1="1653.67" y1="1145.9" x2="1653.67" y2="1138.6" stroke="#262626" stroke-width="1.3" />
<line x1="1713.61" y1="1145.9" x2="1713.61" y2="1138.6" stroke="#262626" stroke-width="1.3" />
<line x1="1756.14" y1="1145.9" x2="1756.14" y2="1138.6" stroke="#262626" stroke-width="1.3" />
<line x1="1551.2" y1="1145.9" x2="1551.2" y2="1131.2" stroke="#262626" stroke-width="1.4" />
<line x1="1413.02" y1="744.7" x2="1413.02" y2="759.4" stroke="#262626" stroke-width="1.4" />
<text x="1413.82" y="727.6" font-size="30.8" text-anchor="middle" font-family='"Liberation Sans", Arial, sans-serif' font-weight="normal" font-style="normal" fill="#1a1a1a" >16</text>
<line x1="1515.49" y1="744.7" x2="1515.49" y2="759.4" stroke="#262626" stroke-width="1.4" />
<text x="1516.29" y="727.6" font-size="30.8" text-anchor="middle" font-family='"Liberation Sans", Arial, sans-serif' font-weight="normal" font-style="normal" fill="#1a1a1a" >8</text>
<line x1="1617.96" y1="744.7" x2="1617.96" y2="759.4" stroke="#262626" stroke-width="1.4" />
<text x="1618.76" y="727.6" font-size="30.8" text-anchor="middle" font-family='"Liberation Sans", Arial, sans-serif' font-weight="normal" font-style="normal" fill="#1a1a1a" >4</text>
<line x1="1720.43" y1="744.7" x2="1720.43" y2="759.4" stroke="#262626" stroke-width="1.4" />
<text x="1721.23" y="727.6" font-size="30.8" text-anchor="middle" font-family='"Liberation Sans", Arial, sans-serif' font-weight="normal" font-style="normal" fill="#1a1a1a" >2</text>
<text x="1523.6" y="1195.6" font-size="30.8" font-family='"Liberation Sans", Arial, sans-serif' fill="#1a1a1a">10<tspan dy="-14.2" dx="1.6" font-size="24.2">-3</tspan></text>
<text x="1351.2" y="1199.3" font-size="42.5" text-anchor="start" font-family='"Liberation Sans", Arial, sans-serif' font-weight="bold" font-style="normal" fill="#000" >f)</text>
<text x="1470.5" y="1234.1" font-size="33" font-family='"Liberation Serif", "Times New Roman", serif' fill="#1a1a1a" textLength="169" lengthAdjust="spacingAndGlyphs"><tspan font-style="italic">k</tspan> [rad m<tspan dy="-12.5" font-size="23">−1</tspan><tspan dy="12.5">]</tspan></text>
<text x="1507.1" y="684" font-size="33" font-family='"Liberation Serif", "Times New Roman", serif' fill="#1a1a1a" textLength="93" lengthAdjust="spacingAndGlyphs"><tspan font-style="italic">r</tspan> [km]</text>
<text transform="translate(1270.5,947.2) rotate(-90)" font-size="35.5" font-family='"Liberation Serif", "Times New Roman", serif' fill="#1a1a1a"><tspan x="-88.9" font-style="italic">P</tspan><tspan x="-61.5">(</tspan><tspan x="-47.9" font-style="italic">k</tspan><tspan x="-29.5">)</tspan><tspan x="-3.5">[</tspan><tspan x="8.7" font-size="30" textLength="69" lengthAdjust="spacingAndGlyphs">m/rad</tspan><tspan x="80.5">]</tspan></text>
<line x1="1528" y1="798" x2="1606" y2="798" stroke="#f00" stroke-width="3.7" />
<text x="1612.6" y="786.9" font-size="28.5" font-family='"Liberation Serif", "Times New Roman", serif' fill="#111" textLength="126" lengthAdjust="spacingAndGlyphs">Clustering</text>
<text x="1612.6" y="821.3" font-size="28.5" font-family='"Liberation Serif", "Times New Roman", serif' fill="#111" textLength="113.3" lengthAdjust="spacingAndGlyphs">spectrum</text>
<line x1="1371.3" y1="1029.3" x2="1450.2" y2="1029.3" stroke="#000" stroke-width="4.7" />
<text x="1456.8" y="1015.4" font-size="28.5" font-family='"Liberation Serif", "Times New Roman", serif' fill="#111" textLength="91.1" lengthAdjust="spacingAndGlyphs">Density</text>
<text x="1456.8" y="1049.2" font-size="28.5" font-family='"Liberation Serif", "Times New Roman", serif' fill="#111" textLength="113.3" lengthAdjust="spacingAndGlyphs">spectrum</text>
<text x="1456.8" y="1080.7" font-size="30" font-style="italic" font-family='"Liberation Serif", "Times New Roman", serif' fill="#111" textLength="16" lengthAdjust="spacingAndGlyphs">α</text>
<text x="1475.1" y="1084.3" font-size="20" font-family='"Liberation Serif", "Times New Roman", serif' fill="#111">1</text>
<text x="1495.9" y="1080.7" font-size="28.5" font-family='"Liberation Serif", "Times New Roman", serif' fill="#111" textLength="19" lengthAdjust="spacingAndGlyphs">=</text>
<text x="1525.7" y="1080.7" font-size="28.5" font-family='"Liberation Serif", "Times New Roman", serif' fill="#111" textLength="51.8" lengthAdjust="spacingAndGlyphs">-1.4,</text>
<line x1="1371.3" y1="1093" x2="1450.2" y2="1093" stroke="#000" stroke-width="5" stroke-dasharray="16 15.6"/>
<text x="1466.8" y="1113.8" font-size="30" font-style="italic" font-family='"Liberation Serif", "Times New Roman", serif' fill="#111" textLength="16" lengthAdjust="spacingAndGlyphs">α</text>
<text x="1485.1" y="1117.4" font-size="20" font-family='"Liberation Serif", "Times New Roman", serif' fill="#111">2</text>
<text x="1505.9" y="1113.8" font-size="28.5" font-family='"Liberation Serif", "Times New Roman", serif' fill="#111" textLength="19" lengthAdjust="spacingAndGlyphs">=</text>
<text x="1535.7" y="1113.8" font-size="28.5" font-family='"Liberation Serif", "Times New Roman", serif' fill="#111" textLength="51.8" lengthAdjust="spacingAndGlyphs">-4.4,</text>
<clipPath id="clipi"><rect x="1346.6" y="1367.7" width="425.1" height="400.9"/></clipPath>
<g clip-path="url(#clipi)">
<polyline points="1346.8,1411.8 1351.2,1411.8 1356.2,1414.3 1361.1,1417.4 1366.7,1419.9 1372.3,1424.2 1377.3,1428.6 1382.3,1433.6 1387.2,1438.5 1392.2,1445.4 1397.2,1451.6 1401.5,1455.3 1407.1,1457.2 1411.5,1458.4 1414.6,1457.2 1418.9,1458.4 1422.7,1460.3 1425.8,1459 1431.4,1460.3 1433.8,1458.4 1438.2,1461.5 1441.9,1461.5 1445,1469 1449.4,1474.6 1453.1,1478.3 1456.8,1478.3 1460.6,1475.2 1464.3,1475.8 1468,1474 1471.1,1477.7 1474.2,1480.8 1478,1489.5 1480.5,1497 1482.9,1502.5 1486.7,1505.7 1489.8,1504.4 1492.3,1506.9 1494.8,1505 1497.2,1509.4 1499.7,1503.2 1502.8,1499.4 1505.3,1494.5 1507.8,1492.6 1512.2,1495.1 1515.3,1500.1 1517.8,1498.2 1521.5,1497 1525.8,1498.2 1528.9,1503.2 1532,1511.9 1535.2,1528 1537.6,1549.2 1539.5,1586.5 1541.3,1673.5 1543.9,1567.8 1545.1,1549.2 1547,1540.5 1549.7,1536.4 1553,1541.6 1556.2,1550.7 1559.5,1555.9 1562.7,1559.8 1566,1572.8 1567.9,1580.6 1570.5,1570.2 1573.8,1558.5 1577.7,1553.9 1580.3,1561.1 1582.9,1572.8 1584.8,1592.3 1586.8,1588.4 1588.7,1642.9 1590,1684.5 1591.3,1629.9 1592.6,1578 1594.6,1563.7 1596.5,1562.4 1598.5,1570.2 1599.8,1616.9 1600.8,1680 1602.4,1591 1604.3,1589.7 1606.9,1668.9 1608.9,1657.2 1610.8,1616.9 1612.8,1591 1615.4,1567.6 1618,1566.3 1619.9,1578 1621.2,1629.9 1622.5,1704 1623.4,1715.7 1624.5,1688.4 1625.8,1616.9 1628.4,1578 1631,1575.4 1633.6,1580.6 1636.2,1570.8 1638.1,1583.2 1640.1,1629.9 1641.4,1663.1 1643.3,1604 1645.2,1596.8 1647.2,1598.8 1649.1,1580.6 1651.7,1575.4 1655,1579.3 1658.2,1581.9 1662.1,1589 1665.4,1579.3 1668.6,1567.6 1672.5,1565.6 1675.1,1572.8 1677.7,1591 1679.5,1600.2 1680.5,1620.5 1681,1715.9 1682.5,1691.6 1684,1630.6 1685,1691.6 1686.6,1718.5 1687.6,1650.9 1689.1,1614.4 1690.1,1661.1 1691.1,1726.1 1692.7,1691.6 1693.7,1636.7 1694.7,1770.3 1696.2,1691.6 1696.7,1634.7 1698.2,1701.7 1699.8,1630.6 1701.3,1629.6 1702.3,1650.9 1703.3,1770.3 1704.8,1691.6 1705.9,1648.9 1707.9,1648.9 1708.9,1753.5 1710.4,1742.3 1710.9,1661.1 1711.9,1638.7 1715,1636.7 1717,1640.8 1718.5,1630.6 1720.1,1622.5 1721.1,1661.1 1721.9,1709.8 1723.1,1671.2 1724.6,1640.8 1726.2,1628.6 1729.2,1623.5 1731.2,1622.5 1732.8,1627.6 1734.3,1625 1736.3,1630.6 1737.8,1625.5 1739.9,1630.6 1741.4,1625.5 1743.4,1632.7 1745.5,1628.6 1747.5,1634.7 1750,1630.6 1752.1,1629.1 1754.6,1632.7 1757.1,1642.8 1758.7,1666.2 1760.2,1680.4 1761.7,1669.2 1763.2,1660.1 1764.2,1661.1" fill="none" stroke="#f00" stroke-width="3.7" stroke-linejoin="round" stroke-linecap="butt" />
<polyline points="1346.8,1500.7 1351.2,1510.6 1356.2,1524.3 1359.9,1527.4 1363.6,1519.3 1367.3,1511.9 1371.1,1510.6 1376,1515.6 1382.3,1521.2 1389.7,1528 1393.4,1528 1397.2,1529.9 1400.9,1532.4 1404.6,1531.1 1407.7,1525.5 1411.5,1522.4 1414.6,1520 1419.6,1522.4 1422.7,1528 1425.8,1533.6 1428.9,1534.2 1433.2,1528 1438.2,1521.8 1443.2,1519.3 1446.9,1521.8 1450,1529.3 1453.1,1532.4 1457.5,1534.2 1461.8,1531.1 1465.5,1527.4 1469.3,1525.5 1474.2,1531.8 1478.6,1540.5 1482.9,1544.8 1487.9,1539.2 1491,1533.6 1494.1,1531.8 1497.9,1536.7 1501.6,1539.8 1505.3,1551.6 1509,1559.1 1512.2,1557.9 1515.3,1550.4 1519,1544.8 1522.7,1542.3 1528.9,1542.3 1533.9,1546.1 1538.9,1551 1543.9,1554.8 1548.8,1561.6 1551.3,1562.8 1555,1567.2 1560,1559.7 1563.4,1559.1 1566.6,1565 1569.9,1572.8 1575.1,1578 1580.3,1577.3 1584.8,1580.6 1588.7,1578.6 1592,1574.1 1595.9,1576.7 1601.1,1582.5 1606.3,1581.2 1610.8,1587.1 1615.4,1594.9 1619.3,1597.5 1624.5,1592.3 1629.7,1593.6 1633.6,1600.1 1638.1,1605.9 1644,1607.2 1649.8,1605.9 1652.4,1610.4 1655,1618.2 1658.2,1614.3 1662.1,1615 1666.7,1610.4 1671.2,1611.1 1676.4,1611.1 1680.3,1615.6 1686.8,1620.2 1692.7,1620.8 1698.5,1617.6 1705,1618.9 1708.9,1628.6 1712.2,1623.4 1716.7,1629.9 1720,1635.1 1723.2,1629.3 1728.4,1633.2 1734.9,1637.1 1740.8,1640.3 1745.3,1639 1748.5,1645.5 1752.4,1642.9 1756.3,1642.9 1760.9,1646.8 1764.1,1648.1" fill="none" stroke="#000" stroke-width="4.7" stroke-linejoin="round" stroke-linecap="butt" />
<polyline points="1346.5,1573.4 1469,1588.3 1764.5,1703" fill="none" stroke="#000" stroke-width="9.3" stroke-linejoin="round" stroke-linecap="butt" />
<polyline points="1346.5,1573.4 1469,1588.3 1764.5,1703" fill="none" stroke="#fff" stroke-width="7.3" stroke-linejoin="round" stroke-linecap="butt" />
<polyline points="1346.5,1573.4 1469,1588.3 1764.5,1703" fill="none" stroke="#000" stroke-width="4.3" stroke-linejoin="round" stroke-linecap="butt" stroke-dasharray="15 15.5"/>
</g>
<circle cx="1469" cy="1588.3" r="10" fill="#fff" stroke="#000" stroke-width="3.7"/>
<line x1="1346.6" y1="1367" x2="1346.6" y2="1769.3" stroke="#262626" stroke-width="1.4" />
<line x1="1346.6" y1="1367.7" x2="1763.7" y2="1367.7" stroke="#262626" stroke-width="1.4" />
<line x1="1346.6" y1="1768.6" x2="1763.7" y2="1768.6" stroke="#262626" stroke-width="1.4" />
<text x="1308.4" y="1384.9" font-size="30.8" text-anchor="end" font-family='"Liberation Sans", Arial, sans-serif' fill="#1a1a1a">10</text>
<text x="1337" y="1370.1" font-size="24.2" text-anchor="end" font-family='"Liberation Sans", Arial, sans-serif' fill="#1a1a1a">10</text>
<line x1="1346.6" y1="1407.73" x2="1353.9" y2="1407.73" stroke="#262626" stroke-width="1.3" />
<line x1="1346.6" y1="1397.65" x2="1353.9" y2="1397.65" stroke="#262626" stroke-width="1.3" />
<line x1="1346.6" y1="1390.49" x2="1353.9" y2="1390.49" stroke="#262626" stroke-width="1.3" />
<line x1="1346.6" y1="1384.94" x2="1353.9" y2="1384.94" stroke="#262626" stroke-width="1.3" />
<line x1="1346.6" y1="1380.41" x2="1353.9" y2="1380.41" stroke="#262626" stroke-width="1.3" />
<line x1="1346.6" y1="1376.57" x2="1353.9" y2="1376.57" stroke="#262626" stroke-width="1.3" />
<line x1="1346.6" y1="1373.25" x2="1353.9" y2="1373.25" stroke="#262626" stroke-width="1.3" />
<line x1="1346.6" y1="1370.32" x2="1353.9" y2="1370.32" stroke="#262626" stroke-width="1.3" />
<line x1="1346.6" y1="1424.97" x2="1353.9" y2="1424.97" stroke="#262626" stroke-width="1.4" />
<line x1="1346.6" y1="1465" x2="1353.9" y2="1465" stroke="#262626" stroke-width="1.3" />
<line x1="1346.6" y1="1454.92" x2="1353.9" y2="1454.92" stroke="#262626" stroke-width="1.3" />
<line x1="1346.6" y1="1447.76" x2="1353.9" y2="1447.76" stroke="#262626" stroke-width="1.3" />
<line x1="1346.6" y1="1442.21" x2="1353.9" y2="1442.21" stroke="#262626" stroke-width="1.3" />
<line x1="1346.6" y1="1437.68" x2="1353.9" y2="1437.68" stroke="#262626" stroke-width="1.3" />
<line x1="1346.6" y1="1433.84" x2="1353.9" y2="1433.84" stroke="#262626" stroke-width="1.3" />
<line x1="1346.6" y1="1430.52" x2="1353.9" y2="1430.52" stroke="#262626" stroke-width="1.3" />
<line x1="1346.6" y1="1427.59" x2="1353.9" y2="1427.59" stroke="#262626" stroke-width="1.3" />
<line x1="1346.6" y1="1482.24" x2="1361.3" y2="1482.24" stroke="#262626" stroke-width="1.4" />
<text x="1322.1" y="1499.44" font-size="30.8" text-anchor="end" font-family='"Liberation Sans", Arial, sans-serif' fill="#1a1a1a">10</text>
<text x="1337" y="1484.64" font-size="24.2" text-anchor="end" font-family='"Liberation Sans", Arial, sans-serif' fill="#1a1a1a">8</text>
<line x1="1346.6" y1="1522.27" x2="1353.9" y2="1522.27" stroke="#262626" stroke-width="1.3" />
<line x1="1346.6" y1="1512.19" x2="1353.9" y2="1512.19" stroke="#262626" stroke-width="1.3" />
<line x1="1346.6" y1="1505.03" x2="1353.9" y2="1505.03" stroke="#262626" stroke-width="1.3" />
<line x1="1346.6" y1="1499.48" x2="1353.9" y2="1499.48" stroke="#262626" stroke-width="1.3" />
<line x1="1346.6" y1="1494.95" x2="1353.9" y2="1494.95" stroke="#262626" stroke-width="1.3" />
<line x1="1346.6" y1="1491.11" x2="1353.9" y2="1491.11" stroke="#262626" stroke-width="1.3" />
<line x1="1346.6" y1="1487.79" x2="1353.9" y2="1487.79" stroke="#262626" stroke-width="1.3" />
<line x1="1346.6" y1="1484.86" x2="1353.9" y2="1484.86" stroke="#262626" stroke-width="1.3" />
<line x1="1346.6" y1="1539.51" x2="1353.9" y2="1539.51" stroke="#262626" stroke-width="1.4" />
<line x1="1346.6" y1="1579.55" x2="1353.9" y2="1579.55" stroke="#262626" stroke-width="1.3" />
<line x1="1346.6" y1="1569.46" x2="1353.9" y2="1569.46" stroke="#262626" stroke-width="1.3" />
<line x1="1346.6" y1="1562.3" x2="1353.9" y2="1562.3" stroke="#262626" stroke-width="1.3" />
<line x1="1346.6" y1="1556.75" x2="1353.9" y2="1556.75" stroke="#262626" stroke-width="1.3" />
<line x1="1346.6" y1="1552.22" x2="1353.9" y2="1552.22" stroke="#262626" stroke-width="1.3" />
<line x1="1346.6" y1="1548.39" x2="1353.9" y2="1548.39" stroke="#262626" stroke-width="1.3" />
<line x1="1346.6" y1="1545.06" x2="1353.9" y2="1545.06" stroke="#262626" stroke-width="1.3" />
<line x1="1346.6" y1="1542.13" x2="1353.9" y2="1542.13" stroke="#262626" stroke-width="1.3" />
<line x1="1346.6" y1="1596.79" x2="1361.3" y2="1596.79" stroke="#262626" stroke-width="1.4" />
<text x="1322.1" y="1613.99" font-size="30.8" text-anchor="end" font-family='"Liberation Sans", Arial, sans-serif' fill="#1a1a1a">10</text>
<text x="1337" y="1599.19" font-size="24.2" text-anchor="end" font-family='"Liberation Sans", Arial, sans-serif' fill="#1a1a1a">6</text>
<line x1="1346.6" y1="1636.82" x2="1353.9" y2="1636.82" stroke="#262626" stroke-width="1.3" />
<line x1="1346.6" y1="1626.73" x2="1353.9" y2="1626.73" stroke="#262626" stroke-width="1.3" />
<line x1="1346.6" y1="1619.58" x2="1353.9" y2="1619.58" stroke="#262626" stroke-width="1.3" />
<line x1="1346.6" y1="1614.03" x2="1353.9" y2="1614.03" stroke="#262626" stroke-width="1.3" />
<line x1="1346.6" y1="1609.49" x2="1353.9" y2="1609.49" stroke="#262626" stroke-width="1.3" />
<line x1="1346.6" y1="1605.66" x2="1353.9" y2="1605.66" stroke="#262626" stroke-width="1.3" />
<line x1="1346.6" y1="1602.34" x2="1353.9" y2="1602.34" stroke="#262626" stroke-width="1.3" />
<line x1="1346.6" y1="1599.41" x2="1353.9" y2="1599.41" stroke="#262626" stroke-width="1.3" />
<line x1="1346.6" y1="1654.06" x2="1353.9" y2="1654.06" stroke="#262626" stroke-width="1.4" />
<line x1="1346.6" y1="1694.09" x2="1353.9" y2="1694.09" stroke="#262626" stroke-width="1.3" />
<line x1="1346.6" y1="1684" x2="1353.9" y2="1684" stroke="#262626" stroke-width="1.3" />
<line x1="1346.6" y1="1676.85" x2="1353.9" y2="1676.85" stroke="#262626" stroke-width="1.3" />
<line x1="1346.6" y1="1671.3" x2="1353.9" y2="1671.3" stroke="#262626" stroke-width="1.3" />
<line x1="1346.6" y1="1666.76" x2="1353.9" y2="1666.76" stroke="#262626" stroke-width="1.3" />
<line x1="1346.6" y1="1662.93" x2="1353.9" y2="1662.93" stroke="#262626" stroke-width="1.3" />
<line x1="1346.6" y1="1659.61" x2="1353.9" y2="1659.61" stroke="#262626" stroke-width="1.3" />
<line x1="1346.6" y1="1656.68" x2="1353.9" y2="1656.68" stroke="#262626" stroke-width="1.3" />
<line x1="1346.6" y1="1711.33" x2="1361.3" y2="1711.33" stroke="#262626" stroke-width="1.4" />
<text x="1322.1" y="1728.53" font-size="30.8" text-anchor="end" font-family='"Liberation Sans", Arial, sans-serif' fill="#1a1a1a">10</text>
<text x="1337" y="1713.73" font-size="24.2" text-anchor="end" font-family='"Liberation Sans", Arial, sans-serif' fill="#1a1a1a">4</text>
<line x1="1346.6" y1="1751.36" x2="1353.9" y2="1751.36" stroke="#262626" stroke-width="1.3" />
<line x1="1346.6" y1="1741.27" x2="1353.9" y2="1741.27" stroke="#262626" stroke-width="1.3" />
<line x1="1346.6" y1="1734.12" x2="1353.9" y2="1734.12" stroke="#262626" stroke-width="1.3" />
<line x1="1346.6" y1="1728.57" x2="1353.9" y2="1728.57" stroke="#262626" stroke-width="1.3" />
<line x1="1346.6" y1="1724.03" x2="1353.9" y2="1724.03" stroke="#262626" stroke-width="1.3" />
<line x1="1346.6" y1="1720.2" x2="1353.9" y2="1720.2" stroke="#262626" stroke-width="1.3" />
<line x1="1346.6" y1="1716.88" x2="1353.9" y2="1716.88" stroke="#262626" stroke-width="1.3" />
<line x1="1346.6" y1="1713.95" x2="1353.9" y2="1713.95" stroke="#262626" stroke-width="1.3" />
<line x1="1373.21" y1="1768.6" x2="1373.21" y2="1761.3" stroke="#262626" stroke-width="1.3" />
<line x1="1415.74" y1="1768.6" x2="1415.74" y2="1761.3" stroke="#262626" stroke-width="1.3" />
<line x1="1448.73" y1="1768.6" x2="1448.73" y2="1761.3" stroke="#262626" stroke-width="1.3" />
<line x1="1475.68" y1="1768.6" x2="1475.68" y2="1761.3" stroke="#262626" stroke-width="1.3" />
<line x1="1498.47" y1="1768.6" x2="1498.47" y2="1761.3" stroke="#262626" stroke-width="1.3" />
<line x1="1518.21" y1="1768.6" x2="1518.21" y2="1761.3" stroke="#262626" stroke-width="1.3" />
<line x1="1535.62" y1="1768.6" x2="1535.62" y2="1761.3" stroke="#262626" stroke-width="1.3" />
<line x1="1653.67" y1="1768.6" x2="1653.67" y2="1761.3" stroke="#262626" stroke-width="1.3" />
<line x1="1713.61" y1="1768.6" x2="1713.61" y2="1761.3" stroke="#262626" stroke-width="1.3" />
<line x1="1756.14" y1="1768.6" x2="1756.14" y2="1761.3" stroke="#262626" stroke-width="1.3" />
<line x1="1551.2" y1="1768.6" x2="1551.2" y2="1753.9" stroke="#262626" stroke-width="1.4" />
<line x1="1413.02" y1="1367.7" x2="1413.02" y2="1382.4" stroke="#262626" stroke-width="1.4" />
<text x="1413.82" y="1350.6" font-size="30.8" text-anchor="middle" font-family='"Liberation Sans", Arial, sans-serif' font-weight="normal" font-style="normal" fill="#1a1a1a" >16</text>
<line x1="1515.49" y1="1367.7" x2="1515.49" y2="1382.4" stroke="#262626" stroke-width="1.4" />
<text x="1516.29" y="1350.6" font-size="30.8" text-anchor="middle" font-family='"Liberation Sans", Arial, sans-serif' font-weight="normal" font-style="normal" fill="#1a1a1a" >8</text>
<line x1="1617.96" y1="1367.7" x2="1617.96" y2="1382.4" stroke="#262626" stroke-width="1.4" />
<text x="1618.76" y="1350.6" font-size="30.8" text-anchor="middle" font-family='"Liberation Sans", Arial, sans-serif' font-weight="normal" font-style="normal" fill="#1a1a1a" >4</text>
<line x1="1720.43" y1="1367.7" x2="1720.43" y2="1382.4" stroke="#262626" stroke-width="1.4" />
<text x="1721.23" y="1350.6" font-size="30.8" text-anchor="middle" font-family='"Liberation Sans", Arial, sans-serif' font-weight="normal" font-style="normal" fill="#1a1a1a" >2</text>
<text x="1523.6" y="1818.3" font-size="30.8" font-family='"Liberation Sans", Arial, sans-serif' fill="#1a1a1a">10<tspan dy="-14.2" dx="1.6" font-size="24.2">-3</tspan></text>
<text x="1351.2" y="1822" font-size="42.5" text-anchor="start" font-family='"Liberation Sans", Arial, sans-serif' font-weight="bold" font-style="normal" fill="#000" >i)</text>
<text x="1470.5" y="1856.8" font-size="33" font-family='"Liberation Serif", "Times New Roman", serif' fill="#1a1a1a" textLength="169" lengthAdjust="spacingAndGlyphs"><tspan font-style="italic">k</tspan> [rad m<tspan dy="-12.5" font-size="23">−1</tspan><tspan dy="12.5">]</tspan></text>
<text x="1507.1" y="1307" font-size="33" font-family='"Liberation Serif", "Times New Roman", serif' fill="#1a1a1a" textLength="93" lengthAdjust="spacingAndGlyphs"><tspan font-style="italic">r</tspan> [km]</text>
<text transform="translate(1254.8,1570.05) rotate(-90)" font-size="35.5" font-family='"Liberation Serif", "Times New Roman", serif' fill="#1a1a1a"><tspan x="-88.9" font-style="italic">P</tspan><tspan x="-61.5">(</tspan><tspan x="-47.9" font-style="italic">k</tspan><tspan x="-29.5">)</tspan><tspan x="-3.5">[</tspan><tspan x="8.7" font-size="30" textLength="69" lengthAdjust="spacingAndGlyphs">m/rad</tspan><tspan x="80.5">]</tspan></text>
<line x1="1523.1" y1="1422.3" x2="1601" y2="1422.3" stroke="#000" stroke-width="4.7" />
<text x="1606.9" y="1408.4" font-size="28.5" font-family='"Liberation Serif", "Times New Roman", serif' fill="#111" textLength="91.1" lengthAdjust="spacingAndGlyphs">Density</text>
<text x="1606.9" y="1442.5" font-size="28.5" font-family='"Liberation Serif", "Times New Roman", serif' fill="#111" textLength="113.3" lengthAdjust="spacingAndGlyphs">spectrum</text>
<text x="1606.9" y="1473.7" font-size="30" font-style="italic" font-family='"Liberation Serif", "Times New Roman", serif' fill="#111" textLength="16" lengthAdjust="spacingAndGlyphs">α</text>
<text x="1625.2" y="1477.3" font-size="20" font-family='"Liberation Serif", "Times New Roman", serif' fill="#111">1</text>
<text x="1646" y="1473.7" font-size="28.5" font-family='"Liberation Serif", "Times New Roman", serif' fill="#111" textLength="19" lengthAdjust="spacingAndGlyphs">=</text>
<text x="1675.8" y="1473.7" font-size="28.5" font-family='"Liberation Serif", "Times New Roman", serif' fill="#111" textLength="51.8" lengthAdjust="spacingAndGlyphs">-0.8,</text>
<line x1="1523.1" y1="1485.6" x2="1601" y2="1485.6" stroke="#000" stroke-width="5" stroke-dasharray="16 15.6"/>
<text x="1616.9" y="1507.8" font-size="30" font-style="italic" font-family='"Liberation Serif", "Times New Roman", serif' fill="#111" textLength="16" lengthAdjust="spacingAndGlyphs">α</text>
<text x="1635.2" y="1511.4" font-size="20" font-family='"Liberation Serif", "Times New Roman", serif' fill="#111">2</text>
<text x="1656" y="1507.8" font-size="28.5" font-family='"Liberation Serif", "Times New Roman", serif' fill="#111" textLength="19" lengthAdjust="spacingAndGlyphs">=</text>
<text x="1685.8" y="1507.8" font-size="28.5" font-family='"Liberation Serif", "Times New Roman", serif' fill="#111" textLength="51.8" lengthAdjust="spacingAndGlyphs">-2.3,</text>
<line x1="1371.3" y1="1714.9" x2="1448.5" y2="1714.9" stroke="#f00" stroke-width="3.7" />
<text x="1455.2" y="1702.3" font-size="28.5" font-family='"Liberation Serif", "Times New Roman", serif' fill="#111" textLength="126" lengthAdjust="spacingAndGlyphs">Clustering</text>
<text x="1455.2" y="1735.5" font-size="28.5" font-family='"Liberation Serif", "Times New Roman", serif' fill="#111" textLength="113.3" lengthAdjust="spacingAndGlyphs">spectrum</text>
</svg></body></html>
